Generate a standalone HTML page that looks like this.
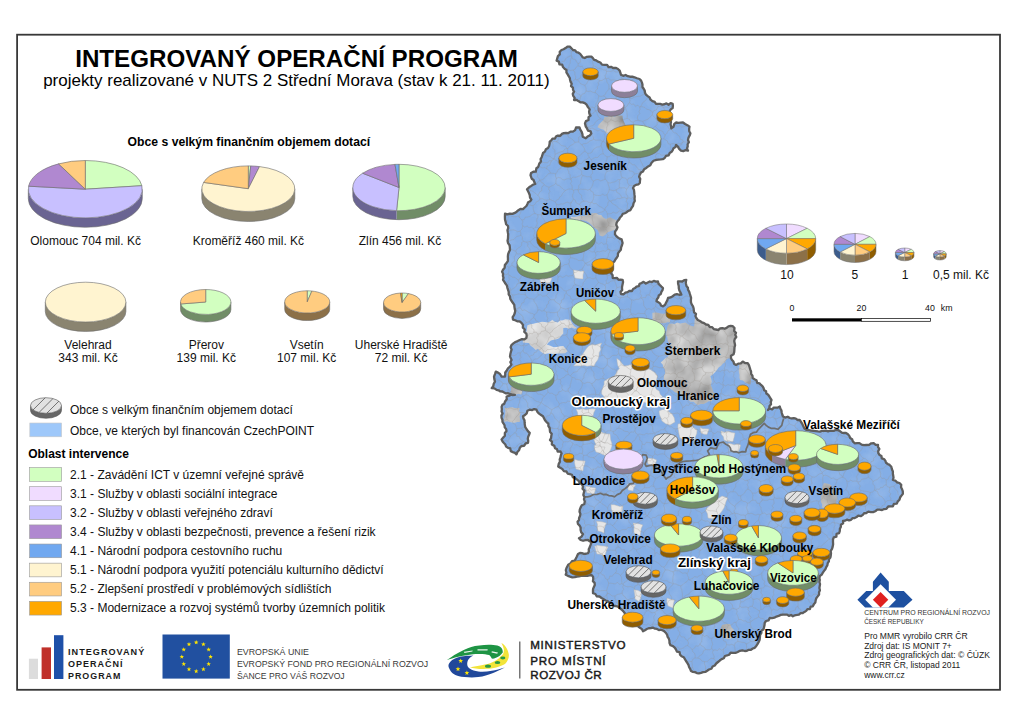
<!DOCTYPE html>
<html><head><meta charset="utf-8"><style>
html,body{margin:0;padding:0;background:#fff;}
svg{display:block;font-family:"Liberation Sans",sans-serif;}
</style></head><body>
<svg width="1024" height="724" viewBox="0 0 1024 724">
<rect x="0" y="0" width="1024" height="724" fill="#fff"/>
<defs><filter id="blur2" x="-20%" y="-20%" width="140%" height="140%"><feGaussianBlur stdDeviation="1.5"/></filter></defs>
<rect x="17.1" y="34.7" width="982.9" height="655.1" fill="none" stroke="#383838" stroke-width="1.8"/>
<text x="75.2" y="66.7" font-size="23.2" font-weight="bold" text-anchor="start" fill="#000" textLength="442.6" lengthAdjust="spacingAndGlyphs">INTEGROVANÝ OPERAČNÍ PROGRAM</text>
<text x="43.2" y="85.8" font-size="17" font-weight="normal" text-anchor="start" fill="#000" textLength="506.4" lengthAdjust="spacingAndGlyphs">projekty realizované v NUTS 2 Střední Morava (stav k 21. 11. 2011)</text>
<defs><path id="mo" d="M556.6 60.7 L557.26 58.41 L557.93 56.13 L559.81 54.41 L559.74 51.78 L561.5 50 L563.6 49.22 L565.55 48.05 L567.39 46.63 L569.8 46.6 L571.39 48.31 L573 50 L575.2 50.38 L576.45 52.18 L578.54 52.72 L580.2 53.89 L581.51 55.59 L582.75 57.4 L584.8 58 L586.84 56.8 L589.09 56.53 L591.4 56.6 L592.9 58.05 L594.16 59.81 L596.26 60.47 L598 61.6 L600.32 62.51 L602.05 64.65 L604.7 64.9 L607.09 64.83 L608.6 67.12 L611.07 66.83 L613 68 L615.64 67.8 L618 69 L619.68 70.58 L620.34 72.69 L621 74.8 L623.13 75.84 L625.62 75.01 L627.72 76.21 L629.95 76.74 L632.3 76.63 L634.5 77.3 L636.97 78.24 L639.5 79 L641.12 80.63 L641.94 82.59 L642.48 84.66 L642.42 86.99 L643.7 88.76 L644.72 90.63 L645.03 92.8 L646 94.7 L647.73 96.15 L649.6 97.44 L650.6 99.69 L652.4 101.06 L654.68 101.9 L656 103.8 L658.09 103.95 L660.17 103.85 L662.26 104.55 L664.35 104.26 L666.44 103.38 L668.53 104.76 L670.61 103.04 L672.7 103.8 L672.86 105.9 L672.7 108 L670.72 109.4 L669.5 111.5 L670.49 113.5 L670.12 115.7 L671.31 117.67 L670.37 119.95 L671 122 L670.57 124.13 L671.05 126.21 L671.3 128.3 L673.45 126.84 L674.14 124.2 L676 122.5 L678.33 122.89 L680.67 122.69 L683 122.5 L685.08 124 L687.38 125.16 L689.5 126.6 L689.13 128.92 L689.22 131.19 L690.4 133.3 L689.65 135.55 L688.49 137.66 L688 140 L688.88 142.14 L687.6 144.28 L687.71 146.42 L687.01 148.56 L688 150.7 L685.67 150.06 L683.33 151.13 L681 150.7 L679.16 148.92 L677.92 146.61 L676 144.9 L675.49 147.11 L673.54 148.19 L672.74 150.17 L671.56 151.85 L669.7 153 L668.66 155.29 L665.99 155.95 L664.7 158 L662.78 159.17 L660.66 159.39 L658.52 159.56 L656.4 159.8 L653.5 160.77 L651.4 163 L650.31 165.27 L648.11 166.43 L646.29 167.97 L644.14 169.18 L643 171.4 L640.94 172.61 L639.8 174.7 L639.07 176.77 L640.24 178.85 L639.97 180.93 L639.8 183 L638.27 184.48 L635.94 184.88 L634.16 186.01 L633 188 L633.99 190.07 L634.24 192.24 L634.43 194.43 L634.73 196.59 L634.53 198.83 L634.8 201 L633.54 203.26 L633.03 205.87 L631.5 208 L630.47 210.1 L628.3 210.79 L626.71 212.2 L624.82 213.23 L622.68 213.96 L621.6 216 L620.04 217.47 L619.08 219.38 L617.66 220.96 L616.6 222.8 L616.25 225.03 L617.49 227.27 L616.6 229.5 L615.04 231.7 L615 234.4 L616.31 236.1 L617.85 237.5 L619.59 238.62 L621.6 239.4 L622.6 243 L621.98 245.23 L621.14 247.37 L620.87 249.73 L619.3 251.6 L617.97 253.37 L617.86 255.84 L616.75 257.73 L615.4 259.49 L614.38 261.44 L612.7 263 L612.68 265.05 L612.9 267.15 L612.67 269.17 L612.03 271.12 L611 273 L612.6 275.24 L612.7 278 L614.73 278.09 L616.83 277.79 L618.51 279.82 L620.58 279.66 L622.6 279.8 L623.07 281.91 L622.64 283.91 L622.22 285.92 L621.96 287.94 L622.21 290.03 L620.54 291.89 L621 294 L623.46 294.35 L625.38 292.73 L627.59 292.17 L629.58 290.8 L632 291 L633.09 289.06 L635 288.09 L636.5 286.64 L638.82 286.17 L639.57 283.81 L641.6 283 L643.56 281.85 L645.79 283.5 L647.76 282.46 L649.73 281.5 L651.86 282.09 L653.81 280.86 L655.96 281.66 L658 281.4 L658.49 283.63 L659.92 285.14 L661.44 286.59 L663 288 L662.5 290.11 L661.38 291.92 L660.81 293.99 L658.8 295.36 L658.3 297.47 L656.93 299.15 L656.5 301.3 L658.33 302.28 L660.09 303.36 L661 305.54 L663 306.3 L665.08 304.73 L666.1 302.51 L667.27 300.39 L668 298 L670.51 297.47 L672.68 296.23 L674.7 294.7 L676.93 294.15 L679.17 294.74 L681.4 294.7 L680.55 292.55 L679.35 290.5 L678.79 288.28 L678.71 285.94 L678.1 283.74 L678 281.4 L680.15 281.38 L682.32 281.5 L684.21 280.1 L686.3 279.8 L685.78 281.93 L686.02 283.93 L686.42 285.89 L687.93 287.67 L688 289.7 L689.16 291.61 L689.77 293.69 L690.46 295.75 L691.07 297.83 L690.89 300.15 L690.98 302.38 L691.72 304.42 L693 306.3 L693.59 308.24 L693.81 310.28 L694.07 312.31 L696 313.87 L695.44 316.14 L696.3 318 L697.78 319.98 L699.87 321.07 L701.84 322.32 L704.08 323.16 L706 324.5 L708.29 324.92 L709.74 327.02 L712.15 327.2 L713.73 329.04 L716 329.5 L718.28 330.01 L720.16 328.47 L722.26 328.07 L724.57 328.73 L726.59 327.88 L728.47 326.38 L730.56 325.88 L732.8 326.2 L734.49 328.1 L734.2 330.95 L736 332.8 L735.19 334.82 L736.3 337.02 L734.75 338.96 L734.24 341.01 L734.69 343.14 L735.1 345.28 L734.5 347.32 L734.4 349.4 L734.24 351.87 L733.61 354.15 L730.97 355.66 L731 358.2 L732.01 360.05 L733.46 361.58 L734.05 363.74 L736 364.9 L738.17 363.68 L740.8 363.37 L742.7 361.6 L745 363.02 L747.7 363.2 L748.96 365.13 L749.6 367.27 L750.24 369.41 L751.05 371.49 L751.11 373.83 L752.44 375.73 L752.7 378 L754.45 379.28 L756.48 380.24 L757.12 382.83 L759.49 383.38 L761 384.94 L762.6 386.4 L763.58 388.16 L764.16 390.18 L766.08 391.31 L766.37 393.53 L768.18 394.74 L769.3 396.4 L770.35 398.23 L771.5 400 L770.76 401.98 L771.01 404.32 L769.51 406.04 L769.3 408.21 L768 410 L769.68 408.47 L772.1 409.41 L773.71 407.62 L775.85 407.62 L777.96 407.52 L779.8 406.5 L780.33 408.53 L781.41 410.39 L781.69 412.51 L782.25 414.53 L783 416.5 L785.14 417.56 L787.7 416.73 L789.8 418 L791.76 418.48 L793.85 418.23 L795.82 418.64 L797.62 419.98 L799.7 419.8 L801.01 421.81 L802.24 423.87 L803.23 426.09 L804.29 428.25 L806.3 429.8 L808.66 430.01 L810.95 430.66 L813.32 430.77 L815.66 431.1 L818 431.4 L820.03 431.61 L821.99 430.95 L824.01 430.93 L826 430.65 L828.08 431.39 L830.04 430.73 L832.07 430.91 L834.08 430.86 L836 429.8 L838.15 429.98 L839.96 431.19 L841.73 432.56 L843.79 433.01 L846 433 L847.92 434.22 L849.31 435.88 L850.17 437.97 L852.1 439.18 L852.8 441.4 L854.7 443.3 L857.1 443.13 L859.46 443.14 L861.61 444.66 L863.9 445.22 L866.3 445 L869.06 444.9 L871.3 443.3 L873.7 443.2 L875.66 444.85 L878 445 L878 447.05 L879.35 448.89 L878.2 451.12 L878.36 453.15 L879.6 455 L881.42 456.02 L881.82 458.47 L884.03 459.1 L885.33 460.64 L886.05 462.77 L887.7 463.96 L889.6 464.9 L891.31 466.8 L891.92 469.24 L892.9 471.5 L892.87 473.57 L893.22 475.65 L893.51 477.73 L892.9 479.8 L895.26 480.54 L897.11 482.33 L899.5 483 L901.22 484.75 L901.05 487.24 L902.09 489.26 L902.8 491.4 L902.87 493.83 L901.46 495.67 L900.09 497.53 L899.5 499.7 L897.83 501.33 L896.82 503.62 L893.86 503.96 L892.9 506.3 L890.54 506.31 L888.23 506.52 L886.45 508.77 L884.15 509.02 L882.04 510.03 L879.6 509.7 L877.25 509.71 L875.28 511.25 L873.13 512.07 L870.77 512.05 L868.32 511.65 L866.3 513 L864.11 513.25 L862.62 515.11 L860.78 516.14 L858.23 515.56 L856.58 517.04 L854.7 518 L852.65 518.11 L851 519.8 L849.07 520.36 L846.81 519.64 L844.99 520.64 L843 521 L843.17 523.26 L840.89 524.73 L840.82 526.92 L839.87 528.82 L839.8 531 L839.09 533.22 L836.52 533.95 L836.4 536.64 L833.79 537.35 L833 539.5 L832.99 541.87 L833.12 544.25 L832.7 546.6 L832.03 548.81 L830.74 550.86 L831 553.3 L830.78 555.43 L830.38 557.49 L828.97 559.22 L828.86 561.39 L827.7 563.2 L827.34 565.43 L826.22 567.23 L825.37 569.19 L824.07 570.89 L822.84 572.63 L821.82 574.49 L819.98 575.9 L819.4 578 L819.82 580 L819.4 582 L820.04 584 L819.71 586 L819.4 588 L819.92 590.29 L819.04 592.3 L819.08 594.49 L817.7 596.4 L816.3 598.17 L815.65 600.31 L815.32 602.62 L813.83 604.34 L812.8 606.3 L810.65 606.69 L809.9 609.19 L807.44 609.12 L806.21 610.88 L804.47 611.89 L802.8 613 L800.61 613.03 L798.91 614.52 L796.86 614.97 L794.76 615.28 L792.9 616.3 L791.08 615.01 L788.89 615.93 L787.07 614.63 L785.05 614.53 L783 614.6 L780.72 614.9 L778.61 615.92 L776.43 616.6 L774.35 617.73 L772.1 618.15 L769.7 618 L768.64 620.27 L766.03 620.99 L764.7 623 L764.5 625.13 L764.02 627.17 L763.51 629.2 L761.41 630.7 L761.4 632.9 L760.12 634.92 L759.94 637.21 L759.7 639.5 L758.82 641.8 L757.64 643.92 L756.3 645.94 L754.7 647.8 L752.74 648.52 L750.95 649.73 L748.79 649.82 L746.93 650.81 L744.8 651 L742.3 650.45 L739.94 650.79 L737.71 651.99 L735.44 652.95 L733 652.8 L730.63 652.73 L729.09 654.75 L727.03 655.47 L724.9 656 L723.83 658.25 L721.61 659.18 L719.76 660.54 L718 662 L716.2 663.5 L714.78 665.46 L712.59 666.49 L711.43 668.76 L709 669.5 L707.18 670.76 L705.31 671.91 L703.08 672.16 L701 672.8 L698.84 673.34 L696.83 673.02 L694.93 672.11 L692.91 671.89 L691 671 L690.15 668.92 L689.05 666.97 L688.45 664.78 L687.28 662.86 L686 661 L684.9 659.07 L683.71 657.22 L681.55 656.22 L680.02 654.66 L679.59 652.15 L676.9 651.6 L676 649.5 L674.69 647.56 L672.95 646.05 L670.48 645.27 L669.5 643 L669.43 640.78 L668.84 638.74 L667.64 636.92 L667.14 634.85 L666 633 L663.84 630.83 L661 629.7 L658.88 630.07 L657.01 628.97 L655 628.67 L653.11 627.68 L651 628 L648.77 628.26 L646.75 629.05 L644.94 630.32 L643 631.3 L641.89 629.08 L639.93 627.71 L638 626.3 L636.12 625.27 L633.83 625.49 L631.71 625.21 L629.77 624.36 L628 623 L627.08 621.09 L625.93 619.25 L626.66 616.79 L625.47 614.96 L624.7 613 L623.21 611.15 L621.55 609.49 L619.7 608 L617.88 606.68 L615.73 606.02 L613.31 605.89 L612.05 603.47 L609.8 603 L607.98 601.32 L605.65 600.49 L603.61 599.19 L601.5 598 L599.53 596.52 L596.82 596.36 L595.36 593.99 L593 593.2 L592.97 591.04 L593.07 588.92 L593.89 586.95 L594.8 585 L594.58 582.86 L592.92 581.18 L593.28 578.85 L593.06 576.7 L591.5 575 L589.41 575.29 L587.36 575.78 L585.24 575.87 L583.1 575.74 L580.99 575.85 L578.94 576.42 L576.85 576.64 L574.8 577.2 L572.3 577.39 L570.06 576.63 L567.84 575.8 L565.7 574.7 L566.45 572.52 L565.84 570.19 L566.5 568 L568.2 564.8 L570.47 563.51 L572.08 561.18 L574.8 560.6 L576.5 557.3 L578 554 L579.93 552.96 L581.96 553.22 L584.03 553.86 L586.03 553.74 L588 553.2 L588.9 551.37 L588.73 549.22 L589.7 547.4 L590.58 544.91 L591.4 542.4 L589.66 541.26 L588 540 L585.53 540.07 L583.07 540.76 L580.6 540 L579 538.2 L581.57 536.64 L583 534 L581.28 532.31 L580.6 530 L580.61 527.62 L579.67 525.65 L578 524 L577.56 521.77 L579 520 L579.08 517.93 L579.96 515.93 L580.41 513.89 L579.54 511.75 L579.8 509.7 L580.65 507.39 L581.8 505.25 L584.31 503.93 L584.8 501.4 L583.97 499.33 L584.45 497.09 L583.32 495.06 L583.82 492.82 L584.41 490.58 L582.53 488.63 L583 486.4 L581.82 484.27 L579.73 483.03 L578.63 480.82 L576.73 479.4 L574.8 478 L572.81 477.12 L571.97 474.77 L569.8 474.12 L567.57 473.55 L566.5 471.5 L563.91 471.1 L562.34 469.01 L560.22 467.83 L558.2 466.5 L558.73 463.91 L560 461.6 L559.69 459.39 L560.49 457.39 L560.84 455.31 L561.6 453.3 L560.36 451.51 L557.7 451.59 L556.95 449.15 L555 448.3 L554.33 445.88 L551.85 444.54 L551.98 441.63 L550 440 L551.06 438.13 L551.3 436 L551.69 433.84 L550.09 432.08 L549.85 430.05 L549.7 428 L548.4 426.16 L548.33 423.6 L546.5 422.06 L544.99 420.34 L543.99 418.32 L543 416.3 L541.03 414.97 L539.06 413.64 L537.49 411.91 L536.4 409.7 L534.17 409.03 L531.93 410.13 L529.7 409.7 L527.41 410.73 L526.7 413.36 L525 414.98 L523 416.3 L523.43 418.38 L524.51 420.32 L524.6 422.47 L524.8 424.6 L525.24 427.14 L526.59 429.14 L527.94 431.14 L529.7 432.9 L529.1 434.84 L528.21 436.72 L527.81 438.69 L528.24 440.8 L528 442.8 L525.64 443.47 L524.06 445.74 L521.5 446 L519.85 447.86 L519.08 450.25 L517.32 452.04 L516.5 454.4 L514.98 452.85 L512.84 452.1 L510.85 451.15 L510.22 448.45 L508 447.8 L506.13 446.6 L505.4 444.51 L503.91 443.01 L502.56 441.41 L501.6 439.5 L503.24 437.61 L504.88 435.73 L504.86 432.89 L506.5 431 L506.11 429.01 L504.76 427.37 L504.56 425.31 L503.57 423.54 L502.46 421.81 L502.4 419.7 L501.53 417.69 L501.42 415.61 L502.61 413.4 L501.6 411.4 L501.86 409.2 L501.58 406.93 L502.4 404.8 L504.34 403.65 L505 401.5 L506.75 399.3 L506.6 396.5 L508.65 395.98 L510.61 394.94 L512.7 394.62 L514.9 394.8 L512.48 395.06 L510.36 394.04 L508.2 393.2 L506.04 393.42 L504.19 392.57 L502.4 391.5 L500.34 391.43 L498.57 390.3 L496.6 389.9 L494.4 388.32 L491.7 388.2 L493.25 386.22 L493.74 383.72 L495 381.6 L494.33 379.13 L494 376.6 L494.95 374.12 L495.8 371.6 L498.02 372.59 L500 374 L501.6 376.6 L505 376.6 L505.22 374.58 L505.22 372.5 L506.6 370.8 L507.95 368.42 L510 366.6 L511.44 364.62 L510.34 362.02 L511.6 360 L510 356.6 L510.31 354.28 L510.86 351.99 L511.62 349.73 L510.64 347.25 L511.5 345 L513.34 343.36 L515.39 342.07 L517.62 341.08 L519.8 340 L521.97 339.16 L524.49 339.39 L526.4 337.8 L526.68 335.59 L526.33 333.51 L524.26 331.76 L524.8 329.5 L522.86 327.72 L522.97 324.91 L521.5 322.9 L519.66 321.34 L517.23 321.3 L515.19 320.26 L513 319.6 L512.64 317.14 L513.99 315.14 L514.8 313 L515.28 310.85 L514.72 308.88 L514.42 306.87 L514.29 304.83 L513 303 L511.54 300.97 L510.29 298.85 L510 296.3 L508.67 294.3 L508.71 291.89 L508 289.7 L507.33 287.56 L506.79 285.34 L505.4 283.56 L504.26 281.65 L503 279.8 L503.53 277.8 L502.91 275.8 L503.1 273.8 L502.08 271.8 L503 269.8 L504.67 267.79 L504.86 265.02 L506.5 263 L507.89 261.05 L507.95 258.74 L507.87 256.4 L508.11 254.14 L508.94 252.04 L510 250 L509.87 247.61 L509.59 245.25 L508.04 243.11 L507.55 240.78 L508 238.3 L508.05 236.25 L508.17 234.2 L507.78 232.15 L507.45 230.1 L508.2 228.05 L508 226 L506.11 224.24 L505.64 221.83 L505 219.5 L504.92 216.6 L505 213.7 L507.52 214.41 L509.92 213.59 L512.41 213.87 L514.8 212.9 L516.71 211.71 L518.4 210.14 L520.34 209.02 L523 209.09 L524.68 207.5 L526.4 206 L527.35 204.16 L528.15 202.21 L530.15 201.2 L531.4 199.6 L530 197.5 L529.74 195.06 L528.8 192.8 L527 189.3 L529.4 187 L531.26 185.86 L533.04 184.57 L535.2 184 L534.31 182.05 L533.58 180 L531.7 178.7 L530.5 175.2 L531.1 172.9 L533.31 171.77 L535.8 171.7 L536.4 168.2 L538.2 167 L539.3 163.5 L541 161.5 L540.59 159.16 L541.68 157.18 L542.35 155.09 L543 153 L544.92 151.59 L545.91 149.24 L548 148 L549.14 146.02 L549.6 143.86 L549.7 141.6 L551.28 140.36 L552.48 138.64 L555.01 138.59 L556 136.6 L557.87 135.53 L560.22 135.76 L561.82 133.93 L563.81 133.2 L566 133 L568.4 133.04 L570.52 131.66 L572.9 131.6 L575.17 130.1 L576 127.5 L579.5 127.3 L580.31 129.65 L581.69 131.8 L582.42 134.17 L582.7 136.7 L585.8 138.3 L587.53 136.61 L589.68 135.42 L591.3 133.6 L590.63 131.3 L587.99 130.54 L587.01 128.48 L585.8 126.6 L585 123.4 L585.91 121.12 L588.52 120.05 L588.54 117.14 L590.5 115.6 L589.34 113.65 L589.09 111.58 L589.7 109.4 L587.97 107.17 L586.6 104.7 L584.78 103.16 L582.67 102.38 L580.3 102.3 L578.36 101.1 L576.44 99.83 L574 100 L574.66 97.86 L573.26 95.91 L572.77 93.88 L574.07 91.68 L573 89.7 L572.94 87.62 L571.03 86.05 L571.72 83.76 L570.63 81.96 L570.09 80.02 L569.8 78 L568.66 76.1 L567.54 74.2 L566.4 72.3 L566.5 69.9 L564.55 68.69 L563 67.05 L562.17 64.63 L559.39 64.32 L558.88 61.55 Z"/></defs><clipPath id="mapclip"><use href="#mo"/></clipPath>
<filter id="tex" x="0" y="0" width="100%" height="100%"><feTurbulence type="fractalNoise" baseFrequency="0.06" numOctaves="3" seed="3"/><feColorMatrix values="0 0 0 0 0.45  0 0 0 0 0.6  0 0 0 0 0.85  0 0 0 -1.3 0.75"/></filter>
<filter id="gblur" x="-30%" y="-30%" width="160%" height="160%"><feGaussianBlur stdDeviation="1.6"/></filter>
<use href="#mo" fill="#84AEE6"/>
<g clip-path="url(#mapclip)">
<rect x="480" y="40" width="430" height="640" filter="url(#tex)" opacity="0.55"/>
<filter id="hill" x="0" y="0" width="100%" height="100%"><feTurbulence type="fractalNoise" baseFrequency="0.055" numOctaves="4" seed="5" result="n"/><feColorMatrix in="n" type="matrix" values="0.6 0 0 0 0.2  0.6 0 0 0 0.2  0.6 0 0 0 0.2  0 0 0 0 1" result="g"/><feGaussianBlur in="g" stdDeviation="0.9" result="gb"/><feComposite in="gb" in2="SourceAlpha" operator="in"/></filter>
<g filter="url(#hill)">
<path d="M722 625 L724.6 624.14 L727.3 624.08 L730 624 L731.52 627.32 L734 630 L732.45 632.82 L732.12 636.04 L731 639 L727.39 639.3 L724 638 L721.96 635.03 L720 632 L720.78 628.44 Z" fill="#000"/>
<path d="M604.5 116.4 L607.1 117.04 L609.62 115.62 L612.2 115.81 L614.82 116.66 L617.32 114.98 L619.92 115.55 L622.5 115.6 L622.73 118.36 L623.57 120.94 L624.8 123.4 L626.21 126.55 L626 130 L624.2 131.94 L621.98 133.09 L619.04 132.94 L617.41 135.18 L615 136 L612.43 134.77 L609.8 133.71 L606.9 133.6 L603.8 129.7 L600.55 128.77 L597.5 127.3 L598.71 124.77 L600.6 122.7 L603.8 119.5 Z" fill="#000"/>
<path d="M570.9 216.7 L573.87 217.37 L576.76 216.61 L579.65 215.82 L582.6 216.1 L585.33 215.75 L587.76 214.33 L590.37 213.54 L593.1 213.2 L596.02 212.93 L598.47 214.85 L601.3 215 L603.16 217.61 L606 219.1 L610.1 217.3 L613.25 218.97 L616.6 220.2 L616.05 223.81 L617.1 227.3 L614.98 229.76 L611.9 230.8 L607.2 232.5 L605.16 234.91 L602.5 236.6 L599.6 235.5 L598.66 232.86 L597.8 230.2 L594.3 227.8 L591.4 224.9 L588.85 222.61 L585.92 221.05 L582.6 220.2 L579.65 219.98 L576.69 219.79 L573.81 219.05 L570.9 218.5 Z" fill="#000"/>
<path d="M669 323.8 L671.77 323.55 L674.6 324.1 L677.25 322.53 L680.11 323.41 L682.87 323.06 L685.6 322.4 L688.1 324.32 L690.91 325.64 L693.9 326.6 L694.52 323.76 L694.46 320.82 L695.2 318 L697.72 318.44 L700.12 319.26 L702.32 320.74 L705.12 320.28 L707.49 321.23 L709.62 322.93 L712.31 322.82 L714.6 324 L717.15 322.57 L719.87 321.85 L722.82 322.09 L725.46 321.03 L728.47 321.51 L731 320 L732.32 322.47 L734.02 324.59 L736.81 325.71 L738.89 327.49 L740.7 329.51 L742 332 L741.6 334.5 L740.83 336.94 L740.89 339.52 L740.87 342.08 L740.15 344.52 L739.39 346.97 L738.89 349.45 L738.36 351.93 L737.78 354.4 L738 357 L734.76 357.14 L731.69 358.54 L728.4 358.3 L726.12 359.72 L724.96 362.26 L722.76 363.76 L721.16 365.86 L718.85 367.25 L717.3 369.4 L715.38 372.08 L713.02 374.32 L710.4 376.3 L711.2 378.99 L711.72 381.72 L710.76 384.64 L711.8 387.3 L713.07 390.8 L714.6 394.2 L713.96 396.65 L712.91 398.94 L711.8 401.2 L708.79 401.17 L706.28 402.83 L703.66 404.12 L700.6 403.95 L698 405.3 L695.71 403.68 L693.59 401.78 L690.37 401.8 L688.3 399.8 L686.08 398.46 L684.21 396.55 L682.03 395.14 L679.9 393.65 L677.3 392.9 L674.76 392.19 L672.94 390.41 L670.69 389.27 L669 387.3 L666.7 384.84 L666.04 381.3 L663.5 379 L664.11 375.82 L665.2 372.71 L664.9 369.4 L663.3 367.22 L662.66 364.46 L660.7 362.5 L662.94 360.6 L665.03 358.5 L667.6 357 L669.01 354.39 L670.23 351.72 L670.4 348.7 L668.79 346.16 L668.7 343.11 L667.6 340.4 L667.35 337.6 L666.17 334.95 L666.2 332.1 L666.91 329.26 L667.45 326.36 Z" fill="#000"/>
<path d="M652.4 312.8 L655.21 312.47 L657.97 312.76 L660.69 313.58 L663.45 313.87 L666.27 313.27 L669 314 L670.21 316.7 L669.98 319.56 L670 322.4 L667.48 322.23 L665.03 323.27 L662.52 323.19 L660 323 L657.27 322.5 L655.13 320.51 L652.4 320 L652.49 316.4 Z" fill="#000"/>
<path d="M738 362.5 L741.24 360.51 L745 360 L747.02 362.04 L747.96 364.71 L749.12 367.25 L750.38 369.73 L752 372 L752.43 374.61 L752 377.11 L750.75 379.52 L750.96 382.1 L750.5 384.6 L747.72 383.81 L745.11 382.62 L742.95 380.4 L740 380 L739.38 377.54 L739.55 374.99 L738.89 372.53 L738.71 370.02 L739.22 367.43 L739.17 364.9 Z" fill="#000"/>
<path d="M510.6 387 L513.27 386.75 L515.95 386.45 L518.62 387.41 L521.3 387 L521.83 389.5 L522.19 392 L521.3 394.5 L518.62 393.78 L515.95 394.64 L513.27 393.92 L510.6 394.5 L510.43 392 L511.29 389.5 Z" fill="#000"/>
<path d="M504.6 408 L507.13 407.93 L509.67 407.39 L512.2 407.13 L514.73 408.09 L517.27 408.25 L519.8 408 L519.06 410.8 L520.54 413.6 L519.58 416.4 L520.03 419.2 L519.8 422 L517.27 421.99 L514.73 422.64 L512.2 422.39 L509.67 421.96 L507.13 421.23 L504.6 422 L503.9 419.2 L504.58 416.4 L505.15 413.6 L505.44 410.8 Z" fill="#000"/>
<path d="M824 483 L826.86 483.49 L829.57 484.37 L832 486 L832.54 488.86 L833.73 491.38 L835.78 493.49 L837 496 L837.55 498.94 L835.74 501.68 L836.45 504.64 L836 507.5 L833.2 506.77 L830.4 507.28 L827.6 506.92 L824.8 508.11 L822 507.5 L822.19 504.57 L820.85 501.81 L820.85 498.89 L820.7 496 L821.96 493.55 L822.59 490.95 L822.13 488.06 L822.85 485.48 Z" fill="#000"/>
</g>
<filter id="hill2" x="0" y="0" width="100%" height="100%"><feTurbulence type="fractalNoise" baseFrequency="0.055" numOctaves="4" seed="9" result="n"/><feColorMatrix in="n" type="matrix" values="0.5 0 0 0 0.44  0.5 0 0 0 0.44  0.5 0 0 0 0.44  0 0 0 0 1" result="g"/><feGaussianBlur in="g" stdDeviation="0.9" result="gb"/><feComposite in="gb" in2="SourceAlpha" operator="in"/></filter>
<g filter="url(#hill2)">
<path d="M527.4 325.2 L530.31 324.32 L533.31 323.83 L536.2 322.9 L539.2 322.4 L541.97 321.72 L544.73 321.94 L547.5 322.4 L550.1 321.4 L552.3 319.7 L554.73 321.69 L557.8 322.4 L560 320.51 L562.91 320.24 L565.4 319 L570.2 319.7 L572.3 323.8 L574.45 326.25 L577.2 328 L574.42 328.83 L571.64 327.39 L568.86 328.69 L566.08 327.82 L563.3 328 L563.21 330.75 L563.3 333.5 L561.08 335.75 L559.2 338.3 L556.52 339.34 L553.7 339.84 L550.9 340.4 L548.74 342.34 L546.8 344.5 L550.3 345.78 L553.7 347.3 L556.94 347.12 L560.09 346.27 L563.3 345.9 L565.49 348.58 L567.5 351.4 L565.06 353.25 L562 353.5 L559.11 353.4 L556.23 353.75 L553.37 354.33 L550.45 353.49 L547.56 353.58 L544.7 354.2 L540.6 351.4 L537.8 348.7 L535.7 350 L533.35 347.75 L530.69 345.81 L528.8 343.1 L525.7 342.85 L522.6 342.5 L523 339.77 L524.7 337.6 L525.06 333.96 L526.7 330.7 L526.93 327.93 Z" fill="#000"/>
</g>
<path d="M616.8 358.4 L619.8 360.47 L621.93 363.4 L624.4 366 L627.96 365.52 L631.42 364.27 L635.11 364.72 L638.55 363.34 L642.2 363.5 L644.53 365.68 L647.04 367.61 L649.84 369.14 L652.4 371 L655.41 373.11 L657.4 376.2 L656.59 379.57 L655.99 382.98 L655 386.3 L656.29 389.28 L659.22 391.06 L660.16 394.29 L662.5 396.5 L660.09 399.55 L658.77 403.13 L657.4 406.7 L654.52 405.2 L651.16 405.12 L648.53 402.91 L645.24 402.63 L642.2 401.6 L638.97 400.87 L635.75 400.93 L632.52 402.14 L629.29 401.14 L626.06 400.91 L622.84 402.3 L619.61 401.84 L616.38 401.19 L613.15 402.15 L609.93 400.97 L606.7 401.6 L604.7 399.27 L603.72 396.25 L601.6 394 L601.67 390.71 L602.85 387.65 L604.13 384.6 L604.1 381.3 L607.29 379.18 L610.73 377.56 L614.3 376.2 L615.97 373.67 L617.39 370.97 L619.3 368.6 L617.75 365.38 L617.14 361.92 Z" fill="#E6E6E6" stroke="#B8B8B8" stroke-width="0.5"/>
<path d="M589 345.7 L592.04 344.49 L595.45 345.03 L598.51 343.96 L601.6 343 L600.33 346.13 L600.82 349.6 L599.2 352.66 L599 356 L597.88 359.61 L595.62 362.64 L594 366 L590.6 365.78 L587.2 366.22 L583.8 365.4 L580.4 365.91 L577 365.87 L573.6 366 L576.25 363 L577.33 358.99 L580 356 L582.84 353.94 L584.66 350.99 L586.62 348.16 Z" fill="#E6E6E6" stroke="#B8B8B8" stroke-width="0.5"/>
<path d="M576 409 L579.28 409.48 L582.57 408.62 L585.85 409.78 L589.13 409.12 L592.42 408.78 L595.7 409 L593.95 412.35 L593 416 L590 416.09 L587 416.52 L584 415.61 L581 416.72 L578 416 L577.49 412.36 Z" fill="#E6E6E6" stroke="#B8B8B8" stroke-width="0.5"/>
<path d="M596 431 L599.58 431.36 L602.95 432.72 L606.34 434.01 L610 434 L610.36 437.02 L610.74 440.04 L611.8 442.95 L612 446 L610.68 449.74 L608.64 453.05 L606 456 L603 454.45 L600.78 451.85 L598 450 L596.57 446.71 L595.35 443.33 L594 440 L595.28 437.14 L594.76 433.87 Z" fill="#E6E6E6" stroke="#B8B8B8" stroke-width="0.5"/>
<path d="M659 411 L662.38 409.58 L666 409 L668.84 411.69 L672 414 L674.22 417.73 L675 422 L670 425 L665.64 423.71 L662 421 L660.78 417.73 L659.4 414.51 Z" fill="#E6E6E6" stroke="#B8B8B8" stroke-width="0.5"/>
<path d="M678 424 L681.31 423.44 L684.62 422.89 L688 423 L690.92 425.44 L693.91 427.78 L697 430 L696.8 433.43 L695.47 436.63 L695 440 L691.52 442.03 L688 444 L684.98 442.47 L683.09 439.44 L680 438 L679.09 434.56 L678.44 431.08 L677.86 427.59 Z" fill="#E6E6E6" stroke="#B8B8B8" stroke-width="0.5"/>
<path d="M573.5 270 L576.98 270.55 L580.44 271.26 L584 271 L583.05 274.94 L583 279 L578.98 278.66 L575 278 L573.88 274.07 Z" fill="#E6E6E6" stroke="#B8B8B8" stroke-width="0.5"/>
<path d="M539 277 L542.31 276.47 L545.48 277.73 L548.74 277.85 L552 278 L550 283 L547 283.24 L544 282.77 L541 283 L539.91 280.03 Z" fill="#E6E6E6" stroke="#B8B8B8" stroke-width="0.5"/>
<path d="M700 427.5 L702.89 428.69 L705.94 428.87 L709 429 L707 434.5 L703.9 434.14 L701 433 Z" fill="#E6E6E6" stroke="#B8B8B8" stroke-width="0.5"/>
<path d="M721 431 L724.41 432.14 L728.1 431.28 L731.49 432.55 L735 433 L734.15 437.28 L733 441.5 L729.93 441.41 L726.88 441.2 L724 440 L723.42 436.86 L721.26 434.25 Z" fill="#E6E6E6" stroke="#B8B8B8" stroke-width="0.5"/>
<path d="M728 443.3 L731.14 443.81 L734.21 444.85 L737.53 444.01 L740.6 445 L739.75 448.67 L738 452 L734.02 451.33 L730 451 L729.01 447.15 Z" fill="#E6E6E6" stroke="#B8B8B8" stroke-width="0.5"/>
<path d="M598 432.3 L601.53 433.09 L605.05 433.93 L608.7 434 L607.95 437.2 L606.52 440.12 L605 443 L600 441 L598.69 436.72 Z" fill="#E6E6E6" stroke="#B8B8B8" stroke-width="0.5"/>
<path d="M594.6 445.2 L598.19 445.09 L601.43 447.01 L605 447 L603.56 450.68 L603 454.6 L599.62 452.98 L596 452 L594.53 448.76 Z" fill="#E6E6E6" stroke="#B8B8B8" stroke-width="0.5"/>
<path d="M574.7 459.3 L578.11 460.41 L581.64 460.82 L585.2 461 L584.52 464.35 L583.36 467.58 L583 471 L579.48 470.07 L576 469 L575.13 465.82 L574.51 462.62 Z" fill="#E6E6E6" stroke="#B8B8B8" stroke-width="0.5"/>
<path d="M646 458 L649.65 458.25 L653.27 458.61 L656.7 460 L655 465 L651.46 464.76 L648 464 L647.38 460.87 Z" fill="#E6E6E6" stroke="#B8B8B8" stroke-width="0.5"/>
<path d="M627.4 484 L631.46 484.81 L635.6 485 L633.79 487.78 L633 491 L628 490 L628.04 486.97 Z" fill="#E6E6E6" stroke="#B8B8B8" stroke-width="0.5"/>
<path d="M585.2 486.3 L588.79 486.5 L592.25 487.52 L595.8 488 L595 491.28 L594 494.5 L590.6 493.3 L587 493 L586.14 489.64 Z" fill="#E6E6E6" stroke="#B8B8B8" stroke-width="0.5"/>
<path d="M611 504.7 L614.04 504.65 L616.98 505.58 L619.92 506.41 L623 506 L622.44 510.4 L621 514.6 L617.12 513.2 L613 513 L611.25 509.03 Z" fill="#E6E6E6" stroke="#B8B8B8" stroke-width="0.5"/>
<path d="M596.4 521.3 L599.76 521.49 L603.07 522.02 L606.3 523 L605.15 526.25 L604.07 529.51 L604 533 L601.12 531.63 L598 531 L597.19 527.81 L597.53 524.43 Z" fill="#E6E6E6" stroke="#B8B8B8" stroke-width="0.5"/>
<path d="M633 523 L636.32 523.4 L639.62 523.92 L642.8 525 L641.23 528.51 L640.73 532.28 L640 536 L637.14 534.22 L634 533 L633.93 529.64 L634.1 526.26 Z" fill="#E6E6E6" stroke="#B8B8B8" stroke-width="0.5"/>
<path d="M705.6 510 L707.66 507.47 L710.22 505.35 L712.14 502.7 L714 500 L718.26 498.51 L722 496 L724.88 496.91 L727.7 498 L726.13 501.21 L725.13 504.63 L724 508 L722.24 510.69 L720.36 513.29 L717.85 515.38 L716 518 L712 518.68 L708 518 L707.43 513.81 Z" fill="#E6E6E6" stroke="#B8B8B8" stroke-width="0.5"/>
<path d="M594.7 546 L598.66 546.11 L602.56 546.59 L606.3 548 L605.75 552.17 L604 556 L600.69 554.34 L597 554 L595.61 550.07 Z" fill="#E6E6E6" stroke="#B8B8B8" stroke-width="0.5"/>
<path d="M633.9 589.8 L637.76 590.35 L641.3 592 L641.27 595.31 L640.48 598.44 L639 601.4 L635 599 L634.94 595.9 L634.48 592.84 Z" fill="#E6E6E6" stroke="#B8B8B8" stroke-width="0.5"/>
<path d="M667 598 L670.67 599.3 L674.5 600 L673.38 603.93 L673 608 L668 606 L666.81 602.09 Z" fill="#E6E6E6" stroke="#B8B8B8" stroke-width="0.5"/>
<path d="M596.5 545 L600.34 545.81 L604.27 546.12 L608.1 547 L606.58 550.04 L605.55 553.24 L605 556.6 L602.32 554.26 L599 553 L597.09 549.21 Z" fill="#E6E6E6" stroke="#B8B8B8" stroke-width="0.5"/>
<path d="M750.3 436.7l2.2 0.6l1.7 1.6l1.5 1.9l2.1 0.8l2.2 0.7l1.9 1.1M750.3 436.7l1.2 -2.3l0.9 -2.5M761.9 443.4l0.2 -2.3l1.2 -1.9l1.7 -1.8l0.6 -2.1l-0.2 -2.4M752.4 431.9l2.2 0l2.2 0l2.1 0.6l2.1 0.7l2.3 -1.5l2.1 1.2M488.7 369.4l2.2 1.4l2.3 1M493.2 371.8l-0.1 2.6l2.5 1.5l0.2 2.5M495.8 378.4l-2 1.1l-0.8 2l-1.9 1.3l-1.4 1.6l-0.5 2.3l-2.1 1l-0.5 2.3M750.5 587.2l-2.4 -1.2l-2.6 0.1l-2.6 0.1M750.5 587.2l-0.5 -2.4l2.3 -1.7l0.4 -2.1l0.9 -2.1l-0.2 -2.3M753.4 576.6l-2 -0.8l-1.2 -1.8M750.2 574l-2.2 0.5l-2.4 0l-2.4 -0.4l-1.9 2.5l-2.5 -0.7M738.8 575.9l1.1 2l0.2 2.3l1.6 1.7l0.5 2.2l0.7 2.1M845.5 523.9l2.2 -3.1M847.7 520.8l2.3 -0.1l1.7 1.2l1.8 1.1l2 0.6l1.6 1.4l2.4 -0.3l1.5 1.8M761.9 443.4l0.4 2M765.4 432.9l0.7 -0.8M766.1 432.1l2.1 0.3l2.1 -0.3l1.9 1.1l1.9 1.1l2.2 -0.3M776.3 434l1 2l-1.6 2l0.1 2l0.9 2.1l-0.6 2M762.3 445.4l2.4 0.5l2.2 -0.7l2.3 -0.6l2.2 -1l2.5 1.5l2.2 -1M786 454.7l0.4 2.1l0.3 2.1l-0.8 2.3l0.6 2.1l0.5 2.1l0.5 2.1M786 454.7l2.3 -0.6l2.2 1l2.3 -0.6l2.3 0.4l2.2 1.3l2.3 -0.9M787.5 467.5l2 -0.8l2.2 -0.5l1.6 -1.7l1.8 -1.2l2.5 -0.1l1.5 -1.8M799.6 455.3l-0.4 2l-0.8 2l0.7 2.1M868.1 516.5l-0.8 -2l0.5 -2.3l-2 -1.7l-0.3 -2.1l-0.2 -2.2M865.3 506.2l-3.5 -0.3M864.1 520.1l-1.4 -1.7l-2.1 -0.6l-2.4 -0.2l-1.1 -2.3l-1.6 -1.4l-1.7 -1.2l-2.3 -0.3M861.8 505.9l-1.8 0.9l-1.2 1.9l-2.3 0.2l-1.1 2l-2.7 -0.4l-1.2 1.9M847.7 520.8l-0.5 -2.3l1.9 -1.7l0.6 -2.1l0.2 -2.2M851.5 512.4l-1.6 0.1M805 452.5l1.7 -1.1l1 -1.9l1.9 -0.9l1.1 -1.8l2.1 -0.8l0.5 -2.5l2.4 -0.3l1.3 -1.6M805 452.5l1.7 1.6l2.7 -0.5l1.7 1.8M817 441.6l0.2 2.3l0.3 2.3l-0.2 2.5l1.4 2.1l0.5 2.2M819.2 453l-1.9 1.3l-2.1 0.3l-2.3 -0.4l-1.8 1.2M705.9 130.2l-2.1 -0.7l-2.2 -0.2l-2.2 0.4l-2.2 0l-2.1 -0.6l-2.1 -0.8l-2.2 0.9M704.6 139.2l-2.2 0.4l-2.1 -1.4l-2.2 0.3l-2.2 0.2l-2.2 0.4l-2.2 -0.7l-2.2 0.2M690.8 129.2l-1.1 2.3l1.3 2.6l-1.7 2.1l0 2.4M692.3 150.8l-1.5 -1.8l-0.7 -2.3l-1.8 -1.5M688.3 145.2l-1.4 -3.1M689.3 138.6l-1.3 1.7l-1.1 1.8M629.6 98.3l2.4 0.3l1.9 -1.3l2 -0.6l2.2 -0.3l2.2 -0.2l1.9 -1.1l2 -1.1M629.6 98.3l0.1 -2.6l-0.8 -2.3l-1.8 -1.9M631.1 83.9l2.3 -0.1l2.3 0.3l2.2 0.2l2.2 0.8M631.1 83.9l-1.1 0.7M644.2 94l-0.4 -2.5l-1.1 -2.2l-2.3 -1.6l-0.3 -2.6M630 84.6l-1 2.3l-0.8 2.4l-1.1 2.2M666.2 287.1l-2.4 -0.5l-2.1 -1.5l-2.4 -0.4l-2.5 0M654.8 273.6l0.6 2.2l0.2 2.2l0.5 2.2l0.5 2.3l0.2 2.2M676.3 264.6l0.7 2.1l-0.6 2.2l0.2 2.2l0.6 2.1l0.9 2l-1.2 2.3l1.8 1.9l-0.4 2.2M675 282.3l3.3 -0.7M621.5 135.1l1.8 1.4l1 1.9l-0.7 2.7l1.2 1.8l0.8 1.9l1 1.8l0.7 2l1.9 1.3M621.5 135.1l2.3 0l2.1 -0.4l1.8 -1.6l2 -1l2.2 0M629.2 149.9l1.8 -1.7l1 -2l-1 -3l1 -2l1.9 -1.7l0.8 -2.2M634.7 137.3l-1.3 -1.8l-0.4 -2.3M631.9 132.1l1.1 1.1M714.1 370.5l2.1 0.7l2 -0.4l2.1 0.8l2 -1.4l2.1 0.4M714.1 370.5l-1.3 1.5M724.4 370.6l-0.4 2l0.9 2.1l-1.2 2l-0.6 2l0.6 2.1l-1.1 1.9l0.8 2.1M723.4 384.8l-0.4 0.3M723 385.1l-2.1 -1l-1.8 -1.7l-3 1.1l-1.7 -1.9M714.4 381.6l-1 -2.3l0.1 -2.5l-1.2 -2.2l0.5 -2.6M714.1 370.5l0.1 -2l0.1 -2.1l-2.3 -1.7l0.4 -2.1l0 -2M705.4 357.9l2.6 0.1l2.1 1.5l2.3 1.1M705.4 357.9l-1.2 1.4M704.2 359.3l-0.3 2.1l-1.9 1.7l1.2 2.5l-1.3 1.9M701.9 367.5l0.8 2.1l1 1.9l2.1 1.1M712.8 372l-2.3 0.6l-2.3 0.2l-2.4 -0.2M576.8 79.8l2 -0.9l1.7 -1.3l0.7 -2.4l1.2 -1.8l1.7 -1.3l2.4 -0.5l1.2 -1.8M576.8 79.8l-1.4 -0.4M587.7 69.8l-1.9 -0.7l-2.2 -0.1l-1.2 -2.6l-2.3 0.2l-2 -0.7M575.4 79.4l0.3 -2.5l-0.8 -2.3l-0.1 -2.4l-1.6 -2.1M578.1 65.9l-1.9 1.1l-1 2.1l-2 1M559.1 64.7l-1.7 -1.3l-0.8 -2l-1.5 -1.5l-1.1 -1.8M559.1 64.7l1.5 1.7l-0.1 2.3M561.2 92.3l2 -1.4l2 -1.4l2.5 -0.4l2.3 -0.7M562.1 78.2l2 0.8l1.9 1.1l2.5 -0.7l1.6 1.7l2.1 0.7M570 88.4l1.1 -2.1l-0.3 -2.5l1.4 -2M560.5 68.7l2.3 1l2.3 0.1l2.4 -0.8M575.4 79.4l-1.9 0.9l-1.3 1.5M567.5 69l2.7 1.4l3 -0.3M679.2 610.8l-1.9 1.2l-2.2 0.2l-2.2 0.1l-2 0.8l-1.9 0.9l-2 0.8M679.2 610.8l-0.2 -2.5l-0.9 -2.5l1.5 -2.5l-0.7 -2.5M678.9 600.8l-2.6 0.3l-2.4 -1.2l-2.6 0M671.3 599.9l-2.5 0.6l-1.2 2.7l-2.6 0.5M665 603.7l-0.6 2.3l-2.3 1.4l-0.3 2.4M661.8 609.8l1.6 1.7l1.3 2l2.1 1.2M666.8 614.7l0.2 0.1M682.8 598.1l-2 1.2l-1.9 1.5M682.8 598.1l-0.4 -2l0.1 -2.1l-0.5 -2l-0.2 -2.1l-0.9 -1.9l-0.1 -2.1M680.8 585.9l-2.5 -0.7l-2.3 -1.2l-2.6 -0.2M673.4 583.8l-0.4 0.2M668.4 590.2l1 -2.4l2.2 -1.6l1.4 -2.2M668.4 590.2l0.8 1.9l0.1 2.1l1.7 1.6l0.7 1.9l-0.4 2.2M495.8 378.4l1.5 1.6l2.3 0.5l1.9 1.1l1.3 1.9M502.8 383.5l-0.6 2.2l-1.9 1.3l-0.5 2.4l-1.5 1.6l-0.8 2.2l-1.3 1.7l-2 1.3M500.2 368.3l2.4 0l2.1 1.6l2.3 0.3l2.3 0.6l2.4 0.5M504.5 356.2l2.8 -0.1M514.4 368.3l-1.1 1.7l-1.6 1.3M514.4 368.3l-1.2 -1.8l-0.2 -2.2l-2 -1.4l0.8 -2.6l-2.5 -1.2l-0.2 -2.2M509.1 356.9l-1.8 -0.8M493.2 371.8l2.7 -0.6l2.2 -1.2l2.1 -1.7M508.1 342l2.6 2.6M510.7 344.6l-0.4 1.9l-1.6 1.6l1.1 2.5l-2.3 1.4l0.9 2.3l-1.1 1.8M520.4 353l-2.6 -0.2l-1.8 2.1l-2.2 0.9l-2.7 -0.7l-2 1.8M520.4 353l-0.4 2.1l1.2 2.1l-1.7 2l1.5 2.1l-0.4 2l-0.4 2.1l-0.1 2M520.1 367.4l-2.9 0.2l-2.8 0.7M520.4 353l2.6 -2.7M510.7 344.6l2.1 0.5l2.1 0.3l2.2 -0.9l2.1 0.3l2 1.1l2.2 -0.5M523.4 345.4l0.6 2.5l-1 2.4M690.6 669.3l-2.3 0.2l-0.8 2.9l-2.9 -0.8l-1.1 2.4l-2.4 0l-1.5 1.8M690.6 669.3l0.1 2.1l0.3 2l-0.1 2.1l-1.2 2l0.2 2l-0.4 2l0.1 2.1l-0.7 2l0.9 2.1l-0.7 2l0.1 2.1l-0.8 2l1.4 2.1l-0.4 2l-0.2 2.1l0.2 2l0.1 2.1l-1.6 1.9l-0.3 2.1l0 2l0.8 2.1l0.3 2.1l0 2l-2.2 2l0.8 2.1l0.1 2M692.4 667.1l-0.1 -2.8l-0.4 -2.7M692.4 667.1l-1.8 2.2M680.2 661.4l2.4 0.3l2.3 0l2.3 0l2.4 -0.3l2.3 0.2M701.9 677l-0.9 -2.4l-2.2 -1l-1.6 -1.7l-2.3 -0.9l-1.6 -1.7l-0.9 -2.2M758 649.5l-1 -2.1l-0.8 -2.2l0.5 -2.4M756.7 642.8l1.3 -1.8l1.3 -1.7l1.4 -1.6l2 -1.1M766.9 636.2l-2 0.9l-2.2 -0.5M926.2 489.3l-2.2 -0.3l-1.8 0.9l-1.8 1.2l-2.1 0l-2 0.2l-1.6 1.6l-2 0.4l-2.1 0l-1.5 2.1l-2.2 -0.3l-2.1 0.1l-1.9 0.7l-1.6 1.3M926.2 489.3l-2.3 0.3l-2 -0.5l-2.1 -0.6l-2 -0.5l-2 -0.9l-1.6 -2.1l-2.5 1.3l-1.7 -1.9l-2 -0.6l-2.2 0l-2 -0.7l-1.9 -1.3l-2.3 0.4M901.3 497.2l-1.8 -1.4l-1.5 -1.7l-0.3 -2.5l-1.3 -1.8l-1.7 -1.5l-0.9 -2.1M899.6 482.2l-2.3 0.8l-1.6 1.8l-1.9 1.4M812 567.9l2.4 -1.5l1.6 -2.3M812 567.9l1.2 1.7l2.3 0.4l1.6 1.3l1.6 1.3l1.4 1.6l1.6 1.3l1.2 1.7M825.3 571.5l0.1 2.3l-0.9 1.8l-1.6 1.6M825.3 571.5l-1.7 -1.5l-1.3 -1.8l-1 -2l-1.7 -1.5l-1.9 -1.3M817.7 563.4l-1.7 0.7M805.6 550.2l1.4 1.7l0.5 2.4l2.1 1.1l1.8 1.3l0.3 2.6l1.5 1.5l2.2 1.1l0.6 2.2M805.6 550.2l-0.9 2.3l-1.7 1.7l-2.1 1.4M800.9 555.6l0 2.2l2.2 1.2l0.6 1.9l1.4 1.6l0.7 1.8l-0.3 2.4l1.1 1.7l1.6 1.4M808.2 569.8l2.1 -0.5l1.7 -1.4M822.9 583.2l0.9 -2l-1.7 -2l0.8 -2M822.9 583.2l-2 -1.3l-2.2 0.1l-2.3 1.3l-2 -1.2M814.4 582.1l-2.1 -1.4l-0.1 -2.5l-1.2 -1.9l-1.4 -1.7l-1.1 -1.9l-0.7 -2.2M808.2 569.8l-0.4 0.7M833.9 568.5l-2.3 0.4l-1.9 1.5l-2.2 0.6l-2.2 0.5M800.9 555.6l-2.6 0.6M796.6 571.4l1.7 1.5l2 1.1M796.6 571.4l-0.8 -2.2l1.1 -2.2l-0.3 -2.3l0.7 -2.2l-0.3 -2.3l0.3 -2.2M800.3 574l2 -0.5l1.3 -2.1l2.7 0.7l1.5 -1.6M798.3 556.2l-1 1.8M805.9 549.6l-0.9 -2.1l-1.6 -1.2l-2.6 -0.1l-1.1 -1.8l-1.9 -0.9l-1 -2l-2 -0.8M805.9 549.6l-0.3 0.6M794.8 540.7l-1.1 1.9l-1.7 1.2l-2.3 0.4l-2.2 0.3l-1.3 1.9M798.3 556.2l-1.7 -1.6l-2.3 -0.1l-1.6 -1.6l-2 -0.8l-2.3 -0.2l-1.9 -1.1M786.2 546.4l-0.5 2.3l0.8 2.1M797.3 558l-1.3 1.9l-1.7 1.3l-1.9 1.2l-2 1l-2 1l-1.6 1.5l-1.4 1.8M786.5 550.8l-1.6 1.4l-1.7 1.4l-0.3 2.3M782.9 555.9l-0.1 2.1l1.2 2.1l-1.8 2.3l1 2.1M783.2 564.5l2.2 3.2M796.6 571.4l-2.1 -0.8l-2.6 0.7l-2.1 -1l-2.1 -0.6l-2.1 -1.3M785.6 568.4l-0.2 -0.7M865.3 506.2l3.3 -2.3M868.6 503.9l2.2 0.4l2.1 1.1l2.4 -0.1l1.9 1.4l2.4 0.1l1.9 1.5M881.5 508.3l0 1.5M879.7 513.6l0.8 -2l1 -1.8M833.9 568.5l-0.2 -2l-0.2 -2.1l-0.6 -2l-1.7 -1.6l0.1 -2.2M817.7 563.4l2 -2.2M831.3 558.6l-2.3 0.7l-2.3 0.5l-2.5 -0.1l-2.2 0.8l-2.3 0.7M831.3 558.6l0.3 -0.6M843.8 556.2l-1.9 1.2l-2 0l-2.3 -1.3l-1.9 1.4l-2.1 -0.4l-2 0.9M846.7 530.6l-1.6 1.2l-1.3 1.7l-1.7 1l-1.8 1.1l-1 2l-2.8 -0.3l-0.2 2.9l-2.3 0.4M844.5 546.7l-2.1 -0.4l-1.1 -2.1l-2.2 -0.2l-1.4 -1.6l-2.3 -0.1l-1.4 -1.7M752.4 431.9l-0.3 -2.7l-0.7 -2.6M766.1 432.1l-1.1 -1.8l-0.2 -2.1l0.6 -2.2l-0.5 -2l-0.7 -1.9l-0.6 -2l-0.1 -2.1M751.4 426.6l0.6 -2.6l2.2 -1.6l1 -2.3M763.5 418l-2.2 0l-1.7 2l-2.4 -1l-2 1.1M783.2 447.2l-1.9 -1.9l-3.1 0.9l-1.9 -1.8M783.2 447.2l1.1 2l-1.6 2.3l1.1 2M776.3 444.4l-1.5 1.7l-0.5 2l-1 1.9l0.9 2.5l-0.4 2.1l-1 1.8l-1.2 1.8M783.8 453.5l-1.9 0.8l-1.1 1.9l-2.3 0.3l-0.4 2.7l-2.2 0.4l-1.6 1.3M771.6 458.2l1.4 1.9M773 460.1l1.3 0.8M776.3 434l3 -2.1M779.3 431.9l2.8 -0.3M782.1 431.6l1.1 2.1l2.7 0.6l0.9 2.3l1.6 1.7l1.4 1.8l1.9 1.4M791.7 441.5l-2.2 0.3l-1.5 1.5l-1.2 1.9l-1.7 1.2l-1.9 0.8M776.1 444.1l0.2 0.3M800.7 453l-1.4 -2l-0.7 -2.3l0.2 -2.7l-0.8 -2.2l-1.6 -2M800.7 453l-1.1 2.3M796.4 441.8l-2.4 0.8l-2.3 -1.1M786 454.7l-2.2 -1.2M760.2 451.5l0.8 -2l0.5 -2.1l0.8 -2M760.2 451.5l2 0.9l2.2 0.7l1.2 2.3l2.7 -0.3l1.4 2.1l1.9 1M787.5 467.5l-0.1 0.1M787.4 467.6l-2.3 0.8l-2.3 -0.8l-2.4 0.1l-2.3 0.1M778.1 467.8l-2.1 -1.8l-1 -2.5l-0.7 -2.6M800.7 453l2.2 0l2.1 -0.5M800.1 436.3l-1.7 1.6l-1.4 1.7l-0.6 2.2M800.1 436.3l2 0.4l1.9 1l2 0.8l2 0.2l2 0.5l2.1 0.3l2.2 -0.6M817 441.6l0.2 -0.6M814.3 438.9l2.9 2.1M855.7 435.3l-2.3 1.7l-2.3 1.6M851.1 438.6l-2.1 -1.1l-2.5 0l-2 -1.2l-2.4 -0.3l-2 -1.3l-2.1 -1M838 433.7l-0.5 -3.9M840.3 427.7l-2.8 2.1M800.1 436.3l-0.3 -2l0.3 -2.1M789.4 423.9l2.6 1.1l2.8 1M789.4 423.9l-1.9 1.1l-1.4 1.6l-0.9 2.2l-1.7 1.3l-1.4 1.5M800.1 432.2l-1.6 -1.3l-0.8 -2l-2 -1l-0.9 -1.9M772.8 492.4l-2.5 0.6l-2.6 -0.8l-2.2 1.9l-2.6 -0.5M772.8 492.4l1.2 2.5l0.4 2.8M774.4 497.7l-0.9 1.8M773.5 499.5l-2.1 0.1l-2.2 -0.3l-1.9 1.1l-2.1 0l-2.2 -0.3l-1.9 1.3M761.1 501.4l1.4 -1.7l-1.3 -2.4l1.5 -1.7l0.2 -2M787.9 498.1l0.5 -2.2l-0.3 -2.2M787.9 498.1l-1.7 1.4l-2.2 0.4M773.8 489.6l-1 2.8M773.8 489.6l2.2 0.2l1.8 -1.4l2 -1l2.2 0M784 499.9l-2.2 -1.3l-2.5 -0.5l-2.6 0.4l-2.3 -0.8M788.1 493.7l-1.2 -1.9l-1.5 -1.6l-1.7 -1.4l-1.7 -1.4M787.4 467.6l1.6 1.6l-0.2 2.3l1.1 1.8l1.2 1.8l1.4 1.7l-0.2 2.3M775.7 473.5l1.2 -1.7l-0.5 -2.5l1.7 -1.5M775.7 473.5l2.4 1.1l1.2 2.1l2 1.5l0.7 2.6l2.3 1.1M784.3 481.9l2.3 0.2l1.8 -1.3l1.6 -1.9l2.3 0.2M800 462.6l-0.8 2l-1 1.9l-0.2 2.1l0.3 2.1l-1.2 1.9l0.8 2.2l-0.5 2.1l-0.5 2l-0.4 2M800 462.6l-0.9 -1.2M792.3 479.1l2.4 0.2l1.8 1.6M868.6 503.9l0 -2.3l1.2 -2.2l-1 -2.4l1.1 -2.2l0.3 -2.3M870.2 492.5l-2.3 -0.9l-2.4 -0.3l-2.4 -0.3l-2.3 -0.6M861.8 505.9l-1.6 -1.4l-0.2 -2.1l-0.5 -2l-1.2 -1.7l-1.7 -1.4l-0.1 -2.2M860.8 490.4l-1 2l-2.5 0.6l-0.8 2.1M849.7 512.2l1.1 -1.9l-0.4 -2.2l0.9 -1.9l-0.5 -2.2l1.8 -1.8l-0.1 -2.1l0.4 -2l-0.3 -2.1M849.7 512.2l0.2 0.3M856.5 495.1l-3.9 0.9M868.2 477.1l-1.9 1.3l-2.3 0.5l-2.3 0.4l-1.5 2.3l-2.3 0.3M868.2 477.1l-0.1 -2.6l0.8 -2.4l-0.6 -2.5l0.8 -2.5M869.1 467.1l-2.3 0.7l-2.2 1.1l-2.6 -0.6l-2 1.7l-2.4 0.3M857.6 470.3l0.9 2.3l-0.8 2.1l-1.2 2.1l0.7 2.3l-0.4 2.1M856.8 481.2l1.1 0.7M877.8 453.4l-1.6 1.5l-0.8 2l-1.9 1.3l0.1 2.7l-2.5 0.8l-0.7 2.2M877.8 453.4l-1.1 -2l-2.6 0.2l-1.6 -1.2l-1 -2.2l-2.1 -0.5l-1 -2.1l-2 -0.6M870.4 463.9l-2 -1.2l-1 -2.3l-1.8 -1.5l-2.3 -0.8M863.3 458.1l-1.9 -1.5l-1.1 -2.1l-1.2 -2M859.1 452.5l1.6 -1.8l1.5 -2l0.2 -2.9l2.3 -1.4M864.7 444.4l1.7 0.6M854 467.6l1.3 2l2.3 0.7M854 467.6l2.1 -1l0.8 -2.4l1.9 -1.2l1.1 -2l2.3 -0.9l1.1 -2M870.6 464.8l-0.2 -0.9M870.6 464.8l-1.5 2.3M819.2 453l2.3 0.8l1.3 2.2M822.8 456l2.6 0.1l2.4 -0.9M827.8 455.2l0.8 -2.4l1.6 -1.7l1.9 -1.5l1.8 -1.5M819.5 440.2l-2.3 0.8M819.5 440.2l1.7 1.6l2.7 -0.5l1.7 1.6l1.8 1.4l2.5 -0.2l2.3 0.2l1.7 1.7M833.9 448.1l0 -2.1M838 433.7l0.5 2.4l-1.9 1.7l0.7 2.5l-2.3 1.6l0.2 2.3M823.7 430.6l-0.2 2.2l-2.4 1.3l-0.3 2.1l-0.4 2.1l-0.9 1.9M823.7 430.6l2.3 0l2.1 -1l2.4 0.9l2.1 -1.2l2.3 0.6l2.3 -0.2M837.5 429.8l-0.3 -0.1M833.9 446l1.3 -1.8M851.1 438.6l0.5 2.3l-2.2 1.7l0.2 2.2M835.2 444.2l2 -0.4l2.1 0.9l2 0.4l2.1 -0.2l2 0.6l2.1 -0.8l2.1 0.1M864.1 440.3l0.4 2l0.2 2.1M859.1 452.5l-2.6 1.1l-2.7 -0.7M853.8 452.9l-0.6 -2.3l-1.7 -1.7l-1 -2l-0.9 -2.1M833.8 466.2l1.9 -1.1l1.3 -1.9l1.2 -2l2.6 -0.2l1.7 -1.4l1.4 -1.8M833.8 466.2l1.5 1.3l0.5 2.2l2.1 0.9l1.4 1.4l0.3 2.3l2 1l0.8 1.9M842.9 477.3l0.5 -2.2l0.7 -2l1.3 -1.8l1.2 -1.8l1.6 -1.5l0.9 -2M842.9 477.3l-0.5 -0.1M849.1 466l-1.6 -2.2l0 -2.7l-0.5 -2.6M847 458.5l-3.1 -0.7M827.8 455.2l1 2.1l0.2 2.3l0 2.3l2.6 1.5l-0.2 2.4M831.4 465.8l2.4 0.4M833.9 448.1l1.4 1.9l1.3 2l2.8 0.4l1.8 1.5l0.8 2.5l1.9 1.4M854 467.6l-2.3 -1.2l-2.6 -0.4M846.7 480.8l2 0.8l2.1 -1.5l1.9 1.2l2.1 -0.3l2 0.2M846.7 480.8l-1.4 -2.3l-2.4 -1.2M853.8 452.9l-1.3 1.9l-1.5 1.7l-1.9 1.1l-2.1 0.9M582.9 444.5l0.2 -2l0 -2l1.2 -1.9l-0.1 -2l0.2 -2l-0.8 -2.1l0.5 -2M582.9 444.5l2.1 -0.2l2.1 -0.4l2.2 -0.3l2 -0.9l2.4 1.5l2.1 -0.4l1.9 -1.4l2.2 0M584.1 430.5l0.7 -0.1M584.8 430.4l1.4 1.6l2.4 0.5l1.3 1.8l1.8 1.2l0.9 2.3l2.1 0.9l1.7 1.2l1.9 1.2l1.6 1.3M494.2 396.2l1.8 1.4l1.7 1.6l2.5 0.8l1.2 2.2M501.4 402.2l0.6 1.3M496.7 408.8l2 -1.4l1 -2.5l2.3 -1.3M502 403.6l0 -0.1M531.8 416l-1 2.2l-1.9 1.4l-0.9 2.2l-2 1.2l-0.7 2.4l-1.5 1.7l-2.2 1.1M531.8 416l-2.1 -0.4l-2.2 -0.1l-1.8 -1.6l-1.9 -1.2l-2.1 -0.3l-2.3 0.2M519.4 412.6l-1 2l-1.6 1.5l-1.4 1.7l-1 1.9l-1.8 1.4M512.6 421.1l0.3 2.3l2.5 1.1l0.8 2.1l0.5 2.2M516.7 428.8l2.4 -0.5l2.5 -0.1M507 419.3l-0.5 -2.2l0.9 -2.4l-0.4 -2.2l-0.8 -2.2l-0.5 -2.2M507 419.3l2.5 1.9l3.1 -0.1M505.7 408.1l1.9 0.9l2.1 -1.1l2 0.4l2 0.9l2 0.1l2.1 -0.6M517.8 408.7l0.4 2.1l1.2 1.8M544.8 375l1.3 1.9l0.1 2.2l-0.1 2.2M544.8 375l1.8 -1.1l1 -2l2 -0.9l2.1 -0.8l1.2 -1.8l0.9 -2.1l1.8 -1.1M546.1 381.3l2.2 -0.2l2.2 -1.1l2.4 0.8l2.3 -0.1l2 -1.5M555.6 365.2l-0.3 2l-0.2 2.1l1.3 1.9l-0.7 2.1l1.5 1.9l0.2 2l-0.2 2M560.2 379.6l0.7 2l-0.6 2.3l2 1.7l-0.7 2.4l1.1 1.9M560.2 379.6l-3 -0.4M555.8 395.3l2.1 -0.8l0.7 -2.6l2.4 -0.5l1.7 -1.5M555.8 395.3l-2 -0.8l-1.7 -1.3l-2.4 0.2l-1.7 -1.4M546.1 381.3l-0.5 0.9M548 392l-0.5 -2l0.3 -2.1l-0.4 -2l-0.7 -1.9l-1.1 -1.8M642.5 561l-1 -1.9l-0.6 -2.2l-1.1 -1.8l-1.3 -1.8l-1.6 -1.6l-0.6 -2.1M642.5 561l2.4 -0.6l2.4 0l2.5 1.2l2.3 -1.3M636.3 549.6l2.3 -0.6l2.1 -0.9l1.7 -1.9l2.7 0.4l1.7 -1.8M652.1 560.3l0.1 -2.6l2.7 -1.7l0 -2.6M646.8 544.8l1.4 2.1l2.4 0.7l1.9 1.4l2 1.2M654.5 550.2l0.4 3.2M788 512.3l-0.9 2.1l-1 2l-1.5 1.8l-0.4 2.4l-1 2l-1.7 1.7l-0.1 2.5M788 512.3l-2 -1.3l-2.5 0.5l-2.2 -0.9M781.3 510.6l-2.1 0.1l-1.8 1.1l-1.7 1.1l-1.6 1.5l-2.2 -0.2M772.9 519.1l1.9 1.8l1 2.5l2.3 1.5M772.9 519.1l-1.2 -2l-0.5 -2.2M771.2 514.9l0.7 -0.7M781.4 526.8l-3.3 -1.9M787.9 498.1l2.2 0.5l1.4 1.8l1.5 1.5M794.9 512.1l-0.4 -2l-0.6 -2.1l-1.1 -1.9l1.2 -2.3l-1 -1.9M794.9 512.1l-2.3 0.7l-2.3 -1.4l-2.3 0.9M784 499.9l-0.8 2l-0.2 2.3l-0.3 2.2l-1.7 1.9l0.3 2.3M773.5 499.5l0.5 2.2l0.1 2.1l-2.2 1.9l1.7 2.3l-2.2 1.9l0 2.1l0.5 2.2M768.4 536.3l0.9 -2l2.3 -0.9l0.2 -2.6l2.9 -0.3l-0.1 -3l2.7 -0.5l0.8 -2.1M768.4 536.3l-1.6 -1.4l-1.9 -0.9l-1.8 -1M763.2 532.5l-0.1 0.5M763.2 532.5l1.7 -1.3l0.7 -2.1l0.6 -2.1l1.7 -1.3l1 -1.8l0.7 -2.1l2.2 -0.9l1.1 -1.8M783 528l-1.3 2l1.3 2.6l-2.3 1.8l0.9 2.4l-0.1 2.3l-1.3 1.9M783 528l-1.6 -1.2M768.4 536.3l0.3 2.5l1.8 1.5l1.3 1.9M771.8 542.2l2.1 -0.7l2 -0.6l2.1 -0.5l2.2 0.6M775.7 473.5l-2.1 1.5l-1.6 2.2l-2.5 0.9M773 460.1l-1.3 1.9l-2.2 0.5l-2.2 0.7l-0.6 2.7l-2 0.9l-2.1 0.7M762.6 467.5l1.5 1.5l1.3 1.7l0.8 1.9l0.4 2.3l2.2 1.1l0.7 2.1M773.8 489.6l-1.9 -1.7l0.4 -2.7l-2 -1.6l-0.7 -2.2l-0.7 -2.3M760.5 491.1l2.4 2.5M760.5 491.1l0.3 -2.4l0.3 -2.5l-0.4 -2.4l0 -2.5M760.7 481.3l2.1 -0.4l2 -0.5l1.9 -1.3l2.2 0M782 487.4l1.5 -2.6l0.8 -2.9M768.9 479.1l0.6 -1M760.2 451.5l-2.1 1.7l-2.5 0.8M762.6 467.5l-3.1 -0.6M755.6 454l-0.1 2.3l0.6 2.2l1.8 1.9l0.7 2.1l1 2l-0.1 2.4M751.7 477.8l0.5 -2.1l0.3 -2M751.7 477.8l2.1 1.2l2.4 0.3l2.4 0.7l2.1 1.3M759.5 466.9l-1.1 2.4l-2.9 0.5l-1.4 2.1l-1.6 1.8M755.6 454l-2.8 0M752.5 473.7l-1.7 -1.5l-0.4 -2.2l-1.6 -1.5l-0.3 -2.2M748.5 466.3l1.6 -1.8l-1.1 -2.7l2.6 -1.3l-0.1 -2.4l1.5 -1.8l-0.2 -2.3M750.3 436.7l-2.4 0.8l-1.9 1.8M746 439.3l1.7 1.7l0 2.4l0 2.4l1.1 2l0.8 2l0.6 2.2l1.8 1.6M752 453.6l0.8 0.4M789.4 423.9l-0.8 -2.8l-0.9 -2.7M802 416.6l-2.2 1.3l-0.3 2.8l-1.6 1.7l-2.3 1.2l-0.8 2.4M797 408.7l-1.6 1.6l-1 2.2l-2.1 1l-1 2.2l-1.8 1.3l-1.8 1.4M774.5 418.2l2.3 0.7l2.3 -1.4l2.2 -0.5l2.4 1.4l2.3 -0.9M774.5 418.2l1.2 1.7l0.8 2l0.4 2l0.3 2.1l1 1.8l0.5 2.1l0.6 2M786 417.5l1.7 0.9M724.8 370.3l-0.4 0.3M724.8 370.3l2.5 -0.6l1.9 2.6l2.6 -1.2l2.2 1.2M723.4 384.8l2.2 1.2l2.4 -1.5l2.2 1l2.3 -0.7l2.2 0.5M734 372.3l-0.1 2.2l-0.6 2.2l1.9 2l-0.9 2.3l-0.2 2.2l0.6 2.1M723 385.1l0.3 2.5l-2 1.9l0.3 2.6l-1.4 2M720.2 394.1l2.2 -0.3l1.9 1.5l2.1 0.7l2.3 -0.8l1.9 1.5l2.3 -0.6l2.1 0.6M735 396.7l1.7 -1.7M736.7 395l-1.2 -2.1l0.5 -2.1l0.3 -2.1l0 -2.1M734.7 385.3l1.6 1.3M748.9 357.5l-0.7 1.9l-0.3 2.1l-1.1 1.7l0.2 2.3l-0.8 1.8l-1.5 1.6M744.7 368.9l1.9 1.7l1.4 2.2l1.2 2.2M749.2 375l1.7 -1.2l2 -0.7l1.1 -2.3l2.7 0.3l0.9 -2.5l2.3 -0.4l1.6 -1.4l1.9 -0.9M627 118.4l0.4 -2.4l-0.4 -2.2l-0.1 -2.3l-1 -2.1l-0.7 -2.2M627 118.4l2.3 0.8l1.5 2.3l2.4 0.6M629.6 102.7l1.7 1.7l2.5 -0.4l1.4 2.3l2.8 -1.1l1.6 1.8M629.6 102.7l-1.6 1.4l-0.9 2l-1.9 1.1M633.2 122.1l2.3 -1.4l2.7 -0.5M639.6 107l0.5 2.3l-1.1 2.1l0.8 2.3l-2 2l-0.4 2.2l0.8 2.3M629.6 102.7l0.4 -2.2l-0.4 -2.2M644.2 94l1.9 1l1.6 1.6M647.7 96.6l-0.7 2l-1.3 1.6l-1.5 1.5l-1.8 1.2l-0.7 2.1l-1.2 1.7M639.6 107l0.9 -0.3M633.2 122.1l0.3 2.1l0.2 2.1l-0.6 1.9l-1.5 1.9l0.3 2M633 133.2l2.3 0l2.2 -0.8l2.4 0.6l2.2 -1.2M642.8 121.4l-2.3 -0.6l-2.3 -0.6M642.8 121.4l0.9 1.9l1.2 1.7M644.9 125l-1.1 2.2l-0.6 2.4l-1.1 2.2M644.2 142l1.2 -2.5l2.7 -0.8M644.2 142l-2.4 0l-1.8 -1.1l-1.2 -2.4l-2.1 -0.5l-2 -0.7M642.1 131.8l1.1 2l1.8 1.5l1.4 1.8l1.7 1.6M663.4 166.4l0.1 -2.4l1.2 -1.8l2.5 -1.2l0.1 -2.4l1.9 -1.5l0 -2.5M669.2 154.6l2.4 0.6l1.8 1.7M688.3 145.2l-1.7 1.4l-0.4 2.5l-1.4 1.6l-1.4 1.6l-0.9 2.1l-1.9 1.3l-1.7 1.5l-0.8 2.1l-1.8 1.3M682.4 142.5l1 -0.6M682.4 142.5l-0.7 2.1l-2.2 1.1l0.4 2.8l-2.6 0.8l-0.4 2.3l-0.9 1.9l-0.7 2.1l-1.9 1.3M686.9 142.1l-3.5 -0.2M670.3 144.3l0.3 2.1l0.2 2.1l-0.7 2l-0.1 2.1l-0.8 2M670.3 144.3l2 -0.6l2 0l2.1 0.3l2 -0.7l2.1 0.5l1.9 -1.3M669.2 154.6l0 0M662.1 106.5l-3.7 -0.2M662.1 106.5l1 0.8M663.1 107.3l1.4 1.9l-1 2.7l1.3 1.9l1.1 2.1M658.4 106.3l-1.2 1.7l-0.9 2l-2.4 0.6l-1.2 1.7M652.2 115l0.5 -2.7M652.2 115l1.6 1.6l1.7 1.6l1 2l0.8 2.2M665.9 115.9l-0.4 2l-0.1 2.1l-1.5 1.6M657.3 122.4l2.2 -0.3l2.3 0.8l2.1 -1.3M651.8 96.4l1.6 1.8l1.3 2l0.9 2.3l0.7 2.3l2.1 1.5M651.8 96.4l2.2 -2.2l0.9 -2.8M667 97.2l-0.1 2.3l-2.6 1.1l-0.5 2.1l-0.9 1.9l-0.8 1.9M678.7 107.1l-2.2 -0.3l-2.2 1.3l-2.3 -0.5l-2.2 -0.9l-2.2 0.7l-2.3 -0.4l-2.2 0.3M676.3 117.2l-2.1 -0.4l-2 -1.1l-2.2 1.2l-2.1 -0.2l-2 -0.8M647.7 96.6l2 -1.1l2.1 0.9M640.5 106.7l2.4 0.1l2.1 0.8l1.7 1.7l2.3 0.3l1.9 1.2l1.8 1.5M642.8 121.4l2.1 -1l2.2 -0.8l1.9 -1.2l1.5 -1.9l1.7 -1.5M663.7 138.7l-2.9 0.7l-2.2 1.9M663.7 138.7l1.5 -3.6M665.2 135.1l-1.5 -1.6l-1.1 -2.1l-2.1 -0.9l-2.2 -0.7l-1.4 -1.7l-1.4 -1.7M658.6 141.3l-2 -0.7l-2.2 -0.3l-1.4 -2l-2.1 -0.6M650.9 137.7l-0.3 -2.2l0.6 -2.1l-0.7 -2.1l1 -2.1M655.5 126.4l-2.2 1.2l-1.8 1.6M670.3 144.3l-2.3 -0.7l-0.6 -2.5l-1.9 -1.2l-1.8 -1.2M669.2 154.6l-2 -0.5l-2.1 0.7l-2.1 0.4l-2 -0.2l-1.9 -1.6l-2 0.4M657.1 153.8l0 -2.1l0.2 -2.1l0 -2.2l1.6 -1.9l-0.6 -2.2l0.3 -2M670.5 129.4l-2.4 1.3l-1.2 2.5l-1.7 1.9M670.5 129.4l1.2 -0.2M671.7 129.2l0.9 2.2l1.8 1.3l2.4 0.7l1.1 1.9l1.8 1.2l0.4 2.7l2.4 0.7l0.9 2M670.5 129.4l-1.9 -1l-0.9 -2l-1.3 -1.5l-1.6 -1.4l-0.9 -1.9M657.3 122.4l-0.3 2.3l-1.5 1.7M644.9 125l2.1 1.6l2.4 1l2.1 1.6M648.1 138.7l2.8 -1M676.3 117.3l-0.4 2.1l0.8 2.1l-0.3 2l-0.8 2M675.6 125.5l2 0.7l2.2 -0.6l1.9 1.5l2.2 -0.3l2.1 -0.8l2 1l2.1 0.1M691.8 120l-0.6 2.4l-0.1 2.4l-1 2.3M671.7 129.2l2.3 -1.5l1.6 -2.2M690.8 129.2l-0.7 -2.1M679.4 281.9l-1.1 -0.3M679.4 281.9l0.6 0M687.5 268l-2 1.5l-0.7 2.1l-0.2 2.5l-1.6 1.7l-0.6 2.2l-1.3 1.9l-1.1 2M580.8 96.5l-0.5 2.1l-0.6 2M580.8 96.5l-1.2 -2.1l-2.3 -0.8l-1.6 -1.5l-1.6 -1.6l-2.6 -0.3l-1.5 -1.8M579.7 100.6l-1.8 1.2l-2.3 -0.4l-1.7 1.2l-2 0.7M580.6 101.9l-0.9 -1.3M580.6 101.9l1.1 2.1l-2 2.4l2.1 2.1l-1.6 2.3l0.1 2.2l0.9 2.2M606.5 71.4l2.2 -0.1l2.2 0.1l2.3 -0.9l2.2 1.3l2.3 0.2l2.2 -0.3M606.5 71.4l-0.2 2.2l-1.3 2.2l0.7 2.4M605.7 78.2l0.5 0.6M606.2 78.8l2.3 -0.7l1.9 2.1l2.3 -0.2l2.3 0.1l2.1 0.5M617.1 80.6l2.8 -0.2l1.9 -2.1M621.8 78.3l-0.9 -1.8l0 -2.1l-0.2 -2M620.7 72.4l-0.8 -0.7M605.9 70l1.9 -1.9l-0.5 -2.9l0.4 -2.5l1.8 -1.9M605.9 70l0.6 1.4M618 58.3l0.4 2.2l0.8 2.2l-0.8 2.4l0.8 2.2l1.3 2.1l-0.6 2.3M630.6 67l-1.9 1.3l-1.8 1.2l-1.7 1.6l-2.4 0.4l-2.1 0.9M635.3 69l-1.5 1.9l-0.5 2.2l0 2.2l0.6 2.5l-1.8 1.8l-0.4 2.2l-0.6 2.1M630 84.6l-2.2 -0.6l-1.2 -1.8l-1.3 -1.6l-1.4 -1.6l-2.1 -0.7M603.5 95.9l1.9 -1.5l0.8 -2.1l1.5 -1.7l1.2 -1.9M603.5 95.9l2.1 1.3l0.9 2.6l2.2 1.2M613.6 101.3l-2.5 0.6l-2.4 -0.9M613.6 101.3l1.7 -1.5l1 -1.9l-0.1 -2.5l2.1 -1.3l0.5 -2.1M608.9 88.7l2.1 1.1l2.4 -0.8l2.1 0.7M618.8 92l-2.3 -0.3l-1 -2M625.2 107.2l-2.9 -0.2l-2.9 -0.2M619.4 106.8l-1.5 -1.3l-2 -0.8l-0.6 -2.3l-1.7 -1.1M627.1 91.5l-2 0.4l-2.2 -1.2l-2.1 0.5l-2 0.8M606.2 78.8l0.5 2l0.4 2l1.8 1.7l0 2.1l0 2.1M617.1 80.6l-1 2.1l0.6 2.5l-1 2.1l-0.2 2.4M595.3 92.7l0.2 -2.2l2 -1.5l-0.1 -2.3l1.3 -1.9l-0.6 -2.4l1.6 -1.7M595.3 92.7l-2.4 -0.3l-2.1 -1.3l-2.5 0.4l-2.3 -0.5M586 91l0.1 -3l-1.2 -2.7M584.9 85.3l1.9 -1.6l1 -2.4l1.7 -1.8l1.1 -2.2M590.6 77.3l2.6 -0.1l2.2 1.1l2.2 1l2.1 1.4M598.8 95.9l-1.6 -1.8l-1.9 -1.4M598.8 95.9l2.3 0.6l2.4 -0.6M605.7 78.2l-1.9 1.1l-1.8 1.2l-2.3 0.2M594.4 107.9l1.6 -1.7l-0.1 -2.3l1.2 -1.8l0.9 -2l0.3 -2.1l0.5 -2.1M594.4 107.9l-2 -0.7l-2.3 -0.1l-1.8 -1.3l-1.7 -1.6l-2.5 0.3l-1.1 -2.7l-2.4 0.1M580.8 96.5l1.3 -2.3l2.7 -0.9l1.2 -2.3M576.8 79.8l2.1 1.3l1.4 2.4l2.2 1l2.4 0.8M589.2 70l-1.5 -0.2M589.2 70l-0.4 2.6l1 2.4l0.8 2.3M593.3 65.9l-1.3 2.8l-2.8 1.3M593.3 65.9l2.2 0.4l1.7 1.9l2.3 0.1l2.1 0.8l2 0.7l2.3 0.2M560.2 379.6l1.9 -1.5l2.2 -0.9l1.6 -2.1l2.5 -0.6M556.2 364l1.6 1.9l1.7 1.5l2.3 0.8l2.3 0.7l1.3 2.2l2.3 0.8M556.2 364l-0.6 1.2M567.7 371.9l0.7 2.6M572 377.3l-1.6 -1.6M572 377.3l-0.3 2.1l-0.5 1.9l-0.4 2l-0.7 1.9l0 2.1l-2.1 1.5l0.3 2.2M562.7 389.9l2.6 1.4l3 -0.3M568.4 374.5l2 1.2M616.4 370.3l-1.9 -1l-2.3 -0.4l-1.8 -1.3l-1.7 -1.4l-1.6 -1.5M616.4 370.3l1.1 -2.2l1.6 -1.9l2 -1.4M621.1 364.8l-0.3 -2.2l0 -2.1l0.9 -2.1l-0.3 -2.2M607.1 358.8l0.4 3l-0.4 2.9M607.1 358.8l2.3 -0.2l1.5 -1.8l1.7 -1.3l2.4 -0.1l2.2 -0.3l1.5 -1.9M618.7 353.2l0.7 2.1l2 0.9M631 357l1.1 2l-0.4 2l-0.3 2l-0.9 2l2 2l-1 2M631 357l-2.4 -0.7l-2.5 1l-2.3 -0.7l-2.4 -0.4M631.5 369l-0.6 0.8M630.9 369.8l-2 -1l-1.7 -1.4l-1.8 -1.3l-2.3 -0.4l-2 -0.9M710.6 472.9l-0.2 2l-0.3 2M710.6 472.9l-0.8 -2l-1.3 -1.7l-0.7 -2l-0.5 -2.2l-1.3 -1.7l-0.5 -2.2M701 476.7l2.3 0.8l2.3 -0.4l2.3 -0.5l2.2 0.3M701 476.7l-1.6 -1.6l-0.1 -2.3l-0.5 -2.2l-2.4 -1.1l-0.4 -2.2M705.5 461.1l-1.5 1.8l-2.3 0.7l-2.2 0.7l-2.2 0.9l-1.3 2.1M656.8 284.7l-3.2 1.8M644.2 274.6l0.3 2.6l-0.1 2.6l0.3 2.6M653.6 286.5l-2 -1.7l-2.1 -1.2l-3 0.7l-1.8 -1.9M656 300.9l2 -0.4l1.9 -1.1l2.1 -0.3l2.1 -0.6l1.7 -1.2l1.8 -1.2M656 300.9l-1.2 -2.1l-2.5 -0.7l-1.6 -1.7l-1.8 -1.4M666.2 287.2l0.2 2.2l0.5 2.2l0.7 2.2l0 2.3M653.6 286.5l-1.5 2l-1.6 1.9l-0.5 2.5l-1.1 2.1M631.3 280.3l1.8 1.6l2.5 0.1l1.7 1.8l2.3 0.6M644.7 282.4l-2.4 1.3l-2.7 0.7M594.4 107.9l1 2.8M581.2 115.2l2.6 1l2.4 1.4M586.2 117.6l2.5 -0.6l0.6 -2.9l2.7 -0.2l2 -1.3l1.4 -1.9M569.7 121.6l1.6 1.4l1.4 1.8l2.5 0.4l0.8 2.4l2 1l1.3 1.7l2.1 0.9M586.2 117.6l0 2.5l0.8 2.3l0.3 2.5l0.7 2.3M581.4 131.2l1.8 -1.9l3.1 0.1l1.7 -2.2M744.3 439.1l1.7 0.2M744.3 439.1l-1.8 1.1l-2.1 0.6l-0.4 2.9l-2.3 0.4M737.7 444.1l1.1 2.1l-0.1 2.4l-1.1 2.4l1 2.2M752 453.6l-2.4 -0.1l-2.3 0.8l-2.3 0.9l-2.4 -0.3l-2.4 0.3M738.6 453.2l1.6 2M748.5 466.3l-2.5 0.5l-2.2 -1.4l-2.5 0.4l-2.2 -0.9M740.2 455.2l-1.4 2.1l-0.4 2.4l-0.8 2.4M739.1 464.9l-1.5 -2.8M728.6 452.3l2 -0.1l2 0.1l2.1 -0.1l2 -0.1l1.9 1.1M728.6 452.3l0 2.1l-0.1 2.2l-1 2l1.2 2.3l-0.9 2.1M737.6 462.1l-2.5 -0.6l-2.5 0l-2.3 1.7l-2.5 -0.2M714.6 454.3l0.4 2.7l1.9 1.8l1.5 2.1M714.6 454.3l2 0l2 -0.3l2.1 0.3l1.7 -2.3l2.3 1.7l1.8 -1l2 -0.5M728.5 452.2l0.1 0.1M718.4 460.9l2 2l2.8 0.2l2.3 1.4M725.5 464.5l2.3 -1.5M701.9 367.5l-2.4 0l-2.2 1.1l-2.3 0.7l-2.5 -0.6M705.8 372.6l-0.6 2.3l-2.2 0.9l-0.9 1.9l-0.9 2l-1.7 1.4M699.5 381.1l-2.5 -0.2l-2.5 -0.6M694.5 380.3l0.2 -2.5l-0.3 -2.3l-0.5 -2.3l-1.7 -2.1l0.3 -2.4M559 48.2l2.2 -0.9l2.2 0.1l2.1 1.5l2.2 -0.3M574.9 32.8l-1.5 1.7l-0.3 2.2l-1.3 1.8l-1.3 1.8l-0.7 2.1l0.5 2.6l-2 1.5l-0.6 2.1M679.2 610.8l0 0M667 614.8l1.1 2l1 2l1.4 1.8l1.7 1.5l1.4 1.8l1.5 1.6M679.2 610.8l0.1 2.3l-1.8 1.8l-1.1 1.9l0.7 2.5l-0.7 2.1l-0.5 2.1l-0.8 2M646.8 611l2.2 -0.5l1.7 1.9l2 0.5l2.2 -0.6M646.8 611l-1.9 -1.6l-2 -1.6l-1 -2.5M654.9 612.3l2.3 -1.7M641.9 605.3l-0.2 -2.2l0.4 -2.2M657.2 610.6l-1.9 -1.3l-0.2 -2.3l-0.8 -1.8l-0.2 -2.3l-2.2 -1.1l-0.4 -2.1M642.1 600.9l2.3 -0.7l2.3 -0.4l2.5 0.9l2.3 -1M657.2 610.6l2.2 -1.2l2.4 0.4M665 603.7l-0.7 -2.3l-1.5 -1.7l-1.1 -2l-1.8 -1.4l-0.6 -2.4l-2.7 -0.8l-0.8 -2.2M651.5 599.7l1.3 -2.1l-0.1 -2.8l2.8 -1.3l0.3 -2.6M668.4 590.2l-2.2 0.5l-2 -1.5l-2.1 0.7l-2.2 0.8l-2 -1.4l-2.1 0.1M655.8 590.9l0 -1.5M631.2 575.3l-1.8 -1.8l0.3 -2.6l-1.2 -2l-0.8 -2.1M631.2 575.3l-1.4 1.4l-0.8 2l-1.4 1.5l-1.6 1.3l-2 0.9l-0.8 1.9M627.7 566.8l-1.5 1.6l-1.8 1.4l-0.8 2.3l-1.6 1.6l-1.4 1.7M623.2 584.3l-1.4 -0.7M620.6 575.4l0.9 2l0.1 2.1l0.2 2.1l0 2M558.3 406.6l1.6 1.6l1.2 1.9l0.3 2.5l1.7 1.6l1.3 1.9M558.3 406.6l-2.3 0.6l-2 1.1l-2 1.2M550.8 412.9l1.2 -3.4M550.8 412.9l2.1 1l1 2.1l0.9 2.1l1.5 1.6l1.7 1.4l1.3 1.8M564.4 416.1l-0.5 2.2l-2 1.2l-2.1 1.1l-0.5 2.3M552.3 428.2l2.7 0.4l2.7 -0.1M552.3 428.2l-1.7 -1.3l-1.1 -1.7l0.3 -2.6l-1.8 -1.3l-1.2 -1.6l-1.1 -1.7M545.7 418l1.3 -2.1l2.8 -0.6l1 -2.4M559.3 422.9l-0.1 3l-1.5 2.6M622.3 506.4l-0.9 2.8l-0.3 2.9M622.3 506.4l-1.4 -1.6l-1.7 -1.3l-1.7 -1.1l-1.3 -1.8l-2.1 -0.8M607.5 507.8l1 -1.8l1.2 -1.7l1.7 -1.3l1.7 -1.3l1 -1.9M607.5 507.8l0.6 3.1M608.1 510.9l2.2 -0.2l2.2 -0.2l2.1 0.8l2.2 -0.1l2.2 -0.2l2.1 1.1M527.7 369.5l0.5 1.9l1.3 1.7l0.2 2.1l0.8 1.8l0.4 2l1.3 1.6l0.4 2l1.3 1.7M527.7 369.5l-1 0.2M526.7 369.7l-0.8 2l-0.9 2.1l-0.2 2.3l-1 2l-1.8 1.6M522 379.7l2.4 0.7l1.2 2.2l2.5 0.5l0.7 2.9l2.4 0.6M531.2 386.6l2.7 -2.3M540.3 369.3l-1.8 -1.7l-2.2 -0.4l-2.5 0.4l-2 -1M540.3 369.3l1.3 2l2.1 1.5l1.1 2.2M531.8 366.6l-2.5 0.8l-1.6 2.1M545.6 382.2l-2.5 -0.3l-2.3 0.8l-2.2 0.9l-2.3 0.6l-2.4 0.1M531.8 366.6l0.2 -2.2l-0.1 -2.3M523 350.3l0.9 2.3l2.5 0.7l1.8 1.4l1.2 2M520.1 367.4l2.5 -0.2l2 1.4l2.1 1.1M531.9 362.1l-0.8 -2.9l-1.7 -2.5M511.2 380.5l2.8 1l2.9 0.6M511.2 380.5l-1.9 2.2l-2.6 1.3M506.7 384l0.5 2.9l1.1 2.8M508.3 389.7l1.5 1.7l2.4 0.4l1.6 1.4l1.2 2.2l2.3 0.6l1.6 1.5M516.9 382.1l1 2l0.9 1.9l0.2 2.4l2.2 1.3l1.3 1.8l-0.7 2.7l1.6 1.7M523.4 395.9l-0.3 0.3M523.1 396.2l-2.8 1.5M520.3 397.7l-1.4 -0.2M511.7 371.3l0.4 2.3l-1.3 2.3l0.3 2.3l0.1 2.3M522 379.7l-2.6 1.1l-2.5 1.3M502.8 383.5l3.9 0.5M501.4 402.2l0.2 -2.2l1.7 -1.4l0.3 -2.2l1.2 -1.6l1.3 -1.6l1.5 -1.5l0.7 -2M502 403.5l1.9 -1.4l2.3 -0.2l1.8 -1.5l2.5 0.1l2 -1l1.9 -1.2l2.1 -1l2.4 0.2M517.8 408.7l0.4 -2.2l0.4 -2.2l1 -2.1l0.2 -2.3l0.5 -2.2M533.4 415.3l-1.8 -1.5l-0.1 -2.4l-0.8 -2.1l-2.2 -1.2l-0.9 -2l0.2 -2.6l-1.2 -1.8l-0.9 -2l-2.3 -1.2l-0.3 -2.3M505.7 408.1l-1.1 -2.9l-2.6 -1.6M507 419.3l-2 0.7l-1.4 1.8l-2.3 0M493.2 414.3l2 1l1 2.2l1.7 1.4l2.3 0.8l1.1 2.1M514.5 432.8l1.9 -1.6l0.3 -2.4M514.5 432.8l-1.8 1.9l-2.2 1.4M510.5 436.1l-2 -1.1l-0.6 -2.4l-2 -1l-1 -2.1l-2 -1l-1.6 -1.4l-1.6 -1.4M501.3 421.8l-0.4 2.1l-1.2 1.8M640.8 562.5l-2.1 0.7l-2.2 0.8l-2.4 -0.6l-2.2 0.6l-2 1.5l-2.3 0.1M640.8 562.5l1.7 -1.5M627.6 565.6l-1 -2.2l-2.3 -0.8M633.1 548l3.2 1.6M633.1 548l-1.4 2l-2.1 1.2l-1.9 1.4M627.7 552.6l-0.7 2l-0.5 2l-1.5 1.8l-0.3 2.1l-0.4 2.1M627.6 565.6l0.1 1.2M617.7 562.9l1.6 -0.6M617.7 562.9l0.3 2.3l-0.5 2l-1.5 1.8l0.5 2.3l-1.4 1.8M615.1 573.1l3 0.4l2.5 1.9M624.3 562.6l-2.5 -0.9l-2.5 0.6M593.3 561.2l1.7 1.8l2.6 -0.5l1.7 1.8l2.5 -0.3l1.7 1.8M593.3 561.2l0.7 -2.4l0.4 -2.5l0.4 -2.5l-0.5 -2.6M594.3 551.2l2.1 0.2l2.1 0.4l1.7 1.4l2.1 0.4M602.3 553.6l0.3 2.3l0.7 2.2l0.8 2.2l1.3 2M603.5 565.8l1.9 -3.5M617.7 562.9l-2.1 0.5l-2 -0.8l-2.1 0.5l-2.1 0.3l-2 -1.7l-2 0.6M619.3 562.3l-1.7 -1.7l0 -2.2l-0.3 -2.1l-1.7 -1.7l0.7 -2.4l-0.9 -1.9M602.3 553.6l1.5 -1.8l1.8 -1.6M605.6 550.2l2.4 0.6l2.5 -0.8l2.4 0.3l2.5 0M627.7 552.6l-2.4 -0.3l-0.9 -2.8l-2.8 0.4l-1.2 -2.1l-2.1 -0.8M618.3 547l-2.2 0.9l-0.7 2.4M633.1 548l0 -2.2l-0.9 -1.9M630.5 541.5l1.7 2.4M630.5 541.5l-2.4 0.1l-2.2 -1.1l-2.4 0l-2.3 -0.2l-2.3 0.2M618.3 547l-0.7 -2.3l1.9 -2l-0.6 -2.2M593.5 550.8l0.8 0.4M593.5 550.8l-1.9 1.2l-2 0.8l-2.2 0.4l-1.7 1.6l-2.4 -0.1M593.3 561.2l-0.3 2.4l-1.7 1.7M591.3 565.3l-1.2 -1.9l-1.7 -1.4l-1.9 -1.4l-1.1 -1.9l-0.4 -2.5l-1.7 -1.5M531.5 452.9l-2.3 -0.7l-2.2 -0.5l-2.3 0l-2.2 0.3l-2.3 0.8l-2.3 -0.6M531.5 452.9l-0.1 -2.3l-0.9 -1.9l-0.7 -2.1l-0.8 -2l-0.7 -2M517.9 452.2l2.2 -0.6l0.4 -2.5l2.4 -0.4l1.5 -1.3l0.9 -2.1l1 -1.8l2 -0.9M514.5 432.8l2.1 0.8l0.2 2.7l2.6 0.4l0.7 2.2l1.5 1.5l1.8 1.1M510.5 436.1l-1.3 2.5l-1.3 2.5M507.9 441.1l1.3 1.9l0.5 2.3l1.1 2l-0.4 2.5M510.4 449.8l1.4 -2l2.8 0.3l1.9 -1.1l1.3 -2l1.8 -1.3l2.4 -0.4l1.4 -1.8M532.7 436.4l-2.1 -1.1l-1.7 -1.6l-1.4 -1.9l-1.8 -1.5l-2.7 -0.1l-1.4 -2M532.7 436.4l-1.5 1.9l-0.7 2.6l-2.3 1.3M523.4 441.5l2.5 0.1l2.3 0.6M569.6 468.4l-1.8 -1.5M569.6 468.4l-0.1 2.1l0.4 2.1l-1 2l-0.1 2l-0.7 2M567.8 466.9l-2.2 0.8l-1.9 -2.1l-2.2 0.8M555.4 473.3l1.5 -1.7l1.5 -1.8l1.5 -1.8l1.6 -1.6M501 439.8l-1.7 -1.8l-2 -1.4l-0.8 -2.5l-3 -0.4l-1.2 -2.2M501 439.8l-2.2 0.6l-1.3 1.6l-0.7 2.3l-1.8 1M507.9 441.1l-2.3 -0.6l-2.4 0.3l-2.2 -1M517.9 452.2l-2 1l-2 0.9l-2.4 -0.3M510.4 449.8l0.1 3M528.2 442.2l0.1 0.4M510.5 452.8l1 1M526.9 465l-1.7 -1.2l-1.9 -0.9l-1.5 -1.5l-1 -2.1l-2.3 -0.5l-1.9 -0.9l-1.1 -2l-1.7 -1.3l-2.1 -0.5M511.7 454.1l-0.2 -0.3M511.7 454.1l0.5 2.1l-1.4 1.9l-0.4 2.1l0 2l0.4 2.1l-0.7 2l1 2.1l-0.4 2.1M654.9 612.3l0.6 2.1l-1.6 1.8l-0.2 2l0.8 2.1l-1.1 1.9l-0.7 1.9M666.8 614.7l-0.8 2l-1 1.9l-0.1 2.3l-1.9 1.5l-0.7 2M662.3 624.4l-2.4 0.7l-2.4 -0.4l-2.4 -0.6l-2.4 0M758.7 631.9l-1.3 -2.1l-2.6 -0.1l-2.1 -0.9l-1.5 -1.9M758.7 631.9l0.8 -2.1l0.6 -2.2l2.5 -1.1l0.1 -2.4l1.5 -1.7l0.8 -2M751.2 626.9l-0.8 -2.3l-0.1 -2.5M758.7 617l2 1.3l2.6 0.3l1.7 1.8M758.7 617l-1.9 1.1l-2.1 0.9l-1.9 1.3l-1.9 1.2M750.9 621.5l-0.6 0.6M770.7 621.9l-2.7 -1.4l-3 -0.1M762.7 636.6l-0.8 -2l-2 -1l-1.2 -1.7M702 594.5l-1.5 1.7l-1.1 2M702 594.5l-1.3 -1.8l0.4 -2.6l-1.6 -1.8M697.5 587.7l2 0.6M697.5 587.7l-1.6 1.5l-2.2 0.8l-1.9 1l-1.8 1.3l-1.3 2l-2.1 0.8l-2 1l-1.2 2.1M699.4 598.2l-2 1l-1.2 2l-2.7 0l-1.1 2.2M683.4 598.2l2.2 0.3l1.5 1.5l1.4 1.9l1.6 1.3l2.3 0.2M682.8 598.1l0.6 0.1M680.8 585.9l2.2 -1.3l1.7 -1.8l2.3 -1.2l1.4 -2.1M688.4 579.5l0.7 0.3M689.1 579.8l2.3 0.9l1.4 1.9l1.6 1.7l1.6 1.7l1.5 1.7M748.2 632.7l0.3 2.2l0.6 2.1l-0.1 2.4l1.7 1.8M748.2 632.7l-2.1 1.2l-2.1 0.9l-2.5 -0.9l-2.1 0.9M739.4 634.8l-1.6 2.8M750.7 641.2l-2.1 1.6l-2.4 1M746.2 643.8l-1.9 -1.3l-2.2 -0.2l-2.1 -0.5l-2.2 -0.3M737.8 637.6l0 3.9M756.7 642.8l-1.7 -1.5l-2.3 0.4l-2 -0.5M751.2 626.9l-1.2 1.8l-0.2 2.4l-1.6 1.6M746.7 657.7l0.9 -2.3l-1.9 -2.3l0.9 -2.3l0 -2.3l0 -2.4l-0.4 -2.3M737.1 655.7l0 -2.2l-1.9 -1.7l-0.1 -2.1l-0.3 -2.2l-0.5 -2M734.3 645.5l1 -2.7l2.5 -1.3M734.3 645.5l-2.5 -1.2l-2.7 0.8l-2.6 -0.6M726.5 644.5l-0.4 -2.6l-2.6 -1.2l-0.3 -2.5l-1.5 -1.9M726 631.7l-1 1.9l-1.8 1.2l-1.5 1.5M726 631.7l2.3 0.4l1.3 2.4l2.4 0.1l2.1 0.6l2.2 0.6l1.5 1.8M701.9 677l1.7 -2.6l2.8 -1.2M711.9 673.1l-2.7 -0.4l-2.8 0.5M713.2 650.3l2 -0.4l2.2 0.6l1.9 -1.8l2.4 1.5l1.9 -1.3M713.2 650.3l-0.7 2.2l0.9 2l0.8 2l-0.5 2.1M723.6 648.9l-0.3 2.4l0.3 2.2l0.8 2.1l0.8 2.1l0.9 2.1M713.7 658.6l1.3 1.8l1.7 1.3l2 0.9M726.1 659.8l-2.4 1l-2.2 1.7l-2.8 0.1M726.5 644.5l-0.6 2.7l-2.3 1.7M704.6 661.6l-0.2 2.4l1.1 2.2l0.1 2.4l-0.3 2.4l1.1 2.2M704.6 661.6l2.5 0.1l2 -1.9l2 -1.5l2.6 0.3M717.4 669.8l-0.5 -2.5l2 -2.2l-0.2 -2.5M667.1 644.3l1.2 -2.2l-1 -2.3l0.1 -2.3l0.1 -2.3l1 -2.2l-0.5 -2.3M667.1 644.3l0.4 0.3M667.5 644.6l2.2 0.5l2.3 -0.4M672 644.7l0.5 -2.3l2.6 -0.6l1.2 -1.8l1.3 -1.6l0.6 -2.3l1.6 -1.4M668 630.7l1.9 -0.9l1.7 -1.5l2.7 0.6l1.4 -1.9M679.8 634.7l-0.1 -2.4l-1.6 -2.1l-0.3 -2.4M675.7 627l2.1 0.8M655.4 642l2.4 0.4l2.4 0.2l2.2 1l2.3 0.6l2.4 0.1M665.1 656.9l-0.1 -2.2l0 -2.1l0.4 -2l1.4 -1.9l-0.4 -2.2l1.1 -1.9M678.3 659.8l-0.5 -2.2l0.3 -2.1l0.5 -2.1l-0.2 -2.2l1 -2M679.4 649.2l-1.3 -2.1l-2.5 0l-2.3 -0.4l-1.3 -2M679.4 649.2l2.2 -0.5l2.1 -0.8l1.7 -1.9l2.2 -0.4M687.6 645.6l1 -2.5l-1 -2.6M687.6 640.5l-2.1 -1.2l-1.3 -2.3l-3 -0.1l-1.4 -2.2M675.1 625.5l0.6 1.5M662.3 624.4l2.1 1.7l1.4 2.2l1.4 2.2M667.2 630.5l0.8 0.2M689.9 622.1l-2.4 0.1l-2 1.1l-1.6 1.7l-2.2 0.7l-2 0.9l-1.9 1.2M689.9 622.1l0.6 2.3l2.4 1.5l0.9 2.2l1.4 2l0.2 2.5M695.4 632.6l-1.5 1.7l-2.2 1l-0.8 2.3l-2.2 1l-1.1 1.9M761.9 572.9l-1.8 1.6l-2.2 0.9l-2.1 0.9l-2.4 0.3M761.9 572.9l-0.2 2.3l0.4 2.2l0.4 2.2l2.4 1.6l-0.9 2.5l0.9 2.1M750.5 587.2l0.3 0.3M764.9 585.8l-1.5 2.1l-2.5 0.3M750.8 587.5l2.1 -0.6l2 0.6l2 1l2 0l2 -0.3M783.5 622.1l-0.1 -2.4l1.2 -2M773.1 620.9l0.2 -2.2l0.1 -2.2l-2.2 -1.8l0.1 -2.2l0.4 -2.2M784.6 617.7l-1.1 -2.1l-0.9 -2.1l1 -2.7l-1.5 -1.9M782.1 608.9l-2.3 -0.8l-1.8 2l-2.1 0.1l-2.3 -1l-1.9 1.1M784.6 617.7l2.3 -0.7l0.5 -2.8l2.4 -0.5l0.9 -2.4l2.4 -0.5l2.2 -0.7l0.6 -2.8l2.1 -0.9M798 606.4l0.6 2l2.2 1.1l0.2 2.2M801 611.7l0.3 2.5l-0.8 2.4l-0.6 2.4M801 611.7l2.1 0.9l2.2 0.4l2.3 -0.5l2.1 0.8M870.6 464.8l2.1 1l2.5 0.2l1.6 2.1l2.3 0.6M889.6 464l-1.7 -1.4l-0.8 -2.2l-1.8 -1.3l-2.3 -0.9l-1.5 -1.6l-1.6 -1.5l-0.7 -2.3M889.6 464l0.1 1.3M879.2 452.8l-1.4 0.6M879.1 468.7l2.5 0.2l2.1 -0.7l1.6 -2.1l2.1 -0.8l2.3 0M934.8 457.7l-1.9 0.6l-2 0.3l-2 0.5l-2.2 -0.2l-1.5 1.7l-1.9 0.9l-2.1 0.1l-2.2 -0.4l-1.5 2l-1.9 0.6l-2.1 0.2l-1.7 1.3l-2.3 -0.7l-2 0.4l-1.9 0.8l-1.8 1l-2.2 -0.6l-2 0.4l-1.9 0.8l-1.6 1.8l-2.1 0M895.2 451.6l-1.8 1.7l-0.6 2.2l-0.2 2.4l-1.1 2l-0.9 2l-1 2.1M889.7 465.3l2.1 2.1l2.2 1.8M899.6 482.2l-1.3 -1.7l-1.1 -2l-1.5 -1.7l-0.9 -2l-1.2 -1.9M894 469.2l-0.4 3.7M870.2 492.5l2.4 -0.5l1.8 -1.7M860.8 490.4l-1.8 -1.7l1.4 -2.9l-1.8 -1.7l-0.7 -2.2M868.2 477.1l1.8 1.2l1.8 1.4l1.2 2M874.4 490.3l0.6 -2.3l-0.4 -2.1l-1.8 -1.9l0.2 -2.3M879.1 468.7l0.9 2.4l0.7 2.5l-0.2 2.6M873 481.7l1.8 -1.4l2.4 -0.6l1.6 -1.8l1.7 -1.7M893.6 472.9l-0.9 2l-2.5 0.4l-1.3 1.6l-0.7 2.3l-2.1 0.7M880.5 476.2l1.2 2.1l2.7 0.1l1.7 1.5M852.6 496l-1.7 -1l-2 -0.4M846.7 480.8l0.5 2.3l0.1 2.3l-0.5 2.2l-1 2.1M845.8 489.7l2.4 1.9l0.7 3M848.6 511.6l-1.7 -1.3l-0.7 -2l-1.1 -1.8l-1.4 -1.5l-0.6 -2.1l-1.8 -1.3M848.6 511.6l-2.1 -0.7l-1.9 1.3l-2 0.5l-2.1 -1.4l-2 0.3l-2.1 0.3l-2 0.4l-2 -0.1l-2 0.3M831.1 505.4l1.7 -1.5l2.2 -0.5l1.7 -1.6l2.1 -0.8M831.1 505.4l0.5 2.4l-2 2.1l0.6 2.5M841.3 501.6l-2.5 -0.6M830.4 512.5l-0.2 -0.1M849.7 512.2l-1.1 -0.6M848.9 494.6l-1 2l-2.1 0.8l-1.3 1.6l-1 2l-2.2 0.6M845.5 523.9l-2.2 0.7l-2.2 -0.9l-2.2 0.1l-2.1 -0.8l-2.2 -0.1M834.6 522.9l-0.3 -0.2M834.3 522.7l-0.3 -2.2l-0.6 -2.1l-1.3 -1.9l-1.9 -1.6l0.2 -2.4M836.8 492.8l1.4 1.8l-1 2.4l0.8 2l0.8 2M836.8 492.8l2.3 -0.5l2.4 -0.3l2.3 -0.9l2 -1.4M820.6 514.6l0.1 2.5l-2.2 1.5l-0.4 2.3M820.6 514.6l2.4 -0.7l2.3 -0.7l2.3 -1.3l2.6 0.5M818.1 520.9l0.8 2.2l0.6 2.3l1.4 1.9M834.3 522.7l-2.2 -0.3l-1.7 1.5l-2.2 -0.3l-1.3 2.4l-1.9 0.8l-2.2 -0.1l-1.9 0.6M783 528l2.1 -0.8l2.3 0.8l2.2 0l2.2 -0.5l2.1 -0.6l2.2 0.3M794.8 540.7l1.1 -2.2l-0.5 -2.6l2 -1.9l-0.4 -2.5M780.2 541l1.1 1.8l1.8 1.1l2.3 0.4l0.8 2.1M797 531.5l-1.3 -2l0.4 -2.3M799.3 517.2l1.9 1l2.1 0l2 0.6l1.7 1.8l2.1 0.1l2.4 -0.6l1.7 1.3M799.3 517.2l-1.1 1.8l-0.9 1.9l0.6 2.3l-1.8 1.6l0.2 2.2M813.2 521.4l-1.1 2l-1.2 1.8l-0.5 2.3l-1.2 1.9M809.2 529.4l-2 -1.2l-2.2 0l-2.3 -0.1l-2.1 -0.5l-2 -1.2l-2.3 0.6M794.9 512.1l2.2 1.8l2 1.9M799.1 515.8l0.2 1.4M796.3 527l-0.2 0.2M823.1 583.4l0.2 2.3l-0.8 1.9l-2.6 1.3l-0.4 2.1l0.6 2.4l-1.7 1.6M818.4 595l-2.5 -0.9l-2.3 0.3l-2.3 2l-2.4 -0.9M814.4 582.1l-2.1 0.7l-0.7 2.3l-1 1.8l-2.2 0.7M808.4 587.6l-0.9 2.7l0.1 2.6l1.3 2.6M823.5 600.9l-0.9 -2.7l-2.7 -1.1l-1.5 -2.1M815.8 608.8l-1.3 -2l-1.9 -1.4l-0.8 -2.4l-2.5 -0.9l-0.7 -2.5l-2.2 -1.1M808.9 595.5l-2.5 3M798 606.4l0.1 -2.5l-0.3 -2.5M806.4 598.5l-2.3 0.2l-1.8 1.9l-2.1 0.8l-2.4 0M771.8 542.2l-2.1 1.8l-0.8 2.7M782.9 555.9l-2.4 0.7l-1.9 -2.3l-2.3 0.4l-2.1 -0.7l-2.2 0.2M768.9 546.7l0.6 1.9l1 1.8l1.7 1.5l-0.2 2.3M755.1 536.2l2 -0.6l2 -0.9l2.2 -0.2l1.8 -1.5M755.1 536.2l0.8 2l1.4 1.8l0.5 2.2l0.4 2.2l2.3 1.3l0.5 2.2M768.9 546.7l-2.1 -0.6l-1.9 1.1l-1.9 1l-2 -0.3M748.5 550.8l2.1 0.3l2.1 -1l2.1 -0.2l2.1 0.6l2.1 -0.1M748.5 550.8l-0.2 -2.2l-1.3 -2.1l0.7 -2.3l-0.3 -2.2l-0.5 -2.2l0.2 -2.2M747.1 537.6l3 -2.6M750.1 535l2.7 -0.2l2.3 1.4M759 550.4l2 -2.5M748.5 550.8l-1 1.9l-1.7 1.5M745.8 554.2l-0.1 2.6l2.2 1.6l0.7 2.3l0.8 2.2M749.4 562.9l2.2 0.9l2.4 -0.6l2.3 -0.2l2.3 0.6l2.3 -0.2M759 550.4l0 2.2l1.7 2l0.1 2.2l-0.7 2.3l-0.5 2.3l1.3 2M763.9 569.1l-1.8 -2l0.1 -2.8M763.9 569.1l1.7 1.6l2.2 -0.5M767.8 570.2l2.3 -0.8l2.2 -0.8l1.5 -2.3l3 0.6l1.6 -2M762.2 564.3l2.4 -0.6l1 -2.3l2.1 -1l1.6 -1.6M778.4 564.9l-2.3 -0.6l-1.4 -1.9l-2.1 -0.7l-1.6 -1.6l-1.7 -1.3M761.9 572.9l1.2 -1.8l0.8 -2M749.4 562.9l-0.5 0.7M748.9 563.6l0.7 2l0.7 2l0 2.1l-0.5 2.2l0.4 2.1M760.9 563.4l1.3 0.9M774.3 587l-0.4 0.3M774.3 587l0.5 -2.3l0.4 -2.2l1 -2l1.2 -2M764.9 585.8l2.3 0.2l2.1 1l2.3 0.5l2.3 -0.2M777.4 578.5l-1.5 -1.4l-1.3 -1.8l-2.3 -0.6l-1.5 -1.4l-1.6 -1.4l-1.4 -1.7M777.4 578.5l2.5 -1.7l2.6 -1.3M782.5 575.5l1.6 -2.2l-0.2 -2.8l1.7 -2.1M783.2 564.5l-2.4 1.2l-2.4 -0.8M772 554.2l-1.2 2.4l-1.5 2.2M747.1 537.6l-2 0.5l-2 1l-2.2 -0.9M745.8 554.2l-1.9 -0.7l-2.1 0.6l-2.1 -0.4M740.9 538.2l-1.3 1.9l0.6 2.1l0.6 2.1l-0.1 2.1l-0.1 2l-1 1.9l-0.6 2M739.7 553.7l-0.7 -1.4M689.1 579.8l1.9 -0.8l2 -0.8l1.6 -1.7l2.6 0.8l1.7 -1.4l2 -0.7l1.8 -1.3M702.7 573.9l1.4 1.5l1.7 1M699.5 588.3l0.7 -2.1l2.2 -0.8M702.4 585.4l0.1 -2.5l1.1 -2.2l1.2 -2.1l1 -2.2M736.2 622.3l2.4 -2.8M736.2 622.3l-2.3 0.1l-1.5 2.1l-2 0.8l-2.3 -0.1M738.6 619.5l-0.3 -2l-0.8 -2l-1 -1.9l0.7 -2.3l-0.9 -1.9M728.1 625.2l-1.5 -2.2l-2.8 -0.5l-1.5 -2M736.3 609.4l-2.5 -0.8M733.8 608.6l-2.2 0.1l-1.7 2l-2.4 -0.4l-2.3 0l-2.1 0.7l-1.9 1.2M722.3 620.5l0.5 -2.2l-0.2 -2.1l-0.3 -2.1l-1.1 -1.9M750.3 622.1l-2.6 0.4l-2.1 -1.6l-2.4 0l-2.1 -1.4l-2.5 0M739.4 634.8l-1.1 -1.9l0.1 -2.3l0.4 -2.3l-1.9 -1.8l-0.7 -2l0 -2.2M726 631.7l0.1 -2.3l1.5 -2l0.5 -2.2M748.3 607.7l-2.1 -0.8l-2.2 0.3l-2.3 0.2l-1.9 -1.4M748.3 607.7l-0.3 2.1l1.4 1.7l-0.9 2.3l1.2 1.8l1.5 1.8l-1.6 2.3l1.3 1.8M739.8 606l-1 2.4l-2.5 1M714.3 624.1l2.2 -0.4l2.1 -0.8l1.4 -2.1l2.3 -0.3M714.3 624.1l0.5 2l-1 2.2l1.5 1.8l-0.8 2.2l0.2 2l1.3 1.8M716 636.1l2.8 0.7l2.9 -0.5M881.5 509.8l1.9 1.6l2.4 0.8l2.4 0.9l1.8 1.8M894.4 501.1l1.7 1.7l0.4 2.2l1.4 1.7l-0.2 2.5M894.4 501.1l2.6 -0.6l1.9 -2.1l2.4 -1.2M834.6 522.9l0.5 2.2l-0.9 2l-0.2 2l-0.9 2l-0.9 1.9l1 2.3l-0.8 2l-0.6 2M834 540.6l-0.3 0M831.8 539.3l1.9 1.3M831.6 558l-0.7 -3.7M833.7 540.6l0 2.4l-1.7 2l1.3 2.7l-2.4 1.8l0.7 2.5l-0.7 2.3M830 417.7l0.2 2.2l2.4 0.9l0.2 2.2l0.9 1.7l1.8 1.3l0.7 2l1 1.7M819.9 424.3l-2.1 0.5l-2.1 0.4l-1.8 1.1l-1.5 1.6M812.4 427.9l-2.8 -0.2l-2.4 -1.5M807.2 426.2l0.4 -2.7l-0.6 -2.7M823.7 430.6l-1.7 -1.8l-1.4 -2l-0.7 -2.5M814.3 438.9l-0.3 -2.2l0.5 -2.4l-1.5 -2l-1.3 -2.1l0.7 -2.3M800.1 432.2l1.8 -1.5l1.8 -1.5l2.3 -0.8l1.2 -2.2M879.2 452.8l1.8 -1.7l1.2 -2.1M866.4 445l1.7 -1.5l2.1 -0.4l2.1 0.1l2.4 0.8l1.9 -1.1l1.9 -0.9M552.3 428.2l-2.2 0.5l-1.1 2.2l-2.1 0.6l-1.8 1.3M545.7 418l-2 -1.1l-2.1 0.9l-2.1 0.7l-2.1 -1.5l-2.1 0.5M544.3 396.4l-1.9 -1.4l-2.1 -0.8l-2.5 -0.1l-1.6 -2.1l-2 -0.9l-2 -1.1l-2.4 -0.2M544.3 396.4l-1.8 1.7l-0.3 2.4l-1.1 2M541.1 402.5l-0.6 0.3M540.5 402.8l-1.8 -1l-2.2 -0.4l-1.7 -1.1l-1.6 -1.5l-1.5 -1.5l-2.1 -0.4l-1.5 -1.7l-2.1 -0.4M526 394.8l0.5 -2.3l2.3 -0.8l1 -1.9M548 392l-1.6 2.4l-2.1 2M531.2 386.6l-1.4 3.2M555.8 395.3l0.2 2.5l0.7 2.3l1.6 1.9l1 2.1M559.3 404.1l-1 2.5M552 409.5l-2.1 -0.7l-1.6 -1.6l-1.9 -1l-1.9 -1l-1.7 -1.4l-1.7 -1.3M533.4 415.3l1.3 -1.6l1.3 -1.6l0.7 -2l1.2 -1.7l-0.2 -2.4l2.3 -1.1l0.5 -2.1M523.4 395.9l2.6 -1.1M559.3 404.1l2 -1.1l2.2 -0.5l2.4 0.4l1.9 -1.8l2.4 0.4M568.3 391l1.3 1.7l1.5 1.5l2 1M570.2 401.5l1.3 -1.9l1.6 -1.9l0 -2.5M572.9 416.2l-2.1 -0.7l-2.2 1.5l-2.1 -0.9l-2.1 0M572.9 416.2l-0.3 -2.5l-0.8 -2.5l1.6 -2.5l-0.5 -2.4M570.2 401.5l1.7 2.2l1 2.6M583.6 413.6l-1.7 -1.6l0.6 -2.7l-2.3 -1.4l0 -2.4M583.6 413.6l-1.4 1.9l-2.5 0.4l-2 1.1l-1.4 2M576.3 419l-2 -1l-1.4 -1.8M572.9 406.3l2.4 -1.3l2.4 -0.2l2.5 0.7M668.9 478.5l-2.4 -1l-2.8 -0.5l-2 -1.9M668.9 478.5l0.4 2.4l-1.9 2.1l-0.2 2.3l0 2.5M667.2 487.8l-2.3 0.1l-2.3 0.1l-2.4 0.3l-2.2 0.5l-2.3 0.3M661.7 475.1l-2.1 1.2l-2 1.3l-2.3 0.8M655.3 478.4l-0.4 2l-1 1.9l-0.5 2l0.7 2.2M655.7 489.1l-1.6 -2.6M669.9 559l1.6 1.2l1.6 1.3l1.4 1.6l1.9 0.9M669.9 559l-1.2 1.7l-1.5 1.3l-0.5 2.2l-1.3 1.5l-1.6 1.4M665.3 569.9l-1.5 -2.8M665.3 569.9l2.8 0.1l2.4 1l2.6 0.8M676.4 564l-1.3 2.1l0.1 2.4l-0.2 2.3M675 570.8l-1.9 1M652.1 560.3l0.3 0.5M652.4 560.8l2.4 0.3l1.8 1.1l1.9 1l1.6 1.7l1.5 1.7l2.2 0.5M654.9 553.4l2.2 -0.9l2 2l2.2 -1.5l2.1 0.6l2.2 -0.7l2.1 0.8l2.1 0.1M669.8 553.8l-0.3 2.6l0.4 2.6M673.4 583.8l-0.8 -2.4l0.3 -2.4l0.1 -2.4l0.8 -2.4l-0.7 -2.4M673 584l-2 -1.2l-2.2 -0.5l-1.8 -1.7l-2.5 0.2l-2.3 -0.5l-1.9 -1.4M660.3 578.9l1.7 -1.4l0.6 -2.1l0.6 -2l1.2 -1.7l0.9 -1.8M688.4 579.5l0.2 -2.1l-1.1 -1.9l-0.4 -2.1M687.1 573.4l-2 -0.6l-2.2 0.6l-1.9 -1.2l-1.8 -1.4l-2.1 0l-2.1 0M786 417.5l-1.4 -1.7l-0.8 -2l0.6 -2.4l-1.3 -1.8M783.1 409.6l1.4 -2.4l2.5 -1l2.3 -1.2M744.7 368.9l-2.2 0.6l-2.2 -1l-2.2 0.7M738.1 369.2l-1.3 -1.8l0.4 -2.6l-1.7 -1.6l-1.1 -1.8M743.7 353.8l-1.7 1.1l-1.7 1.1l-1.7 1l-1.4 1.5l-0.9 2.2l-1.9 0.7M724.8 370.3l-0.5 -2.2l1.1 -2.1l0.1 -2.1l-1 -2.3l2 -2l-0.6 -2.2M734 372.3l2.3 -1.2l1.8 -1.9M734.4 361.4l-2.1 -1.2l-1.8 -1.5l-2.2 -0.9l-2.4 -0.4M712.4 360.6l3.4 -2.2M715.8 358.4l1.9 -0.9l2.1 0.3l2 -0.3l1.8 -0.9l2.1 0.4M725.9 357.4l-0.2 -0.4M640.1 85.1l1.8 -1.7l1.6 -1.7l3 -0.1l1.3 -2.3M556.2 364l-0.4 -2.6M567.7 371.9l0 -2.7l1.7 -2l1.4 -2.1l0.3 -2.5M571.1 362.6l-1.6 -1.7l-2.6 0.3l-2.2 -0.6l-1.4 -2.1l-2 -0.9l-2.1 -0.7M555.8 361.4l1.3 -2.6l2.1 -1.9M540.3 369.3l1.9 -1.7l1.4 -1.9l-0.3 -3.1l2.1 -1.5l1.3 -2M555.8 361.4l-2.3 -0.5l-2.4 0l-2.2 -0.6l-2.2 -1.2M531.9 362.1l1.3 -1.6l1.5 -1.5l2.5 -0.1l1.7 -1.2l1.5 -1.4l1.3 -1.8l1.8 -1M546.7 359.1l-1.9 -1.4l0.7 -2.9l-2 -1.3M591.2 367.8l-2.9 0.2l-2.5 1.4M591.2 367.8l1 -1.4M592.2 366.4l-1 -2.1l0.8 -2.1l-0.7 -2.1l1.1 -2.1M585.8 369.4l-1.7 -2l-2.6 -0.4M581.5 367l-0.3 -2.5l-1.1 -2.1l-1.5 -1.8l-1.7 -1.8M592.4 358l-2.4 0.4l-2 -1.3l-2.3 -0.1l-1.5 -2.7l-2.5 0.4M581.7 354.7l-1.1 1.9l-1.5 1.5l-2.2 0.7M603.7 368.2l2 -1.4l1.4 -2.1M603.7 368.2l-2.4 0.3l-2.3 -0.7l-2.1 -1.6l-2.4 0.3l-2.3 -0.1M607.1 358.8l-1.8 -1l-1.1 -2.1l-2.1 -0.5M602.1 355.2l-2 1l-2.2 0l-2.3 -0.7l-1.9 1.4M593.7 356.9l-1.3 1.1M581.6 381.8l0.4 -2.2l2 -1.6l-0.1 -2.4l0.6 -2l1.6 -1.8l-0.3 -2.4M581.6 381.8l-1.5 -1.8l-2.1 -0.5l-2.2 -0.3l-1.7 -1.5l-2.1 -0.4M570.4 375.7l1.4 -1.5l1.3 -1.6l2.1 -0.6l2.2 -0.5l0.9 -2l1.8 -1l1.4 -1.5M576.1 358.8l-1.3 1.8l-2.4 0.3l-1.3 1.7M576.1 358.8l0.8 0M593.7 469l-1 1.8l0.2 2.2l-0.8 1.9l-1.1 1.8l-0.5 2M593.7 469l-2.3 0.4l-1.7 -1.4l-1.6 -1.6l-1.9 -0.5l-2.1 0l-2 -0.7M590.5 478.7l-1.5 -1.7l-2.4 -0.4l-2.1 -0.8l-1.6 -1.5l-1.5 -1.7M581.4 472.6l-0.2 -2.7l-1 -2.6M580.2 467.3l1.9 -2.1M601.7 466.6l-2 0.8l-2.3 -0.6l-1.5 2.2l-2.2 0M601.7 466.6l2 2.2M592.1 484.3l-1.1 -2.7l-0.5 -2.9M592.1 484.3l2.5 0l1.8 -1.8l2.4 -0.1l2 -1.1l2.1 -1.2M602.9 480.1l0.3 -2.2l-0.4 -2.4l1.3 -2.1l-0.9 -2.4l0.5 -2.2M578.6 481.6l1.2 -2.1l0.2 -2.4l-0.4 -2.6l1.8 -1.9M578.6 481.6l-1.9 -0.6l-2 0l-2.1 1l-1.9 -1.1l-2 -0.2M569.6 468.4l2.1 -0.3l2.1 -0.6l2.1 -0.2l2.3 0.7l2 -0.7M630.9 369.8l-0.2 2.1l-0.6 2l0.6 2.1M616.4 370.3l0.6 2.4l-0.6 2.4l1 2.4l-0.7 2.4l0.7 2.4M617.4 382.3l2.7 -0.7M630.7 376l-1.3 1.8l-2.6 -0.6l-1.9 0.8l-1.6 1.1l-1.6 1.3l-1.6 1.2M744.3 439.1l-1.3 -1.7l-0.2 -2.4l-1.3 -1.6l-2.1 -1.1l-0.4 -2.2l-1.6 -1.5M751.4 426.6l-2.1 -0.4l-2.1 0.2l-2.1 -1l-2.1 1.6l-2.1 -1.6l-2.1 0.7M737.4 428.6l1.4 -2.5M631 357l2.4 0l1.7 -1.8M618.7 353.2l-0.4 -2l0.3 -2M635.1 355.2l-0.1 -2.4l0.2 -2.4l-0.4 -2.3l-1.3 -2.1M633.5 346l-2.5 -0.5M618.6 349.2l2 -1.1l2.2 0.2l1.9 -1.5l1.9 -0.9l2.6 1.1l1.8 -1.5M602.1 355.2l-0.6 -2.6l0.2 -2.6l1.1 -2.5M593.7 356.9l-0.9 -2.1l0.9 -2.4l-0.1 -2.2l-1.2 -2.1l-0.1 -2.2l-0.3 -2.2M592 343.7l0.6 -0.4M592.6 343.3l1.7 1.6l2.5 -0.1l1.9 1.1l1.9 1.2l2.2 0.4M636.4 332.7l-1.1 -0.2M636.4 332.7l0.6 2.6l1.3 2.3l0.6 2.6M633.5 346l1.8 -2l2.4 -1.3l1.2 -2.5M631 345.5l-1 -1.9l-0.6 -2.2l-1.8 -1.5l-0.9 -2l-1.2 -1.8M635.3 332.5l-2.3 -0.2l-1.8 1.1l-1.9 0.9l-2 0.6l-1.8 1.2M628.5 282.2l-1.2 2.1l1.7 2.2l-1.1 2l0.3 2.1l-0.2 2.1l-0.5 2.1l0.1 2.2M627.6 297l2.1 1.1l1.7 1.6M639.6 284.4l0.7 2.3l-0.7 2.3l1 2.2l-0.6 2.3l1.6 2.1l-0.8 2.3M631.4 299.7l2.5 0.6l2.3 -1l2.4 0l2.2 -1.4M648.9 295l-2.3 -0.1l-1 2.7l-2.2 0l-2 0.5M641.4 298.1l-0.6 -0.2M631.5 369l1.6 -1.6l2.2 0l1.7 -1.4l2.1 -0.4l2.1 -0.2M635.1 355.2l2.6 1.3l2.9 0.4M641.2 365.4l-0.8 -2.1l0.9 -2.2l-0.7 -2.1l0 -2.1M595.4 110.7l0.1 0M588 127.2l0.4 0.1M588.4 127.3l2 -0.9l2 -0.8l1.9 -1l1.1 -2.3l1.5 -1.6l1.7 -1.2l2.2 -0.7M600.8 118.8l-2 -1.6l-1.2 -2.1l-0.7 -2.4l-1.4 -2M619.4 106.8l-2.3 1l-1.6 1.7l-0.7 2.4l-2.1 1.2l-1.3 2M608.7 101l0 2.5l-1.1 2.1l-1.2 2.1M611.4 115.1l-0.6 -2.3l-2.1 -1.3l-0.2 -2.5l-2.1 -1.3M606.4 107.7l-2.1 0.8l-2.3 0.3l-2.2 0.6l-2 1.3l-2.3 0M627 118.4l-2.4 0.9l-2.5 0.8l-2.1 1.6M621.5 135.1l-0.4 -0.1M621.1 135l0.3 -2.2l-1.5 -2.1l-0.2 -2.2l0.1 -2.3l0.4 -2.2l-0.2 -2.3M588.4 127.3l1.6 1.2M590 128.5l2.2 -0.4l1.9 1l1.9 0.9l1.9 0.9l2.4 -1.1l1.7 1.5l2 0.7l2.1 -0.2M600.8 118.8l2.4 0.7l1.7 2.1l2.4 0.8M606.1 131.8l0.6 -2.3l0 -2.4l1.3 -2.2l-0.7 -2.5M611.4 115.1l0.3 2.5l-1 2.2M620 121.7l-2.2 -0.9l-2.6 0.9l-2.3 -1.1l-2.2 -0.8M610.7 119.8l-1.4 1.7l-2 0.9M562 135.1l-1.3 -2l-1.9 -1.5l-2.3 -1.2l-0.9 -2.4M562 135.1l-1.2 1.9l-2.5 0.7l-0.2 2.8l-2 1.1M556.1 141.6l-2.2 -0.3l-1.9 1.1M548.2 132.2l0.7 2l1.4 1.7l0.9 2l0.3 2.1l0.1 2.2M551.6 142.2l0.4 0.2M565.8 134.2l0.4 -2.1l1.3 -1.9l0.8 -2l-0.8 -2.4l1 -2l0.4 -2.1M565.8 134.2l-3.8 0.9M567 148.5l-1.3 -2.1l-2.2 -0.4l-2.2 -0.6l-1.7 -1.4l-1.5 -1.6l-2 -0.8M567 148.5l-2.2 0.5l-1.4 2.2l-2.2 0.5l-2.1 0.7l-2 1.1l-2 0.8M555.1 154.3l-0.3 -2l0.2 -2.2l-2.2 -1.6l0.1 -2.1l0.2 -2.2l-1.1 -1.8M544.2 145.6l1.6 -1.4l2 -0.5l2.4 0.3l1.4 -1.8M539.4 286.4l1.8 -1.2l2.4 0.3l1.9 -0.8l1.6 -1.6M539.4 286.4l-1.3 2l0.2 2.2l-0.6 2.1l0.8 2.3M538.5 295l2.1 -0.4l1.9 1.6l2 -0.2l2 -0.5M546.5 295.5l1.3 -1.9l1.7 -1.5l1.2 -2l-0.1 -2.7l2.4 -1.1l0.7 -2.2M547.1 283.1l2.3 -0.3l2.1 1l2.2 0.3M621.1 135l-1.3 0.5M606.1 131.8l0.1 0.4M619.8 135.5l-2.1 -1.3l-2.3 -0.2l-2.1 -1.1l-2.4 -0.1l-2.4 0.1l-2.3 -0.7M644.2 142l0.5 2.2l-0.3 2l-1.7 1.8l0.2 2.2M657.1 153.8l-0.5 0.4M642.9 150.2l2.1 0l1.9 0.6l1.7 1.6l2.2 -0.4l1.8 1.3l2.1 0l1.9 0.9M629.2 149.9l0 3M629.2 152.9l2.3 0.4l2.3 0.1l2.2 0.8l2.3 -0.6M642.9 150.2l-2.2 1.8l-2.4 1.6M732.3 476.7l-1.8 -0.9l-1.8 -1l-1.7 -1.1l-1.3 -1.7M732.3 476.7l-1 2l-1.3 1.7l-1.4 1.7l-2 1.1l-1.2 1.8l-1.6 1.4M725.7 472l-1.3 1.9l-2.4 0.2l-1.9 0.9l-1.9 0.9l-1.3 2l-2 0.8l-2.1 0.5M723.8 486.4l-1.7 -1.7l-2.8 0.8l-1.9 -1.2l-1.7 -1.8l-2.1 -0.7M713.6 481.8l-0.8 -2.6M737.8 477.6l0.6 -2.1l0.6 -2l-0.9 -2.3l0.6 -2.1l-0.4 -2.1l0.8 -2.1M737.8 477.6l-2.9 0l-2.6 -0.9M725.5 464.5l-0.7 2.5l0.9 2.5l0 2.5M718.4 460.9l-1.6 1.4l0.1 2.5l-1.9 1.2l-2 1.2l-0.1 2.3l-1.6 1.4l-0.7 2M710.1 476.9l2.7 2.3M727.9 493.3l-0.1 2.5l-1.9 1.5M727.9 493.3l-1.7 -1.3l-0.1 -2.3l-2.2 -1l-0.1 -2.3M710.7 490.7l1.8 1.4l0.5 2.6l3 0.3l1.1 2.1l0.4 2.5l2.1 1.2M710.7 490.7l0.9 -2.2l0.5 -2.3l0.5 -2.2l1 -2.2M725.9 497.3l-2.3 0.8l-1.7 1.8l-2.3 0.9M677.3 346.9l-2.2 -0.3l-2.2 0.4l-2.3 -0.2l-1.9 1.9l-2.3 -0.3M677.3 346.9l2.1 2.3M666.4 348.4l0.4 2.3l-2.1 1.7l0.4 2.3M679.4 349.2l0 2.5l-1.3 2.2l-0.4 2.3l-0.3 2.4M667.2 357.7l-2.1 -3M667.2 357.7l2.7 1.3l2.7 1.2M672.6 360.2l2.4 -0.9l2.4 -0.7M679.4 349.2l2.4 -0.6l2.1 0.6l2.1 0.8l2.1 0.8l2.2 0.5M690.3 351.3l-0.7 2.2l-0.1 2.2l-1.5 1.9l1.6 2.5l-1.3 2M677.4 358.6l2.1 1l2.1 0.7l2.2 0.8l2.3 0.2l2.2 0.8M704.2 359.3l-2 0.2l-2 0.4l-1.9 0.7l-2.2 -0.5l-1.7 1.7l-2 0.4l-2.2 -1.1l-1.9 1.2M692.5 368.7l-1.6 -2.5l-2.5 -1.7M688.4 364.5l-0.1 -2.2M668.8 414.2l-0.7 -1.9M668.8 414.2l2.2 -1l2.2 0.6l2.2 -0.4l2.2 -0.3l2.2 1M679.8 414.1l1.5 -1M681.3 413.1l0.6 -2.8l0.8 -2.8M670.4 404.8l-0.3 2.7l-1.7 2.2l-0.3 2.6M670.4 404.8l1.4 -1.6l2.3 -0.4l2 -0.7l1.5 -1.7M682.7 407.5l-0.9 -2l-1 -2l-1.1 -1.9l-2.1 -1.2M672.6 360.2l-0.6 2.1l2.3 1.6l-0.4 2.1l0.4 2l1.3 1.8l-0.9 2.2l0.8 1.9M688.4 364.5l-1.3 1.8l-2.4 0.7l-0.7 2.6l-1.6 1.5l-2 1l-2.4 0.7l-1.1 2M688.3 362.1l0 0.2M675.5 373.9l1.4 0.9M694.5 380.3l-2 1.8l-2.5 0.9M690 383l-2 -0.9l-1.2 -2.1l-2.8 0.5l-0.9 -2.7l-2.2 -0.4l-2.5 0l-1.3 -1.9M677.1 375.5l-0.2 -0.7M593.3 65.9l-0.2 -2.4l-0.7 -2.3l0.6 -2.5M593 58.7l1.2 -2.1l1.1 -2.2l1.9 -1.6M578.1 63.8l-1.5 -1.9l-1 -2.2l-2.9 -0.7l-0.9 -2.3M578.1 63.8l2.1 -1.3l0.2 -2.8l1 -2.2l2.3 -1.3M583.7 56.2l-1.4 -2l-1.2 -2.1l-0.5 -2.4M580.6 49.7l-2.1 1.3l-2.5 -0.3l-2.5 -0.1l-2.2 1.2M571.3 51.8l0 2l0 2.1M571.3 55.9l0.5 0.8M578.1 65.9l0 -2.1M567.5 69l1.4 -1.8l0.1 -2.3l1.2 -1.8l0.1 -2.3l0.7 -2.1l0.8 -2M593 58.7l-2.1 -1.6l-2.7 0.7l-2 -1.6l-2.5 0M567.7 48.6l2.3 1l1.3 2.2M559.1 64.7l1.4 -1.7l1.5 -1.6l2.6 -0.1l0.8 -2.5l1.8 -1.3l1.9 -1l2.2 -0.6M691.9 661.6l0.9 -2.4l2.2 -1.2M687.6 645.6l2.4 1.8l2.1 2M692.1 649.4l0.5 2.2l1.9 1.8l0.7 2.1l-0.2 2.5M704.6 661.6l-2.6 -0.5l-1.8 -2.2l-2.5 -0.8M697.7 658.1l-2.7 -0.1M654.5 587.4l-2.2 -0.2l-1.9 0.7l-2 0.4l-1.5 1.7M654.5 587.4l-0.5 -2.5l0.5 -2.6M646.9 590l-1.3 -2l-2.3 -0.9l-1.9 -1.3l-2.4 -0.7l-1.1 -2.3M654.5 582.3l-2.1 -1.8l-1.8 -2.2M650.6 578.3l-2.3 -0.1l-2.3 -0.9l-2.4 0.2l-2.4 0M641.2 577.5l-2.4 1.3M638.8 578.8l-1.5 1.8l0.6 2.2M642.1 600.9l-0.5 -2.7l-2.3 -1.6M639.3 596.6l1.3 -2.4l2.4 -1l2.2 -1.3l1.7 -1.9M655.8 589.4l-1.3 -2M660.3 578.9l-1.4 1.9l-2.2 0.7l-2.2 0.8M639.3 596.6l-3 -1.3M634.5 588.5l0.7 2.3l0.7 2.2l0.4 2.3M634.5 588.5l0.3 -2.4l2.7 -1l0.4 -2.3M652.4 560.8l0.6 2.3l-1.4 2.1l0 2.2l-0.3 2.2l0.6 2.2l-0.2 2.2l0 2.2l-1.1 2.1M640.8 562.5l-0.1 2.1l0.6 2.2l-0.3 2.1l0.3 2.2l-0.2 2.1l-0.3 2.2l0.4 2.1M631.2 575.3l1.4 1.8l2.2 0.3l2.3 0l1.7 1.4M623.2 584.3l0.4 0.8M623.6 585.1l2 1.2l2.2 0.5l2.5 -0.3l2.2 0.8l2 1.2M582.3 453.7l-2.4 -0.5l-2.1 1.3l-2.3 0.6l-2.2 0.3l-2.3 -0.5l-2.3 0.1M582.3 453.7l0.3 -2.4l0.1 -2.3l-1.2 -2.2M568.7 455l0.3 -2.1l1.7 -1.6l-0.7 -2.4l1.1 -1.9l1.2 -1.7l0.5 -2M581.5 446.8l-2.4 -0.3l-1.8 -1.8l-2.6 0.2l-1.9 -1.6M568.7 455l-0.4 2.4l0 2.4l-0.4 2.3l0 2.4l-0.1 2.4M568.7 455l0 0M583.5 455.4l-0.4 2.5l0.1 2.5l0.1 2.5l-1.2 2.3M583.5 455.4l-1.2 -1.7M654.5 550.2l0.6 -2.3l1.3 -1.7l0.7 -2.2l1.6 -1.7l2 -1.3l0.8 -2.1M669.8 553.8l1 -2.2l2.6 -0.6l1.3 -1.9M661.5 538.9l3.7 -0.3M665.2 538.6l1.4 1.4l0.9 2l1.5 1.3l1.6 1.3l1.9 1l0.9 1.9l1.3 1.6M652.5 525.4l-1.3 2.1l-2.6 0.6l-2.2 1.1l-1.6 1.7l-1.4 2M652.5 525.4l2.5 1.8M655 527.2l0.9 2.4l1.7 1.9l-0.4 2.9l1.8 1.9M659 536.3l-2.1 1.3l-2.4 -0.1l-2.4 -0.4l-2.4 -0.2l-2 2l-2.5 -0.6M643.4 532.9l0.7 3.9M645.2 538.3l-1.1 -1.5M668.7 516.6l0.3 2.3l-0.7 2.3l0.2 2.3M668.7 516.6l-0.8 -2l-2 -0.9l-1.2 -1.6M668.5 523.5l-1.8 1.1l-2.1 -0.3l-1.7 1.5l-2 0.1l-2.1 0.1l-1.8 1l-2 0.2M664.7 512.1l-1.5 1.9l-1.9 1.1l-2.4 0.1l-2 0.8l-1.6 1.6l-2.6 -0.3l-1.5 1.9M651.2 519.2l0.6 2l0.7 2l0 2.2M661.5 538.9l-2.5 -2.6M671.3 528.2l-0.7 -2.8l-2.1 -1.9M671.3 528.2l-1.3 2.5l-0.4 2.8M669.6 533.5l-1.9 1.3l-0.8 2.3l-1.7 1.5M646.8 544.8l-0.2 -2.2l-1.7 -1.9l0.3 -2.4M630.5 541.5l0.3 -2.1l0.4 -1.9l-0.8 -2.2l1.8 -1.8l0.6 -2l-0.4 -2.1l0 -2M632.2 543.9l2.2 -0.8l1.3 -2.4l2.2 -0.8l2.1 -1l2.3 -0.7l1.8 -1.4M632.4 527.4l2.1 0.4l1.9 0.8l2 0.6l1.3 2l2.2 0.2l1.5 1.5M600.4 502.2l1.1 -1.7l1.2 -1.7l1.6 -1.4l-0.5 -2.7l1.9 -1.3M600.4 502.2l-0.7 0.1M599.7 502.3l-1.1 -1.9l-2.4 -0.6l-1.1 -1.9l-0.9 -2.1l-2.1 -0.9l-1.1 -1.9l-1.3 -1.6l-1.8 -1.2M605.7 493.4l-2.2 -0.1l-1.8 -1.3l-2.2 0l-2.2 0l-1.6 -2.2l-2.1 -0.3l-2.4 0.7l-1.8 -1.3M589.4 488.9l-1.5 1.3M578.6 481.6l2.1 1.4l0.9 2.3l1.5 1.8l0.6 2.5l2.2 1.3M592.1 484.3l-1 2.5l-1.7 2.1M585.9 490.9l2 -0.7M584.7 492.5l1.2 -1.6M584.7 492.5l-0.7 3.2M599.7 502.3l-2 1.4l-1.6 1.9l-1.8 1.7M584 495.7l0.9 2.2l1.5 2l-0.3 2.6M594.3 507.3l-2.2 -1l-2.4 -0.5l-1.8 -1.7l-1.8 -1.6M605.6 550.2l0.8 -2.3l0.9 -2.3l-0.7 -2.6l0.6 -2.3M618.9 540.5l-1.4 -1.9M617.5 538.6l-2 0.6l-2.3 -0.7l-1.8 2l-2.3 -1.2l-1.9 1.4M593.5 550.8l-1.1 -1.9l0.6 -2.1l-1 -1.9l0.8 -2.1M594.9 540.1l-2.1 2.7M594.9 540.1l2.3 0.6l2.4 -1.5l2.4 1l2.3 -0.3l2.4 0.2M606.7 540.1l0.5 0.6M596.3 513.3l2.1 0.5l2.1 -1.4l2.1 1.2l2.1 0.4l2.1 -0.6M596.3 513.3l0.1 2.1l-0.1 2.1l-1.2 1.9l-1.1 1.9l0.5 2.2l-0.5 2M606.8 513.4l-0.8 2.3l1 2.1l0.2 2.2l0.4 2.3l-0.2 2.2M594 525.5l3 1.7M597 527.2l2 -1.1l2.1 0.1l2.1 0.8M603.2 527l1.9 -1.5l2.3 -1M607.5 507.8l-1.7 -1.5l-1.8 -1.4l-2 -1.1l-1.6 -1.6M608.1 510.9l-1.3 2.5M594.1 510.2l0.2 -2.9M594.1 510.2l2.2 3.1M594.9 540.1l-0.1 -2.2l1.6 -2l0.6 -2.1l-0.6 -2.3l1 -2.1l-0.4 -2.2M606.7 540.1l-0.9 -2.1l0.3 -2.4l-1.4 -2l-0.1 -2.3l-0.1 -2.3l-1.3 -2M628.5 518.4l-1.7 -2l-2.9 0.1l-1.7 -1.9M628.5 518.4l0.2 2.2l0.7 2.1l1.6 1.6l1 2M622.2 514.6l-0.9 2l-1.3 1.6l-2.3 0.8l-1 1.9l-1.4 1.5l-1 1.9l-1.9 1.2M631.9 526.6l0.1 -0.3M631.9 526.6l-1.8 1.1l-2.2 -0.2l-1.5 2l-2.2 0.1l-2.2 0l-1.7 1.4l-2.2 0M618.1 531l-1.9 -1.8l-1.9 -1.8l-1.9 -1.9M622.3 506.4l1.1 -2.1l2.4 -0.3l1.2 -1.9l1.9 -0.9M635.3 510.3l0 -2.1l-1.5 -1.8l0.7 -2.3l-1.2 -1.8M635.3 510.3l-1.7 1.4l-0.7 2.1l-1.4 1.6l-2 1.1l-1 1.9M628.9 501.2l2.2 0.6l2.2 0.5M621.1 512.1l1.1 2.5M607.4 524.5l2.7 -0.6l2.3 1.6M632.4 527.4l-0.5 -0.8M617.5 538.6l1.2 -2.4l0.2 -2.6l-0.8 -2.6M584.7 492.5l-2.1 0.1l-2 -1.4l-2.1 0.4l-2.1 0.6l-2.1 -0.3M584 495.7l-1.3 1.9l-2.8 -0.1l-0.7 2.6l-2.1 0.7l-1.4 1.7l-1.9 1M586 525.2l-1.7 2.7M586 525.2l-1.6 -1.4l0.4 -2.7l-1.2 -1.7l-2.7 -0.8l-0.2 -2.3M584.3 527.9l-2.4 0l-2 1.3l-2 0.9l-2.2 0.8l-1.8 1.6l-2.2 0.5M575.6 514.7l2 1.2l2.3 -0.2M580.7 516.3l-0.8 -0.6M592.8 542.8l-1.7 -1.4l-2.4 -0.2l-1.3 -2l-2.1 -0.6M585.3 538.6l0.2 -2.2l-0.9 -2.1l0.6 -2.2l-1.4 -2l0.5 -2.2M594 525.5l-2.7 0.1l-2.6 -1.1l-2.7 0.7M594.1 510.2l-2.1 0.5l-1.9 0.8l-1.8 1.3l-2 0.6l-2.2 0.2l-1.6 1.5l-1.8 1.2M581.9 540.8l-1.8 -1l-2.3 0.2l-2 -0.5l-1.3 -2.3l-2.1 -0.1M581.9 540.8l1.7 -1l1.7 -1.2M586.1 502.5l0 2.3l-2.1 1.4l-1.4 1.6l0.8 2.7l-2.6 1l-0.3 2.2l-0.6 2M510.5 452.8l-1.9 1l-1.8 1l-2.4 -0.6l-2 0.5l-1.8 1.1l-1.8 1.3l-2.1 -0.1M654.6 633.8l-1.4 -2.1l0.8 -2.7l-0.7 -2.2l-1 -2.3M653.9 636.6l-2.4 -0.2l-1.8 -1.5l-2.4 -0.1l-1.9 -1.3l-2.2 -0.6l-1.9 -1.4M652.3 624.5l-2 1.2l-2 -2.1l-2 1.6l-2.1 -0.7l-2 -0.2l-2 0.5M640.2 624.8l-0.3 2l-0.9 1.8M639 628.6l2.3 2.9M667.2 630.5l-2.1 0.5l-1.8 1.6l-2.2 0.1l-2.5 -0.6l-1.8 1.4l-2.2 0.3M652.7 624.1l-0.4 0.4M644.7 642.5l-1.1 -2.1l0.6 -2.5l-1.1 -2.1l-0.1 -2.4l-1.7 -1.9M638.2 621l1.6 1.6l0.4 2.2M638.2 621l0.8 -2.3l2.1 -1.1l1.4 -1.7l1.9 -1.2l0.7 -2.3l1.7 -1.4M632.4 634.3l2.2 -0.7l0.8 -2.5l1.7 -1.3l1.9 -1.2M679.2 610.8l1.5 1.7l2.3 0.3l1.9 1l1.4 1.9l2 0.8M692.4 603.4l0.7 3.1M693.1 606.5l-1.1 2l-0.1 2.4l-2.5 1.2l0.3 2.6l-1.4 1.8M689.9 622.1l0 0M688.3 616.5l0.2 3l1.4 2.6M773.9 587.3l0 2.4l-0.5 2.4l0.5 2.4l-1.4 2.3l0.8 2.5M760.9 588.2l0.6 2.2l-0.7 2.3l1.7 2.1l-0.6 2.3M773.3 599.3l-2.3 1.7M761.9 597.1l1.9 1.7l2.3 1l2.6 0.3l2.3 0.9M782.1 608.9l1.2 -2l-1.2 -2.2l0.5 -2M782.6 602.7l-2.5 -0.3l-2.1 -1.6l-2.6 0l-2.1 -1.5M771.7 610.3l-1.1 -2.3l-1.5 -2M769.1 606l0.3 -2.7l1.6 -2.3M875.2 490.5l1.6 -1.5l2.5 0.4l1.3 -2l2.3 0l1.3 -2l2 -0.5M875.2 490.5l2.3 1l0.7 2.3l1.2 1.9l2.3 0.9l1.3 1.8l1.6 1.5l0.7 2.4M885.3 502.3l2.5 -1.8l3 -0.1M890.8 500.4l0.1 -2.2l-1.3 -2.1l1.3 -2.3l-1.9 -2l0.8 -2.3l-0.1 -2.2M889.7 487.3l-2.2 -0.5l-1.3 -1.9M874.4 490.3l0.8 0.2M886.1 479.9l0.2 2.5l-0.1 2.5M881.5 508.3l0.5 -2.5l2.6 -1.2l0.7 -2.3M894.4 501.1l-3.6 -0.7M893.8 486.2l-2.1 0.4l-2 0.7M836.8 492.8l-2.1 -1.8l-2.3 -1.1M831.1 505.4l-2 -1.4l-1.5 -1.8l-0.3 -2.8l-2.9 -0.6l-0.7 -2.5M823.7 496.3l0.6 -2.2l-0.7 -2.1M823.6 492l2.1 -0.7l2.5 0.6l1.7 -2.4l2.5 0.4M842.4 477.2l-2.8 1l-2.5 1.6M837.1 479.8l-0.5 2.3l-0.8 2l-0.9 2.1l-1.9 1.5l-0.6 2.2M818.9 512.6l-2.2 -0.2l-1.7 -1.4l-1.8 -1l-2.3 0.2l-1.8 -0.9l-2 -0.8M818.9 512.6l-1 -2.3l2 -2.2l-0.1 -2.2l-1.4 -2.3l0.6 -2.2M819 501.4l-2.5 -0.7l-2.4 0.5l-2.3 0.7l-2.4 0.4M809.4 502.3l-1.8 3.3M807.6 505.6l-0.5 2.9M820.6 514.6l-1.7 -2M799.1 515.8l1.2 -2l1.7 -1.3l1.7 -1.3l2 -1l1.4 -1.7M818.1 520.9l-2.4 0.6l-2.5 -0.1M823.7 496.3l-1.1 2.1l-1.9 1.4l-1.7 1.6M793 501.9l2.3 -0.3l0.8 -2.5l2.2 -0.4M798.3 498.7l2 1.2l1.7 1.5l2 1.3l1.8 1.4l1.8 1.5M798.6 580.7l0.8 1.8M798.6 580.7l-2.3 -0.3l-2.1 0.9l-2.2 0.1l-2.1 1.1M799.4 582.5l0.4 2.4l-2.1 1.6l-1.1 1.9l-0.1 2.2l0.2 2.3l-1.4 1.8l0.2 2.3l-1 1.9M789.9 582.5l-1.2 1.8l-1.1 1.9l0 2.4l-0.9 2M786.7 590.6l1.2 1.9l2 1.3l0.3 2.4l1.1 1.9M791.3 598.1l3.2 0.8M800.3 574l-1.5 2l0.2 2.4l-0.4 2.3M808.4 587.6l-2.2 -0.3l-1.1 -2.3l-2.5 0.3l-0.9 -2.6l-2.3 -0.2M782.5 575.5l1.6 1.2l0.7 2.3l1.8 1l2.3 0.6l1 1.9M797.8 601.4l-2 -0.7l-1.3 -1.8M774.3 587l2.2 0.1l2 0.8l1.8 1.6l2.5 -0.8l1.8 1.3l2.1 0.6M782.6 602.7l2.3 -0.9l2.1 -1.4l2.5 -0.5l1.8 -1.8M748.9 563.6l-2.4 0.4l-1.9 1.2l-1.6 2l-2.3 0.6l-2 1.1l-2.2 0.8M739.7 553.7l-1 2.3l-3 0.3l-1.4 2l-1.4 1.9l-1.8 1.6M731.1 561.8l1.9 1.7l0.3 2.6l1.8 1.7l1.4 1.9M738.8 575.9l-2.4 -2.5M736.5 569.7l-0.1 3.7M742.9 586.2l-1.5 1.9l-2.1 1.3M750.8 587.5l0.2 2.4l0 2.3l0.7 2.4l-0.7 2.4M751 597l-1.7 1.7l-2.3 0.4l-1.9 1.1l-1.8 1.6l-2.4 0.1M740.9 601.9l-0.7 -2.2l0.2 -2.4l-1.5 -1.9l-0.8 -2.1M739.3 589.4l-0.9 1.9l-0.3 2M740.9 601.9l-0.8 2l-0.3 2.1M733.8 608.6l-1.2 -1.6l-0.2 -2.3l-1.7 -1.2l-1.3 -1.6l-0.3 -2.2l-1.2 -1.6l-1.8 -1.2M738.1 593.3l-1.8 1.5l-2.1 0.2l-1.9 0.8l-2.5 -0.9l-2 0.5l-1.7 1.5M820.6 531.5l2.3 1l1.8 1.5l2 1.3l1.1 2.5l2 1.2M820.6 531.5l-2 1.3l-1.8 1.6l-2.4 0.4M829.8 539l-2 1l-1.5 1.7l-1.7 1.4l-1.8 1.4l-1.4 1.8l-2.8 -0.1l-1.3 1.9M814.4 534.8l-2.1 1.3l0 2.6l-1.3 1.8M811 540.5l0.6 2.8l-0.7 2.8M810.9 546.1l1.8 1.3l2.1 0.3l2.1 0.5M816.9 548.2l0.4 -0.1M820.9 527.3l-0.6 2.1l0.3 2.1M831.8 539.3l-2 -0.3M809.2 529.4l2.4 1.1l0.7 2.8l2.1 1.5M830.9 554.3l-1.6 -1.6l-2.3 -0.2l-1.8 -1.1l-2.3 -0.2l-1.6 -1.5l-2.2 -0.4l-1.8 -1.2M797 531.5l2.1 0.6l1.6 1.3l1.6 1.3l1.8 1l2.1 0.7l1.1 2.1l2.2 0.5l1.5 1.5M805.9 549.6l2.2 -0.5l0.9 -2.2l1.9 -0.8M819.7 561.2l-1.2 -2l-0.7 -2.1l-0.4 -2.2l0.1 -2.3l-0.6 -2.1l0 -2.3M638 435.5l1.9 1.8l-0.2 2.7l2.2 1.6l0.3 2.5M638 435.5l-1.7 1.4l-0.8 2l-1.2 1.7l-1.9 1.1l-1 1.9l-1.8 1.3l-1.2 1.6l-0.7 2.1M636.3 452.2l-2.2 0.2l-2.1 0.2l-2.2 0.1M636.3 452.2l1.7 -1.7l2.2 -0.4M640.2 450.1l1.6 -1.7l-0.2 -2.3l0.6 -2M627.7 448.6l1 2l1.1 2.1M601.7 466.4l-0.2 -2.3l0.7 -2l1.9 -1.6l1 -1.9l0.6 -2.1l0.3 -2.1M601.7 466.4l0 0.2M614.4 469l-2.2 -0.7l-2.1 0.9l-2.1 -0.7l-2.1 1.2l-2.2 -0.9M614.4 469l0.4 -2.2l1.6 -1.9l-0.9 -2.5l1.3 -1.9l0.1 -2.3M616.9 458.2l-2.3 -0.8l-1.1 -2.1l-1.6 -1.5M606 454.4l3 -0.2l2.9 -0.4M584.8 430.4l1.9 -1.1l2.2 -0.5l1 -2.3l1.9 -1l2.4 -0.2l1.3 -1.9M595.5 423.4l2.4 0.8l0.5 2.7l2.1 1l1.8 1.4l2 1.2l1.1 2.1M599.9 442.4l0.1 0.1M605.4 432.6l-0.8 2.3l-1 2.2l-0.6 2.4l-1.9 1.7M600 442.5l1.1 -1.3M618.9 428.2l-2.3 0.5l-1.3 2.2l-2.2 0.5M618.9 428.2l2.3 0.5l1.8 1.8l2.1 0.9l2.5 0.2l1.9 1.4M613.1 431.4l0.5 2.4l2.6 1l1.4 1.8l0.9 2l1.6 1.7l0.3 2.5M629.5 433l-0.9 2.1l-2.2 0.9l-1 1.9l-1.5 1.5l-0.2 2.4l-1.7 1.3M622 443.1l-1.6 -0.3M610.5 419.7l1.6 -1.6l2.1 -1.2l0.8 -2.3M610.5 419.7l-0.9 2.2l0.9 2.2l0.1 2.3l0.4 2.2l-0.3 2.2M610.7 430.8l2.4 0.6M624.1 418.7l-1.8 1.5l-0.5 2.2l-0.8 2l-1.8 1.5l-0.3 2.3M624.1 418.7l-2.6 -0.3l-1.5 -2.7l-3.1 0.8l-1.9 -1.9M605.4 432.6l2.4 -1.8l2.9 0M616.4 445.6l-2.3 0l-2.2 -0.8l-2.2 -0.6l-1.9 -1.4l-2.5 0.2l-2.2 -0.5l-2 -1.3M616.4 445.6l2.5 -0.7l1.5 -2.1M638 435.5l-0.1 -1.1M637.9 434.4l-2.2 -1.3l-0.7 -2.4M635 430.7l-1.6 1.4l-2.2 -0.1l-1.7 1M627.7 448.6l-1.4 -2.4l-3.1 -0.6l-1.2 -2.5M616.9 458.2l2.2 -0.6l2.1 -1l2.2 0.1l2.4 1l2.1 -1.2M627.9 456.5l0.7 -2l1.2 -1.8M611.9 453.8l1.7 -1.7l1.3 -2l0.7 -2.3l0.8 -2.2M581.6 381.8l0.6 0.9M573.1 395.2l2.9 -0.6l2.6 -1.1M582.2 382.7l0.2 2.4l-0.8 2.2l-1.1 2l-1.9 1.8l0 2.4M650.5 475.4l2.5 1.3l2.3 1.7M650.5 475.4l0.4 -2l-0.2 -2.2l0.9 -1.9l0.7 -2l0.6 -2l0.1 -2.1l0.3 -2M661.7 475.1l-0.8 -2.4l0 -2.4l1.1 -2.4M662 467.9l-2.3 -0.6l-1.7 -1.4l-1.1 -2.2l-1.9 -1.2l-1.7 -1.3M640.2 450.1l1.7 1.9l2.6 0l2.3 0.4l1.4 2.5l2.3 0.5l2.2 0.9M642.2 444.1l2.3 0.6l1.7 -2.4l2.3 0.2l2.2 0.2l2.2 -0.1l1.9 -1.3M654.8 441.3l-0.9 2.2l1.6 2l-0.7 2.1l0.7 2.1l-1.1 2.2l0.6 2M655 453.9l-2.3 2.4M642.6 464.7l-0.5 -2l-0.9 -1.8l-0.7 -1.8l-1.7 -1.5l-0.4 -2l-1 -1.7l-1.1 -1.7M642.6 464.7l1.5 -1.8l2.8 0.4l1 -2.7l2.6 0.2l1.7 -1.5M652.7 456.3l-0.5 3M645 500.2l2.3 0.3l2.2 0.1l1.9 -2.4l2.4 1.1l2.1 -0.7M645 500.2l1 1.9l-0.6 2.1l-1 2l0.1 2.1l0.4 1.9l0.3 2l0.5 2M645.7 514.2l1.3 1.7M658 500.5l-1.2 1.8l-0.4 2.2l-1.9 1.3l-1.1 1.8l-1.9 1.2l-0.5 2.2l-1.9 1.2l-0.7 2.2l-1.3 1.6M658 500.5l-2.1 -1.9M647 515.9l0.1 0.1M655.7 489.1l-0.9 2.4l1.4 2.3l0.6 2.4l-0.9 2.4M654.1 486.5l-2.6 -0.7l-2.2 1.9l-2.5 -0.1l-2.5 0.2M641 498l2.1 1l1.9 1.2M641 498l0.1 -2.3l-0.3 -2.2l-0.3 -2.2M640.5 491.3l1.7 -2l2.1 -1.5M635.3 510.3l2.3 0.3l1.9 1.1l1.7 1.8l2 1l2.5 -0.3M633.3 502.3l2.4 -0.3l1.2 -2.3l2.3 -0.5l1.8 -1.2M632 526.3l1.2 -1.8l2.3 -0.2l1.4 -1.6l2.2 -0.3l1.3 -1.7l2.1 -0.5l1.4 -1.6l1.3 -1.7l1.8 -1M664.6 503.6l-2.4 -0.5l-1.6 -2.4l-2.6 -0.2M664.6 503.6l-1 2.1l0.9 2.2l0.1 2.1l0.1 2.1M651.2 519.2l-1.9 -1.8l-2.2 -1.4M664.7 503.5l0.7 -2l0.9 -1.9l1.1 -1.8l0.2 -2.2l1.1 -1.8l1.1 -1.9M664.7 503.5l-0.1 0.1M669.8 491.9l-1.8 -1.7l-0.8 -2.4M701 476.7l-2.4 1.3l-1.5 2.3M710.7 490.7l-1.9 1.7l-2.1 1.5l-2.7 0.3M697.1 480.3l1.5 1.8l1 2l1 1.9l0.6 2.2l1.3 1.9l0 2.4l1.5 1.7M669.8 491.9l2 -1.2l2.2 0.4l2.1 0.3M668.9 478.5l2.9 -0.1l2.6 -1.3M674.4 477.1l2.5 1l1.4 2.3M676.1 491.4l1.2 -2l-0.8 -2.5l0.8 -2.1l-0.1 -2.3l1.1 -2.1M687 468l-0.1 2.3l-0.4 2.4l0.8 2.3l-0.2 2.3l0.9 2.3l-0.3 2.3M687 468l1.7 -1.5l2.2 -0.2l1.9 -0.8M696 467.3l-3.2 -1.8M697.1 480.3l-3.1 0.3l-2.3 2.1M691.7 482.7l-2.8 0.1M687.7 481.9l1.2 0.9M687.1 573.4l1.3 -1.8l0.3 -2.4l1.4 -1.9l0.2 -2.4l1.5 -1.8M702.7 573.9l-0.2 -2.4l-1.7 -1.8l-1.7 -1.7l-0.1 -2.4l-0.7 -2.2M691.8 563.1l2.1 -1.1l2.3 0.2M698.3 563.4l-2.1 -1.2M747.9 489.2l-2.1 1.3l-1.1 2.4l-1.9 1.6l-2.1 1.3M747.9 489.2l0.4 -2.2l-1.1 -2.2l1.3 -2.3l-1.2 -2.1M747.3 480.4l-2.3 0.2l-2 -1.5l-2.1 -0.4l-2.2 -0.2M738.7 478.5l0 2.2l-1.3 1.7l-1.8 1.4l0.2 2.4l-1 1.8l-1.3 1.6l-0.4 2.1M733.1 491.7l2.4 0.1l1.5 1.7l1.3 2.2l2.4 0.1M760.5 491.1l-2.3 -0.2l-1.7 2.1l-2.1 0.3l-2.2 -0.3M751.7 477.8l-2 1.6l-2.4 1M752.2 493l-1.6 -2.5l-2.7 -1.3M737.8 477.6l0.9 0.9M727.9 493.3l2.4 -1.4l2.8 -0.2M725.9 497.3l2.1 1l0.5 2.5l1.2 1.8l1.7 1.4l1.8 1.3l1.7 1.2M734.9 506.5l1 -2.2l1.9 -1.3l1.7 -1.5l1.9 -1.3M741.4 500.2l-0.7 -2.2l0 -2.2M778.3 407.3l-1 -2l0.9 -2.5l-2.1 -1.8l0.2 -2.4M778.3 407.3l-1.3 1.8l-1.5 1.8l-1.1 2l-0.2 2.5l-1.7 1.6M776.3 398.6l-2.1 0.7l-2 0.9l-2 1l-1.4 2l-2.3 0.3l-1.8 1.2l-2.1 0.7M772.5 417l-2 0.9l-2.1 -0.1l-2 -1.6l-2 0.7M764.4 416.9l0 -2.3l-1.6 -2l0.3 -2.4l-0.3 -2.3l-0.2 -2.3M762.6 405.6l0 -0.2M783.1 409.6l-2.4 -1.2l-2.4 -1.1M774.5 418.2l-2 -1.2M763.5 418l0.9 -1.1M755.2 420.1l-2.1 -1.7l-2.2 -1.4M748.1 409.5l1.9 -1.3l2.1 -0.1l2.2 -0.2l2.2 0l1.8 -1.5l2.2 -0.3l2.1 -0.5M748.1 409.5l1.2 2.4l1.1 2.5l0.5 2.6M695 276.7l-2 1.3l-1.8 1.6l-2.5 0.7l-2 1.3l-1.5 2.1M702.8 282l-1.4 1.8l-2.3 0.6l-1.9 1.2l-1.5 1.6l-1.4 1.8l-1.8 1.3l-1.7 1.3M685.2 283.7l2.2 1.4l0.7 2.5l2.1 1.4l0.6 2.6M680 281.9l2.3 1.7l2.9 0.1M690.8 291.6l0.4 3.3M691.2 294.9l1.9 1.6l1.7 1.8M701.4 313.6l-2.4 0.2l-2.2 -0.7l-2.2 -0.4l-1.7 -2.3l-2.4 0.2M690.5 310.6l-0.3 -1.7M690.2 308.9l1.9 -1.7l0.2 -2.6l1.1 -2.1l1.5 -2M576.1 358.8l-1.8 -1.1l-1.3 -1.5l-0.6 -2.2l-2.1 -0.8l-1.5 -1.4l-1.1 -1.6l-1.2 -1.7M559.2 356.9l-0.7 -2.3l0.7 -2l1.1 -2M566.5 348.5l-1.9 1.2l-2.5 -0.4l-1.8 1.3M543.5 353.5l-0.2 -2.7M543.3 350.8l2.3 0.7l1.8 -2l2.2 0l2 -0.4l2.1 -0.3l2.3 0.7l2 -0.9M558 348.6l2.3 2M543.3 350.8l-1.8 -2.8M554.6 338.4l0.3 2.2l0.2 2.2l1.3 1.8l1.8 1.7l-0.2 2.3M554.6 338.4l-1.3 -1.9l-2.2 -0.2M551.1 336.3l-2.1 1.1l-0.6 2.3l-0.9 2l-1.1 1.9l-1.4 1.7l-1.9 1.2l-1.6 1.5M529.4 356.7l1.8 -1.2l2.2 -0.5l0.9 -2.4l2.2 -0.5l1 -2.2l2.6 -0.1l1.2 -1.8M541.3 348l0.2 0M681.7 425.8l2.1 0.4l2.1 0.5l2.3 0l2.2 -0.1l1.9 1.6M681.7 425.8l-1.4 1.8l-2.1 0.7l-2 0.6M677.5 441.9l-0.1 -2.2l-1.3 -2l-0.1 -2.2l1.3 -2.3l-1.9 -2l0.8 -2.3M677.5 441.9l1.7 -1.3l2.3 0.3l2.1 -0.3l1.7 -1.4l2.1 -0.3l2 -0.6M689.4 438.3l0.1 -2.2l1.1 -1.8l0.3 -2.2l-0.1 -2.2l1.5 -1.7M714.6 454.3l-1.3 -1.1M705.5 461.1l0 -2.5l1.5 -1.9M713.3 453.2l-1.6 2l-2.6 0.3l-2.1 1.2M750.9 417l-2.2 0.1l-1.7 1.9l-2.1 0.4l-2.4 -1.2l-2.2 0l-1.9 1.4M738.8 426.1l0.4 -2.2l-1.1 -2.1l0.3 -2.1M738.4 419.6l0 0.1M745.4 407.4l2.7 2.1M745.4 407.4l-2.2 0.3l-1.4 1.7l-1.6 1.5l-2.2 0.2M738.4 419.6l0.4 -2.1l0.4 -2.2l-1.9 -2l0.7 -2.2M745.4 407.4l0.8 -2.5l1 -2.5l-0.8 -2.7M746.4 399.7l-1.5 -1.9l-2 -0.7l-2.6 0.3l-2 -0.9l-1.6 -1.5M735 396.7l-0.4 2.1l-2.1 1.4l-0.2 2.1l-1.5 1.6l0.1 2.3M738 411.1l-1.2 -2.1l-2.7 0.2l-1.6 -1.4l-1.6 -1.6M720.2 394.1l-0.6 0.7M714.4 381.6l-1.5 2.3l-2.6 0.9l-2.3 1.1M719.6 394.8l-2.3 1.3l-2.4 -0.8l-2.3 1l-2.4 -0.6M710.2 395.7l-0.4 -0.3M709.8 395.4l-1.4 -2.2l-0.3 -2.4l0.7 -2.6l-0.8 -2.3M699.5 381.1l1.5 1.5M701 382.6l2 1.8l2.5 0.8l2.5 0.7M618.6 349.2l-0.2 -0.5M625.5 336.1l-2 -0.2l-2 0l-2 0.2M618.4 348.7l-0.6 -2.2l0 -2.1l1.5 -2l-0.4 -2.1l0 -2.1l0.6 -2.1M602.8 347.5l0.7 -2.1l2.1 -0.9M618.4 348.7l-2.2 -0.4l-2 -1.2l-2.4 0l-2.1 -0.5l-2.1 -0.9l-2 -1.2M617.6 309l1.1 1.8l0.3 2.3l1.4 1.7l1.3 1.8l1.7 1.5l0.3 2.3M617.6 309l2.1 1l2.2 -0.8l2.2 1l2.2 -1l2.2 -0.3l2.1 0.7M630.6 309.6l-0.1 2.2l0.7 2.1M625.8 319.8l-2.1 0.6M625.8 319.8l1.9 -1.7l1.4 -2.1l2 -1.7M631.1 314.3l0.1 -0.4M616.4 308l1.2 1M616.4 308l-1.6 1.7l-2.5 -0.8l-2 0.4l-1.3 2.4l-2.2 -0.2M606.8 311.5l0.1 2.5M606.9 314l1.7 1.2l1.6 1.3l1.8 1l1.6 1.2l1.8 1l2.3 0.1l1.5 1.4l1.9 0.8M621.1 322l2.6 -1.6M621.1 297.5l2.2 0l2.1 -0.8l2.2 0.3M621.1 297.5l-1.4 1.8l-0.2 2.5l-1.1 2l-1 2.1l-1 2.1M631.4 299.7l0.5 2.5l-0.7 2.4l-0.3 2.5l-0.3 2.5M635.3 332.5l-1 -2.1l-1.1 -1.9l-1.9 -1.4l-0.7 -2.4l-1.7 -1.5l-1.4 -1.8l-1.7 -1.6M621.1 322l-0.4 2.3l-1.3 1.9l-2 1.6l-0.7 2.1l-0.2 2.4M616.5 332.3l1.9 1.5l1.1 2.3M636.4 332.7l1.3 -1.6l1.4 -1.7l1.6 -1.3l2 -1M642.7 327.1l-2.1 -1l-0.9 -2.1l-0.7 -2.3l-2.8 -0.4l-1.3 -1.7l-0.4 -2.5l-1.8 -1.4l-1.6 -1.4M641.4 298.1l1.4 1.6l0.8 2l0 2.2l0.3 2.2l1.6 1.5l1 1.8M631.2 313.9l2.3 0.2l2.3 0.5l2.2 -1.5l2.3 0.4l2.3 0l2.2 0.1M646.5 309.4l-1.4 1.9l-0.3 2.3M592.1 321.9l2 0.9l2.1 0.3l2.1 0.3l2.1 -0.8l2.2 0M592.1 321.9l-1.5 1.1M590.6 323l-0.4 2.4l-0.5 2.4l-0.3 2.4M589.4 330.2l1.3 2l2.5 0.6l1.9 1.2l1.3 2.1M602.6 322.6l-0.1 2.2l0.9 1.8l2.3 1.3l-0.1 2.2l0.8 1.9M596.4 336.1l2.2 -0.3l2 -1.3l2.1 -0.8l2.3 -0.1M606.4 332l-1.4 1.6M591.4 313.1l0.1 2.2l0.7 2.2l0.3 2.2l-0.4 2.2M591.4 313.1l1.5 -2l2.8 0l2 -1.2l1.5 -2.2l2.5 -0.4M606.8 311.5l-1.6 -2.2l-1.7 -2.2M606.9 314l-1 2.2l-1.6 1.9l-1.1 2.2l-0.6 2.3M603.5 307.1l-1.8 0.2M616.5 332.3l-2 0.3l-2.1 0.3l-2 0.2l-2 -1.3l-2 0.2M592.6 343.3l1.7 -1.4l-0.2 -2.4l1.6 -1.5l0.7 -1.9M605.6 344.5l-1 -2.1l1.3 -2.3l-1.1 -2.1l-0.1 -2.2l0.3 -2.2M659 356.3l-1.9 1.9l-1.5 2.2l-1.8 1.9M659 356.3l-2.4 -0.6l-1.9 -1.3l-1.7 -1.4l-1 -2.6l-2.7 -0.1l-1.3 -2.1M653.8 362.3l-2 -0.7l-1.7 -1.2l-1.3 -1.8l-1.6 -1.2l-1.7 -1.3l-1.7 -1M648 348.2l-0.2 2.3l-1.3 1.5l-1.1 1.7l-1.6 1.4M648.3 344.6l1.8 1.3l2.3 -1.2l2 0.1l2 0.5l1.8 1.4l2.1 -0.1l1.8 1.1l2.1 0l2 0.2M648.3 344.6l0 0.1M666.4 348.4l-0.2 -0.5M648.3 344.7l-0.3 3.5M665.1 354.7l-2.1 0.4l-2 0.7l-2 0.5M648.3 344.7l-1.8 -1.1l-1.9 -0.9l-1.9 -0.9l-2 -0.6l-1.8 -1M640.6 356.9l3.2 -1.8M648.3 344.6l1.1 -2l1.3 -1.9l1.6 -1.8l1.5 -1.8l0.7 -2.3M666.2 347.9l-0.9 -2.3l-0.3 -2.3l-0.6 -2.3l0.9 -2.5l-0.3 -2.3M665 336.2l-1.6 -1.3M654.5 334.8l2.3 -0.9l2.2 1.4l2.2 -0.4l2.2 0M508.5 213.8l1.2 1.2M508.5 213.8l-2.2 -0.1l-2.1 -0.6l-2.2 1.1l-2.1 -1M509.7 215l-1.4 2.1l-0.5 2.3l-0.7 2.2l-1.2 2.1l0.1 2.5M497.4 225.7l2.1 0.1l2.1 1.1l2.2 -0.6l2.2 -0.1M523.4 201.4l0.1 2.2l-1.8 1.7l-0.4 2l1 2.4l-1.4 1.8l-0.4 2l-1.4 1.9l0.5 2.2M510.2 204l-0.3 2.5l-1.2 2.3l1.3 2.8l-1.5 2.2M519.6 217.6l-1.7 -1.5l-2.3 0.7l-2.1 -0.2l-2 -0.3l-1.8 -1.3M508.2 273.9l0.9 1.3M508.2 273.9l0.6 -2.1l0 -2.3l0.2 -2.2M509 267.3l3 -1.9M512 265.4l2.3 1.5l2.5 0.4l2.7 -0.3M518.2 280l-1.7 -1.2l-1.5 -1.5l-2.4 0l-1.7 -1.2l-1.8 -0.9M518.2 280l2 -1.4l1.1 -2.3l1.2 -2.1l2.3 -1.2M524.8 273l-1.5 -2.2l-1.8 -2l-2 -1.8M512 265.4l-0.1 -2.4l2.4 -1.5l0.3 -2.3l-0.4 -2.5l1.7 -1.7l0.4 -2.3M516.3 252.7l1.6 1.4l2.4 -0.3l1.3 1.8l2.3 -0.1l1.5 1.6l1.8 0.8l1.9 0.7M519.5 267l1.9 -1l1.5 -1.6l2.1 -0.8l0.2 -3l2.6 -0.3l1.3 -1.7M508.6 230.9l-2.1 -1.9l-0.5 -2.8M508.6 230.9l-1.6 1.4l-1.4 1.5l-0.5 2.2M505.1 236l-2.8 -0.4l-2.8 0.8M536.8 165.5l2.3 -0.3l1.5 2.1l2 0.6l2.3 -0.4l1.8 1.3M536.8 165.5l-0.3 -0.6M546.7 168.8l0.3 -2.6l2.8 -1l0.7 -2.4l1.2 -2.1M536.5 164.9l1.9 -1.7l2.4 0.3l2.1 -1l2.3 0.1l2.4 0.3l1.7 -2.2l2.4 0M555.1 154.3l-0.4 2.3l-0.7 2.1M544.2 145.6l0.2 2.2l-0.5 2.1l0.7 2.1l-0.6 2.2M544 154.2l1.8 1.3l2.2 0.5l2.3 0.3l1.5 1.9l2.2 0.5M622.1 264l0.2 -2.2l-1.7 -1.7l0.3 -2.3l-1.9 -1.6l-1.2 -1.8l-0.2 -2.2l-0.2 -2.1M626.5 247.6l-2.1 1.1l-2.3 -0.4l-2.2 -0.1M617.4 250.1l2.5 -1.9M616.8 268.6l-2.2 0l-1.5 -1.9l-2.5 0.6l-1.5 -2.1l-1.8 -1.2l-2.3 0.1M616.9 271.1l-2.4 0.2l-1.1 2.6l-2.5 -0.1l-1.7 1.6l-2.2 0.4M607 275.8l-1.1 -2l-0.7 -2.3l-1.8 -1.6l-1.3 -1.9M605 264.1l-1.2 2.2l-1.7 1.7M537.9 195.5l-1.6 -1.6l-1.9 -1.2l-1.6 -1.6l-2.5 -0.5l-1.3 -1.9M537.9 195.5l1.5 1.5l0.5 2M523.4 201.4l1.8 1.1l2.2 0.1l2.1 0.5l1.2 2.4l2.3 0M522 192.2l2.2 -1.5l1.8 -1.8M526 188.9l3 -0.2M539.9 199l-1.3 2.1l-2.4 0.8l-1.1 2.3l-2.1 1.3M618 154l-1.9 1.6l-2.2 0.5l-2.7 -1.4l-1.8 2l-2.3 0.1M618 154l-1.6 -1.7l-0.4 -2.2l-0.7 -2.1M615.3 148l-1.6 -1.2l-1.9 -0.8l-2 -0.5l-1.6 -1.4l-2.2 -0.1l-1.2 -2l-1.9 -0.7M607.1 156.8l-2.1 -1.1l-1.5 -1.9M603.5 153.8l-0.8 -2l0 -2.3l-1 -2l-0.6 -2.1M601.1 145.4l0.4 -2l1 -1.8M602.5 141.6l0.4 -0.3M618.2 154.1l-0.9 2l0.1 2.1l0.2 2.2l-1.3 2l0.9 2.2l-1.2 2l0 2.1M618.2 154.1l-0.2 -0.1M603.8 166.6l1.1 2.7l2.3 1.8M603.8 166.6l1.2 -1.7l0.5 -2.1l0.8 -1.9l0.8 -1.9l0 -2.2M607.2 171.1l2.3 -0.2l2.3 -0.2l2 -1.4l2.2 -0.6M629.2 152.9l-1 0.8M619.8 135.5l-1.6 1.8l0.1 2.4l-0.8 2l-0.3 2.3l-1 2l-0.9 2M628.2 153.7l-2 0l-2 -0.2l-2 -0.5l-2 0.6l-2 0.5M606.2 132.2l-1.6 2l0.6 2.8l-0.8 2.3l-1.5 2M591.2 159.8l0.8 1.9l0.4 2.1M591.2 159.8l1.9 -1.3l2.1 -1l2.5 0l1.6 -2l1.8 -1.5l2.4 -0.2M592.4 163.8l0.3 0.3M603.8 166.6l-2 -1.3l-2.2 -0.6l-2.4 0.2l-2.3 -0.2l-2.2 -0.6M593.6 139.3l-0.1 -2.3l-1.8 -1.8l-1.1 -2.1l-0.2 -2.3l-0.4 -2.3M593.6 139.3l2.1 0.9l2.4 0l2.4 -0.2l2 1.6M591.2 159.8l-1.8 -2.4M601.1 145.4l-1.7 1.5l-2.5 0.1l-1.9 1.3l-1.8 1.3l-1.1 2.5l-1.9 1.1l-2.5 0.2M587.7 153.4l0.5 2.2l1.2 1.8M592.4 163.8l-1.9 1l-2.5 0l-1.4 2l-1.7 1.7l-2.7 -0.6l-1.7 1.6M580.5 169.5l-2.8 -1.2l-2 -2.3M589.4 157.4l-1.7 1l-1.6 1.4l-2.1 0.4l-1.2 1.9l-1.4 1.5l-2.5 -0.2l-1.1 2.1l-2.1 0.5M628.2 153.7l-0.6 2.2l0 2.2l1.8 2.1l-0.5 2.2M620.6 171.5l-2.3 -1.3l-2.3 -1.5M620.6 171.5l2.1 -1.2l2.3 -0.6l1.7 -1.8M626.7 167.9l1 -2.8l1.2 -2.7M638.3 153.6l1.5 1.7l0.5 2.1l-0.1 2.4l0.8 1.9l1.1 1.9l0.7 2l1.5 1.7M644.3 167.3l-1 2.1l-2.4 0.5M628.9 162.4l2 0.6l1.3 1.8l2.3 0.1l1.6 1.3l1.3 1.7l1.3 1.7l2.2 0.3M654.8 164.6l-2.2 1.6l-2.4 1.4M650.2 167.6l0.2 2.3l0.3 2.3l0.7 2.2l0.6 2.3l0.8 2.1M656.6 154.2l-1.4 1.9l1.1 2.3l-0.6 2.1l-0.1 2.1l-0.8 2M644.3 167.3l2.9 1l3 -0.7M727.7 336l2.4 -0.3l1.8 -1.3l1.8 -1.1l1.7 -1.4l1.8 -1.3l1.6 -1.5M727.7 336l-0.7 2.1l0 2.2l1.1 2.2l-0.6 2.1M727.5 344.6l1.1 1.4M742.5 332.2l-1.1 1.9l-1.9 1.4l-0.4 2.3l-2 1.3l-1.6 1.5l-1.6 1.5l0.5 3.1l-2.2 1.1M732.2 346.3l-3.6 -0.3M730.4 321l-0.7 2.3l-0.8 2.3l-1.5 1.9l-1.7 1.8l-1.1 2.1M724.6 331.4l1.5 2.4l1.6 2.2M719.5 329l3 0.4l2.1 2M719.5 329l-0.7 2.5l-1.3 2.2l-2 1.7M715.5 335.4l-0.2 2.2l0.2 2.1l0.9 2.1l0.1 2.2M716.5 344l2.2 0.6l2.3 -1.3l2.2 0.9l2.2 -0.8l2.1 1.2M716.5 344l-2.9 0.9M713.6 344.9l-0.2 2.3l1.1 2.2l-0.3 2.3l1 2.2l0.9 2.1l-0.3 2.4M725.7 357l1.1 -2.1l1.1 -2.1l0.4 -2.2l0.3 -2.3l0 -2.3M740 348.3l-1.9 -1l-2.3 0.9l-1.7 -1.5l-1.9 -0.4M719.5 329l-2.2 -1l-0.4 -2.6l-1.3 -1.8l-1.8 -1.3M665 336.2l2.1 -1l2.3 -0.2l2.4 -0.1l2.1 -1l2.4 -0.2M663.4 334.9l0.4 -1.9l0.9 -2l-0.9 -2.1l0.6 -1.9l0.1 -2M664.5 325l1.9 -1l2.2 -0.2l1.5 -2.1l2.6 0.8l1.8 -1.3M674.5 321.2l-0.7 2.2l1.9 1.9l0.4 2.1l-0.7 2.2l0.9 2l0 2.1M677.3 346.9l0.2 -2.4l2.1 -1.7l0.5 -2.3l-0.3 -2.6l1.4 -1.9M681.2 336l-2.4 -1.3l-2.5 -1M689.9 403.6l-1.8 -1.8l0.1 -2.5l-1.7 -1.8l-1 -2.1l0.1 -2.6M689.9 403.6l2.3 -0.4l1.5 2.5l2.3 -0.2M696 405.5l0.6 -0.1M696.6 405.4l1.3 -1.9l0.4 -2.2l0.8 -2l0.5 -2.2M698.6 395.6l1 1.5M698.6 395.6l-2.3 -0.9l-2.5 -0.3l-1.6 -2l-2.6 -0.2l-1.8 -1.8M687.8 390.4l-1.9 1.7M685.9 392.1l-0.3 0.7M682.7 407.5l2 -0.7l1.3 -1.9l2.6 0.6l1.3 -1.9M677.6 400.4l0.4 -2.4M678 398l1.3 -2.2l2.5 -0.3l2.3 -0.7l1.5 -2M681.3 413.1l2.4 1.2l2.5 0.7l2.6 0.6M688.8 415.6l1.6 -1.4l1.3 -1.7l0.8 -1.9l0.8 -2l1.5 -1.4l1.2 -1.7M709.8 395.4l-2 0.6l-2 0.5l-2 0.8l-2 0.5l-2.2 -0.7M701 382.6l-0.9 2.1l-0.6 2.1l-0.6 2.2l-0.3 2.1l-0.3 2.2l0.3 2.3M690 383l0.2 2.7l-1.9 2.1l-0.5 2.6M673.6 384.8l0.4 -2.5l0.3 -2.5l1.8 -2l1 -2.3M673.6 384.8l1.9 0.8l1 2.2l2.4 0l1.7 1.2l2.1 0.5l1.6 1.2l1.6 1.4M670.4 404.8l-2 -1.1l-1 -1.8l0.4 -2.8l-2.6 -0.7l-0.4 -2.3M668.1 412.3l-1.6 -1.7l-2.1 -0.8l-2.2 -0.7l-2.1 -1l-1.2 -2.3l-2.4 -0.3M656.5 405.5l0.4 -3l-0.3 -3M656.6 399.5l1.9 -1.2l2.2 -0.4l2 -1l2.1 -0.8M678 398l-1.1 -1.9l-1.8 -1l-2 -0.7l-1.6 -1.3l-1 -2l-2.1 -0.8M664.8 396.1l0.7 -2.2l2.4 -1.2l0.5 -2.4M673.6 384.8l-1.2 2.1l-2.1 1l-1.9 1.2M668.4 390.3l0 -1.2M659.2 379.6l1.3 -2.1l2.3 -1l1.4 -1.9l2 -1.4M659.2 379.6l-1.6 -1.7l-0.1 -2.5l-2.3 -1.3l-0.2 -2.5l-2.3 -1.3l-0.2 -2.4M652.5 367.9l0.9 -1.3M653.4 366.6l2.1 -0.3l2 0.8l2 0.6l2 -0.1l2.1 -0.1M663.6 367.5l0.9 1.9l0.5 2l1.2 1.8M675.5 373.9l-2.3 -1l-2.4 1.2l-2.3 -0.8l-2.3 -0.1M658.5 382l1.5 1.3l1.4 1.6l2.3 0.3l1.3 1.8l2.1 0.5l1.3 1.6M658.5 382l0.7 -2.4M645.7 370.1l-2.1 -1l-0.6 -2.4l-1.8 -1.3M645.7 370.1l2.2 -0.8l2.3 -0.5l2.3 -0.9M653.8 362.3l-0.9 2.1l0.5 2.2M667.2 357.7l-1.3 1.8l0.6 2.4l-0.9 1.9l-0.7 2l-1.3 1.7M711.8 648.6l-0.2 -2.1l1.1 -2.1l-0.5 -2.1l-0.8 -2.2l0.9 -2M711.8 648.6l-1.9 1.1l-2.1 0l-2 -0.1M705.8 649.6l-1.1 -1.8l-1.6 -1.3l-2 -0.9l-1.1 -1.8M712.3 638.1l-2.3 0.3l-1.6 -1.3l-1.5 -1.8l-2.5 1.2l-1.6 -1.6M702.8 634.9l-0.8 2.2l-0.1 2.4l-0.4 2.3l-1.5 2M716 636.1l-2.1 0.4l-1.6 1.6M713.2 650.3l-1.4 -1.7M697.7 658.1l1.4 -1.9l2 -1.3l1.8 -1.5l0.6 -2.7l2.3 -1.1M692.1 649.4l2.2 -1l1.3 -2.5l3 0.2l1.4 -2.3M695.4 632.6l2.4 0.7l2.3 1.5l2.6 0.1M702.7 634.9l0.1 0M557.9 428.7l2.4 1l2.4 -0.9l2.4 -0.6l2.3 0.7M557.9 428.7l1 2.2l0.2 2.4l-0.8 2.5l1.4 2.1M567.4 428.9l2.1 1l1.1 1.6l-0.2 2.8l2.1 0.9M559.7 437.9l2 2l1.8 2.1M563.5 442l2.2 -0.4l2.2 0.2l2.1 -0.9M570 440.9l0.9 -1.9l1.5 -1.6l0.1 -2.2M576.3 419l0.2 0.9M557.7 428.5l0.2 0.2M576.5 419.9l-1.1 1.9l-1.8 1.2l-1.3 1.8l-2.5 0.5l-1 2l-1.4 1.6M545.1 432.8l1.1 2l1 2l0.8 2.1l1 2.1l0.8 2.1M549.8 443.1l2.3 -0.4l1.3 -2.5l2.5 0l2.1 -0.7l1.7 -1.6M583.8 430.4l-2 0.5l-1.8 0.9l-2.2 0l-1.8 1l-1.5 1.7l-2 0.7M583.8 430.4l-1 -1.9l-0.7 -2.1l-1.3 -1.7l-1.7 -1.5l-0.8 -2l-1.8 -1.3M568.7 455l-1.7 -1.3l-1.6 -1.4l-1.9 -1l-2.2 -0.4M572.8 443.3l-2.8 -2.4M561.3 450.9l-0.4 -2.4l2 -1.9l-0.4 -2.5l1 -2.1M582.9 444.5l-1.4 2.3M584.1 430.5l-0.3 -0.1M581.9 540.8l-1.1 1.8l1 2.3l-1.4 1.8l0.1 2.1l-0.7 1.9l-1 1.8M578.8 552.5l-1.9 -1.5l-2.6 1.1l-2.1 -0.7l-2.1 -0.8l-2 -1.2M583.3 554.7l-1.7 0.2M578.8 552.5l2.8 2.4M615.1 573.1l-1.6 1.3l-1.1 1.8l-2.7 -0.1l-0.4 2.7l-2.1 0.7M621.8 583.6l-2.2 0.8l-2.1 -1.9l-2.3 1.4l-2.1 -0.3l-2.2 -0.4l-2.2 -0.1M607.2 579.5l1.5 3.6M603.5 565.8l-0.7 2.6l-0.8 2.5l-1.7 2.1M607.2 579.5l-2 -1.3l-0.8 -2.7l-2.2 -1l-1.9 -1.5M623.6 585.1l-1.1 1.9l1.3 2.3l-1.6 1.8l0 2.1M636.3 595.3l-1.5 2.1l-2 1.1l-2.5 0.3l-2 1M628.3 599.8l-2.3 -1l-0.9 -2.1l-2.1 -1.2l-0.8 -2.3M705.5 611l-1.2 0.9M705.5 611l1.7 -1.1l2 -0.7l2.4 0.6l1.5 -1.7M704.3 611.9l-0.7 2l-0.1 2.3l-1.4 1.8M713.1 608.1l-0.4 2.1l-0.8 2.1l1.1 2.2l-0.1 2.2l0.3 2.1l-1.5 2.1l0.5 2.2M702.1 618l0.7 2.4l2.9 0.7l0.9 2.3M712.2 623.1l-2.9 -0.7l-2.7 1M699.4 598.2l0.2 2.2l1.2 1.6l0.7 1.9l0.7 2l1.3 1.6l0.7 1.9l1.3 1.6M693.1 606.5l2.2 0.2l1.1 2.5l1.8 0.9l2.3 0.1l1.8 1l2 0.7M715 599l0.2 2.1l-0.8 2l0.6 2.1l-0.7 2M715 599l-2.5 0.2l-2.2 -0.8l-1.6 -2.2l-2.4 -0.3l-2.2 -0.3l-2.1 -1.1M714.3 607.2l-1.2 0.9M689.9 622.1l1.8 -1.6l2.5 0.9l2.1 -0.5l2.1 -0.7l1.5 -2.2l2.2 0M714.3 624.1l-2.1 -1M714.3 607.2l1.1 2.1l1.9 1l1.9 1l2 0.9M702.7 634.9l1.2 -1.8l-0.7 -2.3l2.4 -1.4l-0.1 -2.1l0.1 -2.1l1 -1.8M752.9 599.1l2 0.3l2.1 -1.1l2 1.1M752.9 599.1l0.4 2.4l-0.2 2.4l-0.8 2.4M759 599.4l1.3 1.8l0.2 2l0 2l0.2 2.1l0.2 2M752.3 606.3l1.5 1.5l2.2 0.5l1.5 1.7l1.9 0.8M759.4 610.8l1.5 -1.5M751 597l1.9 2.1M761.9 597.1l-2.9 2.3M748.3 607.7l1.8 -1.2l2.2 -0.2M769.1 606l-2.1 0.7l-2.4 0l-1.4 2.5l-2.3 0.1M758.7 617l-0.5 -2.2l1.4 -1.9l-0.2 -2.1M823.6 492l-1 -1M837.1 479.8l-2 -0.5l-1.7 -1.4l-2.4 0.7l-1.6 -1.8l-1.9 -0.9l-1.9 -0.7l-2.3 0.4M822.6 491l-0.4 -2.2l1.2 -2.2l-0.7 -2.2l0.2 -2.2l-0.1 -2.2l-0.2 -2.3l0.7 -2.1M728.2 584.7l-2.4 -0.9l-2.3 0.9l-2.3 1.1l-2.4 -1.1l-2.3 0.6M728.2 584.7l0.4 0.9M728.6 585.6l-0.5 2.2l-0.6 2.2l-1.6 1.9l-0.7 2.2l0 2.4M716.1 586.4l0.4 -1.1M716.1 586.4l1 2.2l-1.1 2.2l0.9 2.2l-0.1 2.2l-0.3 2.2M716.5 597.4l2.1 -0.7l2.2 0.5l2.2 -0.3l2.2 -0.4M729.2 577.7l1.3 -2l2 -0.7l2.1 -0.6l1.8 -1M729.2 577.7l-0.6 2.3l0.8 2.5l-1.2 2.2M739.3 589.4l-2.1 -0.8l-2.3 -0.2l-2.2 -0.8l-1.6 -2.1l-2.5 0.1M726.1 596.9l-0.9 -0.4M715 599l1.5 -1.6M702.4 585.4l2.2 1.2l2.3 -0.6l2.3 0.3l2.4 -0.9l2.2 1l2.3 0M761.6 390.1l-0.5 -2.4l-2.4 -1.1l-1.8 -1.6l-0.5 -2.4M761.6 390.1l-0.7 2.2l-0.4 2.4l-0.9 2.1l-1.4 1.9M750.3 397.7l2.7 -0.1l2.6 0.1l2.6 1M750.3 397.7l-0.1 -2.2l-1 -2.1l0.8 -2.3l-1.2 -2.1l0.6 -2.3l-0.3 -2.3l-0.5 -2.1M756.4 382.6l-1.9 -1.4l-2.5 0.8l-2 -1.2M748.6 382.3l1.4 -1.5M769.4 389.1l-2.6 0.5l-2.7 -0.4l-2.5 0.9M764.4 376.9l-2.2 1.1l-1.3 2.5l-2.7 0.4l-1.8 1.7M762.6 405.4l-2.1 -1.8l-0.6 -2.8l-1.7 -2.1M746.4 399.7l1.7 -1.4l2.2 -0.6M736.3 386.6l2.1 -0.7l1.8 -1.4l2.4 0.2l2.1 -0.4l1.7 -1.7l2.2 -0.3M749.2 375l1.3 2.8l-0.5 3M635 430.7l0.2 -1.8M624.1 418.7l3 -0.2l2.7 -1.2M635.2 428.9l-0.2 -2.2l-1.8 -1.6l-1.2 -1.7l0.3 -2.6l-1.8 -1.5l-0.7 -2M600 444.6l1.3 2.7l1.1 2.7M600 444.6l-1 2.1l-2.3 0.5l-2.2 0.6l-0.4 2.9l-2 0.8l-2.2 0.7l-1.7 1.3l-1.3 1.7M602.4 450l-1 1.9l-1.4 1.4l-1.9 0.9l-1.5 1.4l-1.5 1.3l-2 0.7M586.9 455.2l1.8 1.5l2.1 0.7l2.3 0.2M606 454.4l-1.8 -2.2l-1.8 -2.2M600 442.5l0 2.1M583.5 455.4l3.4 -0.2M601.7 466.4l-0.8 -2.1l-1.9 -1l-1.6 -1.3l-1 -1.9l-1.4 -1.4l-1.9 -1.1M557.7 462.1l-2.3 0.6l-1.9 1.2l-2.4 0.5l-1.8 1.5l-2 1.3l-2.2 0.6M557.7 462.1l-1.1 -2l-0.7 -2l1.2 -2.5l-1.3 -1.9M561.5 466.4l-2.3 -1.8l-1.5 -2.5M561.3 450.9l-2.2 0.3l-1.6 1.3l-1.7 1.2M549.8 443.1l-1.7 1.7l0.3 2.5l-1.4 1.9l0 2.3M591.2 367.8l0.4 2.1l1.6 1.7l0.9 1.9l-0.3 2.4l0.7 2.1l1.4 1.7M582.2 382.7l2.4 0.7l2.6 -1.1l2.4 0.2l2.3 1.2M591.9 383.7l2.4 -1.6l1.6 -2.4M603.7 368.2l-1 2.1l0.4 2.1l1.3 2.1l-1.7 2.1l0.9 2.1M595.9 379.7l2.6 0.1l2.5 -1.2l2.6 0.1M617.4 382.3l-0.5 0.5M616.9 382.8l-2.1 -0.6l-2.4 1.1l-2.2 -0.9l-2.1 -0.8M603.6 378.7l2.5 1.1l2 1.8M607.3 405.5l-1.8 -1.5l0.3 -2.3l-1.8 -1.4l0.1 -2.3M607.3 405.5l2.7 0.7l2.8 0.6M604.1 398l1 -2.1l2.9 0.6l0.8 -2.4l2.4 -0.2l0.7 -2.6l1.8 -1l2 -0.7M612.8 406.8l1.6 -1.8l1.8 -1.5l2.3 -1M618.5 402.5l-0.1 -2.2l-0.5 -2.2l-0.5 -2.2l-1.4 -1.9l0.9 -2.4l-1.2 -2M616.9 382.8l0.2 1.6M617.1 384.4l-1 2.5l-0.4 2.7M599.3 394.9l0.6 -2.3l1.2 -1.9l1.2 -2l1.5 -1.8l2.2 -1.2l0.4 -2.5l1.7 -1.6M599.3 394.9l2 2.2l2.8 0.9M615 414.6l0.2 -2.1l-1.1 -1.8l-0.8 -1.9l-0.5 -2M627.8 403.4l1.6 1.4l1.1 1.7l1 1.9M627.8 403.4l-2.2 -1.3l-2.5 1.7l-2.2 -2.2l-2.4 0.9M631.5 408.4l0.4 2.4l-0.7 2.3l-0.4 2.3M629.8 417.3l1 -1.9M617.1 384.4l0.8 2.3l2.9 0.1l1.8 1.3l0.3 2.9l2.7 0.4l1.2 1.9l1.7 1.4l1.3 1.8M629.8 396.5l0.2 2.5l-0.7 2.3l-1.5 2.1M610.5 419.7l-2 -1.5l-2.5 0l-2 -1.6l-2.9 1.1l-2 -1.6M607.3 405.5l-1.3 1.9l-1.6 1.4l-2.2 0.7M602.2 409.5l-0.9 2.3l-1.7 1.9l-0.5 2.4M595.5 423.4l0.3 -2.6l0.4 -2.5M596.2 418.3l2.9 -2.2M583.6 413.6l2.5 -0.7l2.5 -0.4M596.2 418.3l-2.5 -0.7l-1.4 -2.1l-1.6 -1.8l-2.1 -1.2M583.6 400.8l-0.5 -3.6M583.6 400.8l1.1 1.9l2 1l1.6 1.4l1.3 1.6M583.1 397.2l2.2 -0.2l1.8 -1.4l2.1 -0.7l2.1 -0.6l2.1 -0.1l2.3 0.2M589.6 406.7l2.5 -0.8l1.6 -2.1M593.7 403.8l0 -2.4l1.1 -2.2l-0.3 -2.5l1.5 -2M595.7 394.4l0.3 0.3M580.2 405.5l1.5 -2.5l1.9 -2.2M578.6 393.5l2.3 1.8l2.2 1.9M588.6 412.5l-0.2 -3l1.2 -2.8M591.9 383.7l0.4 2.3l1.9 1.7l0.7 2.2l0.7 2.1l0.1 2.4M602.2 409.5l-2.3 -0.3l-1.1 -2.1l-1.9 -0.7l-1.1 -2.1l-2.1 -0.5M599.3 394.9l-3.3 -0.2M668.8 414.2l-0.2 2.4l-1.6 1.8M681.7 425.8l0.5 -2.5l-1.3 -2.2l0.6 -2.5l-1.5 -2.1l-0.2 -2.4M676.2 428.9l-2.5 -0.3l-1.7 -1.8l-2.5 -0.1l-1.8 -1.8M667 418.4l0.7 2.1l0.4 2.2l-0.4 2.2M664.7 503.5l2.2 0.1l2.3 -0.9l2.2 0.1l2.3 0l2.2 0.7l2.3 -0.5l2.2 0.2M668.7 516.6l2.5 0.3l2.5 -0.6l2.5 -0.1l2.3 -1M680.4 503.2l-0.7 1.9l0 2.1l0.8 2.1l-2.1 1.7l-0.1 2.1l0.2 2.1M716.7 511.4l-0.4 -2.3l1.8 -1.7l0.9 -1.8l-0.9 -2.5l1.4 -1.7M716.7 511.4l-2.1 -0.4l-2.1 -0.2l-2.2 0l-2 -0.5l-2 -0.8M719.5 501.4l0 -0.3M719.5 501.1l-2.3 0.5l-2.2 0.6l-2.3 -0.6l-2.4 -0.3l-2.2 0.4l-2.2 1.2M705.9 502.9l0.9 2.2l-0.3 2.2l-0.2 2.2M719.6 500.8l-0.1 0.3M704 494.2l-2.3 2.7M705.9 502.9l-1.8 -1.7l-1.5 -1.9l-0.9 -2.4M691.7 482.7l0.2 2.2l2.4 1.1l0.6 2l1.2 1.6l0.4 2.1l1.4 1.6l-0.3 2.4l1.1 1.8M701.7 496.9l-3 0.6M705.8 576.4l2.4 0.3l2.2 -1.3l2.1 -1.2l2.5 0.4M698.3 563.4l2.2 0.6l2.1 -1.3l2.2 0.9l2.1 -0.7l2.2 -0.3l2.2 0.2M711.3 562.8l-0.3 2.2l0.6 2l0.8 1.9l1.2 1.8l0.4 2l1 1.9M731.1 561.8l-3.5 -1M729.2 577.7l-1.8 -1.5l-2.7 0.9l-1.9 -1.3l-2.2 -0.4l-1.8 -1.5M718.8 573.9l1 -2l1.7 -1.6l1 -2l1.7 -1.6l1.6 -1.6l0.4 -2.5l1.4 -1.8M716.5 585.3l-0.3 -2.1l0.1 -2.1l0.6 -2.2l-0.6 -2l-0.9 -2.1M718.8 573.9l-3.4 0.9M715 574.6l0.4 0.2M695.5 537l-1 -1.9l-1.2 -1.7l-1.4 -1.5l-1.4 -1.4l-2.2 -0.8M695.5 537l-1.8 1.6l-2.2 1.1M682.2 536.5l2 1.8l2.7 -0.3l2.4 0.5l2.2 1.2M682.2 536.5l0.8 -2.1l0.1 -2.3l0.3 -2.2M688.3 529.7l-2.4 -0.8l-2.5 1M671.3 528.2l2.4 0.3l2.4 -0.8l2.5 0.5l2.3 -1M669.6 533.5l1.8 0.9l2.3 -0.2l1.5 1.5l2.1 0.4l1.2 2.2l2.1 0.1M682.2 536.5l-1.6 1.9M683.4 529.9l-2.5 -2.7M678.5 515.2l2 1.7l2.1 1.5M680.9 527.2l0.8 -2.1l-0.6 -2.4l1.5 -2l0 -2.3M700.6 550.3l2.4 -1.8l1.8 -2.4M700.6 550.3l-1.5 1.7l0.3 2.4l-0.8 1.9l-1.7 1.7l0.4 2.4l-1.1 1.8M704.8 546.1l2 1.9l2.9 -0.6l2.2 1.2M711.3 562.8l1.1 -2l1.3 -1.8l1.3 -1.8M711.9 548.6l1.1 2l0.7 2.2l0.7 2.2l0.6 2.2M727.6 560.8l-1 -1M726.6 559.8l-2.5 0.2l-1.9 -2.3l-2.7 0.9l-2.3 -0.3l-2.2 -1.1M750.1 535l0.1 -2.3l-0.7 -2.2M763.2 532.5l-1.3 -1.9l0.5 -2.5l-1 -2l-1.7 -1.7l-0.2 -2.3l-1 -2M749.5 530.5l0.9 -2.3l1.7 -1.5l1.5 -1.8l1.3 -1.8l1.6 -1.6l2 -1.4M719.5 501.4l1.8 1.3l1.7 1.4l2.1 1.1l1.6 1.6l0.2 3l2.7 0.5l1.2 2l1.8 1.3M734.9 506.5l0.6 2.3l-1.5 2.1l0.5 2.2M732.6 513.6l1.9 -0.5M718.3 515.4l1.3 1.8l2.2 0.3l1.9 0.7M718.3 515.4l-0.8 -2l-0.8 -2M732.6 513.6l-2.5 0.8l-1.5 2.4l-2.2 1.2l-2.7 0.2M718.3 515.4l-1.2 2.2l-2.3 0.6l-2 1.1l-1.8 1.4l-1.4 1.8M709.6 522.5l0.5 2l1.6 1.8l-1 2.4l1.2 1.9M716.2 531.8l-2.3 -0.1l-2 -1.1M716.2 531.8l1 -2l2.6 0.1l0.7 -2.5l2.9 0.5l1.1 -2M723.7 518.2l0.7 2.5l-0.7 2.7l0.8 2.5M752.8 500.2l-2 0.7l-1.3 2l-2.2 0.3M752.8 500.2l2.8 0.1l1.4 2.9l2.7 0.2M747.3 503.2l0 2.1l-0.8 2.1l0.6 2.1l0.9 2.1l-0.1 2.1M747.9 513.7l2 -0.2l2.1 -0.2l1.9 1.2l2 0.6l2.1 -1l2 0.7M759.7 503.4l-0.1 2.2l1.4 1.8l0 2.1l0.7 2l0.6 2M762.3 513.5l-2.3 1.3M752.2 493l0.8 2.4l-0.5 2.4l0.3 2.4M741.4 500.2l1.9 1.2l2.3 0.3l1.7 1.5M761.1 501.4l-1.4 2M771.2 514.9l-2.1 -1.1l-2.4 0.9l-2 -1.7l-2.4 0.5M758.5 520.1l0.6 -2.7l0.9 -2.6M681.1 305.3l-0.7 -2l1.4 -2.2l-1 -2M681.1 305.3l-1.2 1.6l-0.7 2.1l-2 1l-1.5 1.4l-1 1.8M668.1 296.8l2.2 1.2l2.4 -0.8l2.4 0.2l2.1 1.7l2.4 -0.7M668.1 296.8l0.7 2.1l-0.5 2.2l-1.1 2.2l0.1 2.1l1.4 2.2l-0.4 2.2M679.6 298.4l1.2 0.7M668.3 309.8l2.2 0.9l2.3 1l1.9 1.5M691.2 294.9l-1.7 1.8l-2.7 -0.7l-2.2 0.5l-1.7 1.8l-2.1 0.8M690.2 308.9l-2.4 -0.7l-2.4 -0.6l-1.9 -1.6l-2.4 -0.7M690.5 310.6l-0.9 2.2l-1.4 2.1l-0.1 2.6l-1.4 2.1M676.7 317.3l1.9 0.9l2 0.4l2.3 -0.8l2 0.5l1.8 1.3M676.7 317.3l-1.1 -2l-0.9 -2.1M667.6 296.1l0.5 0.7M679.4 281.9l-0.1 2l0.4 2.1l-1 2.1l1 2l0.3 2.1l-1.3 2.1l0.4 2l0.5 2.1M569.2 328.5l-1.7 1.5l0 2.2l-0.5 1.9M569.2 328.5l2.1 0.4l1.8 1.5l1.8 1.3l2.5 -0.5l1.9 1.1M567 334.1l0 2.7l1.7 2l1.4 2.2l-0.2 2.7M569.9 343.7l2.4 -0.3l2.3 0.7l2.4 0.2l2.3 0.5l2.4 -0.7M582.5 343.2l-0.8 0.9M582.5 343.2l-0.1 -2.1l0.9 -2.2l-0.9 -2.1l-0.2 -2.1M582.2 334.7l-2.9 -2.4M566.5 348.5l1.2 -2.7l2.2 -2.1M554.6 338.4l2.1 -0.5l2 -0.9l2.4 0l1.7 -1.7l2.3 0l1.9 -1.2M581.7 354.7l-0.9 -2.1l1.2 -2.1l0.5 -2.2l-0.1 -2.1l-0.7 -2.1M592 343.7l-2.4 0.3l-2.3 -1.4l-2.4 1l-2.4 -0.4M589.4 330.2l-2.4 0.2l-1.5 1.6l-2 0.8l-1.3 1.9M583.4 321.2l2.5 0.4l2.4 0.7l2.3 0.7M583.4 321.2l0.2 2.6l-2.5 1.6l0.7 2.8l-0.7 2.3l-1.8 1.8M578.9 318.1l1.1 -2.1l-1.1 -2.3l0.5 -2.1M578.9 318.1l-1.6 1.8l-2.9 0.1l-0.7 3.1l-2 1.3l-2.5 0.5M569.2 324.9l0.3 -2.1l-0.8 -2l1.1 -2.1l-0.2 -2.1l-0.2 -2l-0.4 -2.1l-0.2 -2l-0.7 -2.1M579.4 311.6l-1.6 -1.8l-2.4 -0.3l-2 -0.9l-1.8 -1.5M571.6 307.1l-3.5 1.3M591.4 313.1l-1.9 -0.9l-1.9 -0.8l-1.5 -1.4l-1.3 -1.7M583.4 321.2l-2.1 -1.7l-2.4 -1.4M584.8 308.3l-1.3 2l-2.5 -0.1l-1.6 1.4M568.5 326l0.7 -1.1M568.5 326l0.7 2.5M523.4 345.4l0.3 -0.5M541.3 348l-1.9 -1.1l-1.5 -1.5l-1.7 -1.4M536.2 344l-2.1 -0.4l-2 1.7l-2.2 -1.7l-2 1.1l-2.1 1l-2.1 -0.8M518.9 331.5l0.6 2.6l2.3 1.7l1 2.4M523.7 344.9l0.6 -2.4l-0.5 -2.2l-1 -2.1M536.2 344l1.2 -1.8l0.4 -2l-1.3 -2.3l1.8 -1.8l-0.5 -2.1M522.8 338.2l2.1 -0.5l2 -0.8l1.6 -1.5l1.2 -2.1l2.7 0.6l1.5 -1.7M533.9 332.2l2.4 0l1.5 1.8M520.6 326.5l2.2 -0.7l1.8 -1.4l1.5 -1.7M520.6 326.5l-2 -0.9l-0.8 -2.1l-0.9 -2.1l-1.4 -1.5l-2.5 -0.4l-1.1 -1.9M526.1 322.7l-0.8 -2l-2.2 -1l0 -2.6l-1.2 -1.7l-1.7 -1.3l-1.7 -1.4l-1.1 -1.8l-0.7 -2.1M511.9 317.6l-1.4 -2.5M511 310.7l2.1 -1.5M513.1 309.2l3.6 -0.4M518.9 331.5l1.8 -2.2l-0.1 -2.8M533.9 332.2l0.1 -2.5l-2.3 -1.5l0.1 -2.5l-0.9 -2.1l-1.6 -1.8M529.3 321.8l-3.2 0.9M507.2 332.8l0 -2.4l1.8 -1.8l0.4 -2.3l-0.1 -2.4l1.4 -1.9l-0.3 -2.5l1.5 -1.9M614.4 469l2.2 0.4l1 2.1M627.9 456.5l-0.3 2.1l0.4 2.1l0.9 2M617.6 471.5l1.5 -1.5l1.4 -1.6l1.7 -1l2.5 -0.2l0.8 -2.3l1.6 -1.3l1.8 -0.9M607.4 484l1.8 -1l0.6 -2.5l1.6 -1.3l2.8 0.1l0.8 -2.2l1.6 -1.3M607.4 484l0.9 2.3l0.7 2.4l1.6 2M616.6 475.8l1.4 1.8l-1.1 2.4l0.5 1.9l1.1 1.8l1 1.8l-0.2 2.2l1.2 1.8M610.6 490.7l2.7 1.1M613.3 491.8l2.4 -0.8l2.3 -1l2.5 -0.5M602.9 480.1l1.6 1.2l0.7 2.2l2.2 0.5M617.6 471.5l0.2 0.4M617.8 471.9l-0.7 2l-0.5 1.9M605.7 493.4l2 -2.1l2.9 -0.6M614.1 499.8l-0.6 -2l0 -2l0.9 -2.1l-1.1 -1.9M628.9 501.2l0.2 -2.4l-0.9 -1.9l-1.6 -1.6l-1.6 -1.7l-0.8 -1.9l-0.2 -2.2M624 489.5l-3.5 0M636.4 390.7l0.3 -2.1l1.3 -1.9l0.5 -2l-0.4 -2.4l1.6 -1.8M636.4 390.7l0 0.2M636.4 390.9l2 1.2l1.3 2.2l2.2 0.9l1.9 1.3M642.9 379.3l-3.2 1.2M642.9 379.3l2.1 0.9l2.1 1l1.7 1.6l2.3 0.6l1.9 1.4M653 384.8l0.4 2.5l-1.2 2.3l-0.8 2.3l-0.1 2.5M643.8 396.5l2.6 -0.2l2.5 -0.8l2.4 -1.1M630.7 376l2.2 0.2l1.6 1.1l1.3 1.9l2.4 -0.1l1.5 1.4M620.1 381.6l1.4 1.7l2.5 -0.1l1.1 2.1l1.9 1.1l2.4 -0.2l1.7 1.3l2 0.7l1.2 2l2.1 0.5M629.8 396.5l1.7 -1.4l1.3 -1.8l1.3 -1.8l2.3 -0.6M641.4 404.8l-2.2 0.1l-1.5 2l-2.1 0.5l-2.4 -0.5l-1.7 1.5M641.4 404.8l1.5 -1.8l-0.1 -2.3l0.6 -2l0.4 -2.2M645.7 370.1l-0.7 2.3l-0.1 2.5l-1.1 2.2l-0.9 2.2M658.5 382l-1.6 1.4l-2.2 0.3l-1.7 1.1M656.6 399.5l-1.2 -2.4l-1.8 -1.6l-2.3 -1.1M688.8 415.6l1.9 1.8l0.5 2.9l2.1 1.6M696.6 405.4l1.7 1.6l2 1.3l1.5 1.8M693.3 421.9l0.9 -1.9l1.9 -1.2l0.5 -2.2l0.9 -1.9l1.4 -1.5l2.1 -1.1l0.8 -2M713.3 449.6l-1.7 -2.2l-1 -2.6M713.3 449.6l1.6 -1.3l1.7 -1.2l1.6 -1.3l2.6 0.3l0.9 -2.4l2.2 -0.3l1.3 -1.7l2.1 -0.6M710.6 444.8l1 -1.9l0.5 -1.9l-0.2 -2.1l0.9 -1.9l0.4 -2l-0.2 -2.1M713 432.9l2.1 0.8l2 -2l2.1 0.2l2.1 0.6l2.1 0.3l2.1 -0.6M727.6 440.6l-0.3 0.5M727.6 440.6l-1.1 -1.8l0.4 -2.1l-0.7 -1.9l0.1 -2.1M726.3 432.7l-0.8 -0.5M728.5 452.2l0.3 -2.3l-1.6 -2.1l0.8 -2.3l0 -2.2l-0.7 -2.2M713.3 453.2l0 -3.6M737.7 444.1l-2.2 -0.3l-1.7 -1.7l-2.3 0.2l-1.7 -1.5l-2.2 -0.2M737.4 428.6l-2 1.6l-2.4 0.3l-2.2 0.8l-2.4 0.5l-2.1 0.9M738.4 419.7l-2.1 -1l-2.3 1.3l-2 -2l-2.4 1.5l-2 -1.8l-2.3 1.4l-2.1 -1M723.2 418.1l1.3 1.8l-0.2 2.1l0.3 2l-0.8 2.3l1.5 1.8l-0.2 2.1l0.4 2M701.2 441.8l-2.5 0.4l-2.4 0.6l-2.3 0.8M701.2 441.8l2.5 0.1l1.7 1.9M705.4 443.8l-1.1 1.8l-2 1l-1.1 1.9l-0.3 2.4l-2.3 0.8l-1 1.9M694 443.6l-0.2 2.4l0.9 2.4l-1.7 2.3l0.5 2.5M693.5 453.2l2 0l2.1 0.4M707 456.7l-2.6 0l-1.9 -2.1l-2.4 -0.9l-2.5 -0.1M710.6 444.8l-2.6 -0.3l-2.6 -0.7M692.4 454.1l1.1 -0.9M692.4 454.1l-0.2 2.3l1.2 2.3l0.3 2.2l-1.2 2.4l0.3 2.2M723.4 406.1l-2.2 0.3l-2.2 -0.2l-2.1 -1l-2.2 -0.1l-2.1 -1.3l-2.3 0.4M723.4 406.1l1.5 1.8M724.9 407.9l0.1 2.3l-1.3 1.8l-0.4 2.1l-1.8 1.5M710.3 404.2l-1.2 1.8l-1 1.9l-0.9 1.9M707.2 409.8l2.3 0.3l1.8 1.3l1.8 1.3l1.7 1.4l2.4 0l2.1 0.6l1.9 1M721.5 415.6l-0.3 0.1M719.6 394.8l1.5 2l0.5 2.4l0.1 2.5l0.3 2.3l1.4 2.1M710.2 395.7l0.5 2.1l-0.1 2.1l-0.1 2.2l-0.2 2.1M730.9 406.2l-2 0.5l-1.7 1.5l-2.3 -0.3M723.2 418.1l-1.7 -2.5M701.8 410.1l3.1 0.8M704.9 410.9l2.3 -1.1M607 275.8l0.5 2.6l-1.4 2.4l0.4 2.6M598.5 282.3l-1.4 -2.3l-1.3 -2.3M598.5 282.3l2 1l2.2 0.7l2 0.9M595.8 277.7l0.1 -2.4l0.7 -2.2l1.2 -2.1M602.1 268l-2.5 1l-1.8 2M604.7 284.9l1.8 -1.5M621.1 297.5l-3 -0.3l-2.1 -2.1M604.8 297.6l-0.1 2.4l-1.1 2.3l-0.8 2.3l0.7 2.5M604.8 297.6l2.3 -2.8M616 295.1l-2.2 0l-2.3 0.4l-2.2 -1.5l-2.2 0.8M586.6 301.5l-0.7 -2.3l-2 -1.4l-1.3 -1.9M586.6 301.5l1.1 -0.1M587.7 301.4l1.4 -1.7l2.5 0.1l1.1 -2l1.7 -1.1l1.8 -1.1M582.6 295.9l-0.4 -2l1 -2l-0.2 -2M583 289.9l2.3 -0.7l2.3 -0.6l2.5 1.9l2.3 -1.2M596.2 295.6l-1.7 -1.8l-1.5 -2l-0.6 -2.5M584.8 308.3l1.5 -2l0.1 -2.4l0.2 -2.4M573.2 299.9l-1.4 2.2l1.2 2.8l-1.4 2.2M573.2 299.9l1.9 -0.8l2.1 -0.3l1.7 -1.1l2 -0.7l1.7 -1.1M601.7 307.3l-1.9 -1l-1.7 -1.5l-2.2 -0.4l-2.2 -0.3l-1.9 -1.3l-2.1 -0.6l-2 -0.8M604.8 297.6l-2.4 0.4l-1.8 -1.9l-2.3 0.1l-2.1 -0.6M598.5 282.3l-1.4 1.8l-1.4 1.9l-1.5 1.7l-1.8 1.6M604.7 284.9l1 1.9l-0.5 2.2l1 1.9l0.4 2l0.5 1.9M664.5 325l-2.3 -1.3l-0.5 -2.8l-2 -1.5M674.5 321.2l1.5 -1.7l0.7 -2.2M668.3 309.8l-2.7 1M665.6 310.8l-0.3 2.3l-1.9 1.2l-0.9 2l-0.9 1.9l-1.9 1.2M656 300.9l-0.3 2.8l0.1 2.9M665.6 310.8l-1.7 -1.4l-2.3 0l-2.3 -0.2l-1.9 -1l-1.6 -1.6M646.5 309.4l2.3 -0.8l2.7 1l2.2 -1.4M655.8 306.6l-2.1 1.6M646.9 318.5l2.3 1.2l2.4 0.1l2.5 -1.1l2.4 0.6M646.9 318.5l-0.2 2.5l-1.7 1.8l-1.8 1.7l-0.1 2.5M643.1 327l1.7 1.2l1.6 1.7l2.1 0.5l2.3 0.2l1.7 1.4M652.5 332l-0.1 -2.4l0.7 -2.1l0.5 -2.1l0.9 -2.1l0.6 -2.1l1.7 -1.7M656.5 319.3l0.3 0.2M644.8 313.6l1.6 2.3l0.5 2.6M653.7 308.2l0.7 2.2l1.3 2.1l0.1 2.3l-0.2 2.4l0.9 2.1M642.7 327.1l0.4 -0.1M654.5 334.8l-2 -2.8M659.7 319.4l-2.9 0.1M508.2 273.9l-2.2 0.8l-2.3 0.3l-1.6 2.2l-2.4 0.1l-2.1 0.9l-2 1.1M509.1 275.2l-0.2 2.2l0.6 2.4l-2.1 2.1l1.3 2.4l-0.8 2.2M507.9 286.5l-2.3 -0.3l-2.3 0.9l-2.3 -1.4l-2.4 0.9l-2.3 -0.2M519.3 283.1l-2.3 0.8l-0.8 2.5l-1.8 1.4l-1.9 1.3l-1.9 1.3M519.3 283.1l2.4 0.8l2 1.3l1.2 2.3M525.5 294.9l-2.2 -0.6l-2.3 0.1l-2.2 -0.6l-2.3 0.7l-2.3 0.6l-2.2 -0.5M525.5 294.9l-0.5 -2.4l0.5 -2.6l-0.6 -2.4M510.6 290.4l0.1 3M512 294.6l-1.3 -1.2M518.2 280l1.1 3.1M507.9 286.5l2.3 1.3l0.4 2.6M513.1 309.2l0.4 -2.1l0.3 -2.1l-0.2 -2.1l-1.8 -2l1.4 -2.2l0 -2.1l-1.2 -2M516.7 308.8l1.5 -0.7M527.2 297.3l-1.8 1.1l-1.2 1.6l-0.2 2.4l-2.3 0.8l-0.6 2.1l-0.9 1.8l-2 1M527.2 297.3l-1.7 -2.4M539.4 286.4l-1.3 -1.8l-2 -0.9l-0.7 -2.4l-2.2 -0.7M538.5 295l-1.4 1.6l-1.6 1.4l-1.6 1.4M533.2 280.6l-1.8 1.2l-1.6 1.5l-1.8 1.1l-2.1 0.9l-1 2.2M527.2 297.3l2 1.2l2.4 0.4l2.3 0.5M503.2 296.1l2.5 -0.7l2.1 -2.1l2.9 0.1M508.5 248l-2.1 1.9l-2.6 0.7l-2.7 0.1M508.5 248l0 -2.1l0.8 -2.1l-1.1 -2.1M508.2 241.7l-1.5 -1.6l-0.1 -2.4l-1.5 -1.7M509 267.3l-2.2 -1.1l-1.3 -2.4l-3 0.2l-1.6 -1.9M515.8 251.2l-1.9 -0.6l-1.8 -0.9l-1.8 -0.9l-1.8 -0.8M515.8 251.2l0.5 1.5M573.2 299.9l-2.3 -1.1l-0.7 -2.7l-2.5 -1.1l-1.3 -2.1M566.4 292.9l-1.7 1.5l-0.3 2.4l-0.6 2.2l-2.4 1.1l0 2.5l-1.7 1.6M568.1 308.4l-2.6 0.8l-2.4 -0.8l-2.4 -0.9M560.7 307.5l-1 -3.3M558.5 286.5l-0.4 2.3l-0.1 2.4l-0.6 2.2l-1.3 2.1l-0.2 2.3l-1.7 2M558.5 286.5l2.2 0.5l1.6 1.8l1.5 1.8l2.3 0.4M566.1 291l0.3 1.9M559.7 304.2l-2.2 -1l-2 -1.3l-1.3 -2.1M546.5 295.5l2 2.1l1.8 2.1M556.2 283.4l-2.5 0.7M556.2 283.4l2.3 3.1M550.3 299.7l3.9 0.1M524.2 176.8l0 2l0.7 2l-0.3 2.1l1.5 1.9l-1.2 2.2l1.1 1.9M536.3 164.4l0.1 -2.1l-0.5 -2M536.3 164.4l-2.1 1.1l-2.2 0.4l-2.2 0.4l-2.4 -0.7l-2 1.4l-2.3 0M544 154.2l-2.1 0.5l-1.6 1.3l-0.9 2.3l-2 0.6l-1.5 1.4M536.5 164.9l-0.2 -0.5M551.7 160.7l2.4 -1.7M554.1 159l-0.1 -0.3M524.2 176.8l2.2 0l1.5 -2.3l2 -0.6l2.2 0l1.8 -1.3l2.2 0.2M536.8 165.5l-0.3 2.4l-1.2 2.4l0.8 2.5M529 188.7l2.3 -0.7l1.3 -2.1l1.6 -1.7l2.6 -0.3l1.2 -2.2l1.9 -1.3M536.1 172.8l1.9 1.4l-0.6 2.6l1.4 1.6l1.1 1.7M539.9 180.4l0 -0.3M537.9 195.5l1 -1.8l0.9 -1.9l2 -1.2l-0.3 -2.6l1 -1.8l1.9 -1.2M539.9 180.4l1.3 1.8l2 0.9l1.2 1.9M546.7 168.8l2.5 1.7l1.3 2.7M539.9 180.1l2.3 -0.3l1.7 -1.2l1.6 -1.6l1.4 -1.7l1.5 -1.4l2.1 -0.7M561.6 165.9l-0.9 2.4l-2.5 1.2l-1 2.4l-1.5 1.9M561.6 165.9l-1.5 -1.4l-1.9 -1l-0.5 -2.4l-2 -0.9l-1.6 -1.2M555.7 173.8l-2.6 -0.5l-2.6 -0.1M619.9 248.2l0.4 -2.2l-0.2 -2.1l-1.4 -2.1l0.9 -2.2M629.1 235.4l-2.3 0.1l-1.5 1.6l-1.6 1.4l-2.4 -0.3l-1.7 1.4M587.5 278.1l-2 1.2l-1 2l-1.4 1.6l-0.3 2.4l-1.6 1.5M587.5 278.1l-0.7 -2l-0.9 -1.9l-1.3 -1.7l-1.4 -1.6l-1.1 -1.7M582.1 269.2l-2.1 0.7l-2.1 0.9l-1.8 1.5l-2.2 0.4M576.1 284.9l-1.6 -1.5l-0.3 -2.1l0.7 -2.4l-1.2 -1.7l-1.2 -1.7M576.1 284.9l2.7 0.7l2.4 1.2M572.5 275.5l1.4 -2.8M595.8 277.7l-2 1l-2.1 -0.2l-2.1 -0.9l-2.1 0.5M583 289.9l-1.8 -3.1M556.2 283.4l1.6 -1.8l-0.1 -2.3l0.4 -2.2M566.1 291l2.2 -0.9l2.2 -0.9l2 -1.2l1.1 -2.8l2.5 -0.3M558.1 277.1l2 -1.1l2.2 1.5l2 -0.8l1.9 -1.4l2.2 1l2 -0.6l2.1 -0.2M561.6 165.9l2.7 -1l2.9 0.4M567.2 165.3l0.9 1.8l-0.6 2.3l1.2 1.8l0.1 2.1l1.5 1.6l-0.2 2.2l1 1.8M556.4 178.3l-1 -2.1l0.3 -2.4M556.4 178.3l2.2 -0.9l2 0.5l2 1.7l2.1 0.3l2.2 -1.1l2.1 0l2.1 0.7M571.1 179.5l0 -0.6M580.5 169.5l1.3 2.3l-0.1 2.6M567.2 165.3l1.8 -1.4M569 163.9l2.2 0.7l2.2 0.9l2.3 0.5M571.1 178.9l1.7 -1.9l2.7 0.4l2.1 -0.8l2.2 -0.8l1.9 -1.4M539.9 199l2.4 -0.4l2.2 1.2l2.3 0.4M546.8 200.2l3.1 -0.7M544.4 185l2.2 1.4l2.5 0.8M549.9 199.5l-0.8 -2l0 -2.1l-0.2 -2l1.1 -2.2l-1.4 -1.9l0.5 -2.1M556.4 178.3l-0.5 2.4l0 2.4M549.1 187.2l2.4 -1.1l2.5 -1.1l1.9 -1.9M519.6 217.6l2.2 2.3M533 205.5l0.2 2l0.2 2.1l0.5 2l1.2 1.8M521.8 219.9l2.3 -0.2l1.1 -2.5l2.3 -0.1l2.1 -0.6l1.7 -1.3l1.7 -1.2l2.1 -0.6M546.8 200.2l0 2.4l-0.7 2.1l-1.8 1.7l-0.4 2.3l-0.4 2.2l-0.8 2.1l-1.6 1.8M541.1 214.8l-3.5 -0.1M535.1 213.4l2.5 1.3M581.9 144.8l-1.9 -1.3l-1.5 -1.6M581.9 144.8l1.4 2l1.3 2l0.4 2.5M585 151.3l-2 0.9l-1.4 1.9l-1.7 1.4l-2.1 0.9l-2.1 0.9l-1.2 2l-1.6 1.6l-1.9 1.3l-1.8 1.1M574.8 142.4l3.7 -0.5M574.8 142.4l-1.5 1.9l-2.2 0.9l-1.9 1.5l-1.4 1.9M567.8 148.6l-0.2 2.2l0 2.1l0.3 2.1l0.3 2.1l0.7 2l-0.3 2.2l0.6 2M581.4 131.2l-1.2 2l0.4 2.4l-2 1.8l0.2 2.3l-0.3 2.2M593.6 139.3l-1.9 1.1l-2.1 0.5l-1.5 1.9l-2.1 0.7l-2.3 0.1l-1.8 1.2M587.7 153.4l-2.7 -2.1M569 163.9l0.2 -0.6M565.8 134.2l2 0.8l0.7 2.3l1.9 0.9l1.8 1.1l1.5 1.4l1.1 1.7M567 148.5l0.8 0.1M626.7 167.9l1.9 0.7l0.7 2.4l2.4 0.2l1.9 0.8l1 2M640.9 169.9l-1.2 1.7l-1.1 1.8M634.6 174l2 -0.4l2 -0.2M652.3 181.2l-1.8 1.6l-2.3 -0.1l-2 1.1l-2.1 0.4l-2.2 0.3M638.6 173.4l1.1 2.1l0.1 2.4l0 2.4l0.7 2.2l1.4 2M641.9 184.5l-1.3 2.7M626.2 210.5l1.5 1.7l2.3 -0.1l2 0.5M626.2 210.5l1 -2.3l0.2 -2.2l0.3 -2.3l-1.5 -2.4l0.9 -2.3M627.1 199l1.8 -1.3l2.3 1l1.7 -1.7l2 -0.5l2.3 1.2l1.9 -0.9M625 211.1l1.2 -0.6M625 211.1l-0.9 2l-0.2 2.4l-1.2 1.9l-1.1 1.9l-1.3 1.9l1 2.8l-1.7 1.7M610.7 201l1.2 2.2l1.9 1.2l2.1 0.9l1.5 1.8l1.6 1.6l2.2 0.8l1.9 1.2M610.7 201l2.2 -0.9l2.4 -0.3l2 -1.5l2.6 0.4l2.2 -0.9M623.1 210.7l1.9 0.4M622.1 197.8l2.6 -0.4l2.2 1.4M626.9 198.8l0.2 0.2M701.4 313.6l-0.1 2l1.5 1.8l0.2 2l0 2.1l0 2M686.7 319.6l0.9 2.9l2.5 1.6M690.1 324.1l2.1 -0.8l2.2 0.1l2.2 0.3l2.1 0.1l2.2 -0.6l2.1 0.3M713.8 322.3l-2.2 0.5l-2.2 1l-2.2 0.7l-2.3 0.2M715.5 335.4l-2.3 -0.1l-2.2 -0.2l-2 -1l-2.3 0.2l-2.1 -0.7M704.6 333.6l-1 -2.3l1.5 -2.2l0.7 -2.1l-0.9 -2.3M704.9 324.7l-1.9 -1.2M691 547.7l-2.6 -1.7M691 547.7l0.1 2l0.2 2.1l-0.8 2l1 2l-0.7 2l-0.9 2l0.2 2M688.4 546l-2.2 1l-2.7 -0.5l-2.2 1.2l-2.1 1.2M683.8 558.2l-1.3 -1.7l-1 -1.8l-1.4 -1.6l-0.4 -2.1l-0.6 -2.1M683.8 558.2l2.6 0.4l1.9 1.5l1.8 1.7M679.1 548.9l0.1 0M700.6 550.3l-2.4 -0.7l-2.2 -1.3l-2.7 0.5l-2.3 -1.1M695.5 537l2.6 -0.9l2.5 1M700.6 537.1l1.6 0.9M702.2 538l1.4 1.8l-0.9 2.5l1.2 1.9l0.9 1.9M691.5 539.7l-1.9 1.6l0.6 3l-1.8 1.7M691.8 563.1l-1.7 -1.3M680.6 538.4l-1.1 2l1.2 2.3l-0.5 2l-0.8 2.1l-0.2 2.1M676.4 564l1.4 -2.2l2.1 -1l2.7 -0.4l1.2 -2.2M674.7 549.1l2.2 -0.5l2.2 0.3M591.3 565.3l-0.3 2.4l0.5 2.2l1.2 2M581.6 554.9l0.2 2.1l-1.5 1.7l0.3 2.2l-0.4 2l-2.3 1.4l0.4 2.2M578.3 566.5l0.9 2l0.9 2l0.9 1.9l1.5 1.6M582.5 574l2 -0.6l2 -0.5l2 -0.8l2.1 0.1l2.1 -0.3M600.3 573l-1.7 0.3M592.7 571.9l2.2 -0.6l1.7 1.9l2 0.1M608.7 583.1l-0.5 2.5l-0.9 2.4l-0.7 2.5M622.2 593.2l-2.5 0.7l-2.5 0.7l-2.3 1.4M614.9 596l-2.9 0l-2 -1.9l-2.5 -1M607.5 593.1l-0.9 -2.6M623.1 623.7l1.4 -1.6l1 -2l2.2 -0.9l0.8 -2.2l1.5 -1.5M630 615.5l-0.6 -2.6M629.4 612.9l-0.8 -1.9l-1.9 -1l-1.1 -1.8M625.6 608.2l-2.3 0.4l-2.4 -0.4l-2.3 -0.3M618.6 607.9l-2 1.9l-2.8 0.4M638.2 621l-1.9 -1.6l-2.3 -1l-1.8 -1.7l-2.2 -1.2M641.9 605.3l-2.2 0.4l-1.7 1.2l-1.4 1.7l-1.6 1.5l-2.4 0l-1.8 1.1l-1.4 1.7M628.3 599.8l0.1 2.3l-1.3 2l-1.3 1.9l-0.2 2.2M614.9 596l0 2.2l1 1.8l0.1 2.2l2.2 1.5l0.1 2.1l0.3 2.1M607.5 593.2l-1.3 1.9l-1.3 1.8l-2.8 0.3l-1.5 1.7l-1.4 1.7l-1.8 1.3l-1.3 1.9l-1.2 1.9M607.5 593.2l-0.8 2.2l0.5 2.1l0.3 2.1l-0.3 2.2l0.7 2.1l1.2 2l-0.4 2.2l0 2.1M607.5 593.1l0 0.1M809.4 502.3l0.8 -2.1l-1 -1.9l-0.2 -2l-1.7 -1.8l1.8 -2.3l-1.4 -1.8M822.6 491l-2.2 0.5l-1.9 -1.2l-2 -0.9l-2.2 0.1l-2.2 0.9l-2 -1.1M807.7 490.4l2.4 -1.1M798.3 498.7l0.4 -2.2l2.5 -0.9l-0.4 -2.7l2.6 -0.9l0.1 -2.3M807.7 490.4l-2.2 0.1l-2 -0.8M788.1 493.7l1.6 -1.5l1.8 -1.2l1.7 -1.4l2.1 -0.9l0.8 -2.4l2 -1.1M803.5 489.7l-1.4 -2l-1.7 -1.6l-2.3 -0.9M796.5 480.9l0.2 0.1M798.1 485.2l0.1 -2.3l-1.5 -1.9M644.8 416.8l0.4 2l1.5 1.7l-0.2 2.1M644.8 416.8l1.2 -2.2l1.1 -2.2l1.3 -2.1M651.6 409.9l-3.2 0.4M651.6 409.9l1.3 2.1l1.2 2.1l0.1 2.8l1.9 1.7M656.1 418.6l-1.2 2.5l-1.3 2.3l-2.4 1.5M646.5 422.6l1.9 2l2.8 0.3M635.2 428.9l1.6 -1.6l1.8 -1.2l2 -0.9l1.7 -1.2l2 -1l2.2 -0.4M630.8 415.4l2 0.8l1.9 0.6l2 0.3l2.2 -1.1l1.9 1.1l2.1 -1.1l1.9 0.8M641.4 404.8l1.6 1.6l1.9 1.1l2.3 0.7l1.2 2.1M656.5 405.5l-1.9 1.2l-1.5 1.6l-1.5 1.6M667 418.4l-2.2 -0.8l-2.2 1.8l-2.2 -1.6l-2.1 0.3l-2.2 0.5M637.9 434.4l2 -0.4l2.2 0.6l2.1 0.3l1.9 -1.5l2.1 0.6l2.1 -0.4l2.1 0.1l2 -0.8M654.4 432.9l-1.6 -1.7l-0.1 -2.3l-0.1 -2.2l-1.4 -1.8M669.6 461.5l-0.3 -3M669.6 461.5l2.5 0.9l1.9 1.5l0.8 3.1l2.6 0.6M669.3 458.5l2.2 -0.7l1.7 -1.2l0.6 -2.7l2.8 0.2l0.9 -2.4l1.9 -1M680.4 466.6l-3 1M680.4 466.6l-0.3 -2.4l2.1 -1.8l-0.6 -2.4l0.4 -2.2l0.6 -2.1l0.4 -2.2M683 453.5l-1.6 -1.7l-2 -1.1M662 467.9l1.9 -0.8l1.8 -1l0.6 -2.4l1.6 -1.1l1.7 -1.1M655 453.9l2.4 1.2l2.4 -0.9l2.5 -0.4l2.4 0.5M652.2 459.3l1.1 1.9M664.7 454.3l1.3 1.7l1.4 1.5l1.9 1M674.4 477.1l-0.3 -2.7l1.3 -2.2l0.6 -2.4l1.4 -2.2M687 468l-2.1 -0.9l-2.5 0.6l-2 -1.1M678.3 480.4l2.2 1.3l2.7 -1.5l2.3 0.8l2.2 0.9M692.4 454.1l-2.4 0.5l-2.3 -0.8l-2.4 0.9l-2.3 -1.2M677.5 441.9l-0.1 0.1M689.4 438.3l1.7 1.5l0.9 2.4l2 1.4M677.4 442l0.7 2.1l-0.8 2.5l0.8 2.1l1.3 2M665 428.2l-1.8 1.6l-2.6 -0.1l-1.5 1.8l-2.3 0.5l-1.9 1.4M665 428.2l0.1 2.3l2.1 1.4l0.5 2.2l0.8 2l0.6 2l0.1 2.4l1.6 1.6M668.2 443.2l2.6 -1.1M668.2 443.2l-2.3 0.4l-1.7 -2.2l-2.4 0.7l-1.8 -1.5l-2.4 0.4l-1.9 -1.2M655.7 439.8l-0.2 -2.2l-0.5 -2.1l-0.1 -2.1M667.7 424.9l-1.7 1.4l-1 1.9M654.4 432.9l0.5 0.5M677.4 442l-2.2 -1l-2.2 0l-2.2 1.1M664.7 454.3l-0.1 -2.5l1 -2.2l1.7 -1.8l0.4 -2.3l0.5 -2.3M654.8 441.3l0.9 -1.5M681.9 502.2l2.3 0.2l2.2 1.2l2.2 0.7l2.5 -0.6M681.9 502.2l-1.1 -2.5l0.5 -2.7l-1 -2.4M680.3 494.6l1 -2.4l2.8 -0.4l1.5 -2l1.6 -1.7M687.2 488.1l0.7 1.9l0.3 2.1l1.8 1.3l0.3 2.1l1.8 1.4l1.6 1.3l0 2.3M693.7 500.5l-1.6 1.3l-1 1.9M676.1 491.4l2.7 0.8l1.5 2.4M680.4 503.2l1.5 -1M688.9 482.8l-1.5 2.5l-0.2 2.8M698.7 497.5l-2.8 0.9l-2.2 2.1M701.7 513.4l-1.8 -1.5l-2.2 -1l-2.2 -1l-0.9 -2.8l-2.5 -0.5M701.7 513.4l0.3 2.1l-0.2 2l0 2M701.8 519.5l-1.9 1.2l-1.5 1.7M692.1 506.6l-1.5 1.8l0.5 2.7l-0.9 2.1l-0.7 2.2l-1.8 1.7M687.7 517.1l1.7 1.3l1.1 2l1.5 1.4l2.2 0.6M698.4 522.4l-2.1 0.1l-2.1 -0.1M706.3 509.5l-1.9 2.5l-2.7 1.4M691.1 503.7l1 2.9M709.6 522.5l-1.6 -1.6l-2.4 0.3l-1.9 -0.6l-1.9 -1.1M700.6 537.1l0.3 -2.2l0.2 -2.2l-0.8 -2l-1 -2l0.2 -2.2l-0.4 -2.1l-0.7 -2M711.9 530.6l-1.8 1l-1.9 0.9l-1.4 1.5l-1.4 1.5l-1.6 1.3l-1.6 1.2M682.6 518.4l2.5 -1l2.6 -0.3M688.3 529.7l1.6 -1.8l2.2 -1.3l1.2 -2l0.9 -2.2M719.1 538.5l-1.7 1.3l-1.1 1.8l-0.6 2l-2.2 1l0.2 2.6l-1.6 1.3M719.1 538.5l2.3 -0.3l2.1 0.3l2.1 0.4l1.8 2.2l2.3 -0.4M712.1 548.5l2.1 -0.3l2.1 -0.8l2.2 0.4l2.2 0l2.2 0.6l2.2 0.5l2.1 -1.2M727.2 547.7l2.2 -3.2M729.7 540.7l-0.3 3.8M716.2 531.8l1.9 1.8l-0.9 3.1l1.9 1.8M711.9 548.6l0.2 -0.1M732.2 537.8l-2.5 2.9M732.2 537.8l0.3 -2.3l-2.5 -1.3l0.8 -2.4l-1 -1.9M729.8 529.9l-2 -1l-1.4 -1.9l-1.9 -1.1M726.6 559.8l-0.2 -2.1l-0.2 -2l0.7 -2l-0.4 -2l0.3 -2l0.4 -2M739 552.3l-1 -2.1l-1.5 -1.4l-2 -0.9l-2.5 -0.1l-1.6 -1.4l-1 -1.9M732.2 537.8l2.1 -0.8l2.2 0.2l2.2 0.6M740.9 538.2l-2.2 -0.4M745.2 515.3l0.4 2.5l0.3 2.5l-0.5 2.5l0.2 2.5M745.2 515.3l-2 -0.4l-2.2 0.3l-1.9 -0.9l-2 -0.8l-2.1 -0.1M735 513.4l0.2 2.4l1.2 2.2l-1.2 2.4l1.3 2.3l-0.6 2.4M745.6 525.3l-2.1 1.2l-2.2 -0.1l-2.3 -0.4M739 526l-3.1 -0.9M749.5 530.5l-1.1 -1.9l-0.9 -2.1l-1.9 -1.2M747.9 513.7l-2.7 1.6M734.5 513.1l0.5 0.3M729.8 529.9l2.3 -1.3l1.2 -2.7l2.6 -0.8M738.7 537.8l-0.4 -2.4l0.8 -2.3l0.8 -2.3l-1.9 -2.4l1 -2.4M551.1 336.3l-1.5 -3.2M537.8 334l2.4 -0.2l1.2 -2.4l2.2 -0.3l2 -0.9M545.6 330.2l1.8 1.8l2.2 1.1M568.5 326l-2.7 -0.1l-1.6 -2.4l-2.6 -0.2M549.6 333.1l2 -1l1.2 -2.1l1.6 -1.5l2 -1l1.6 -1.6l2.1 -0.9l1.5 -1.7M557.3 312l2.3 -1.8l1.1 -2.7M557.3 312l0.3 2.1l0.2 2.1l1.8 1.7l-0.3 2.3M561.6 323.3l-2.3 -3.1M633.9 468.2l-0.9 2.1l-1 2.1l-3.1 0.4l0 2.9l-2 1.2M633.9 468.2l2.9 0.9l3 0.4M639.8 469.5l1.6 2.1l0.9 2.6M626.9 476.9l1.4 1.7l-1 2.5l1.3 1.8l0.6 2M642.3 474.2l-0.6 1.3M641.7 475.5l-1.1 2l-1.6 1.3l-2.5 0.2l-1.2 1.8l-2.2 0.7l-0.5 2.7l-2.1 0.7M630.5 484.9l-1.3 0M617.8 471.9l1.6 1.5l2.2 0.2l1.5 1.5l2.3 0.2l1.5 1.6M628.9 462.7l2.3 1.3l0.8 2.6l1.9 1.6M642.6 464.7l-0.7 2.8l-2.1 2M650.5 475.4l-2 -0.6l-2.2 0.7l-2 -0.9l-2 -0.4M624 489.5l2.4 -0.7l0.4 -3.1l2.4 -0.8M644.3 487.8l0.5 -2.3l-1.4 -1.8l-0.3 -2.1l-0.8 -1.9l0.5 -2.3l-1.1 -1.9M640.5 491.3l-2.1 -1l-2 -1.4l-2.2 -0.9l-1.6 -1.9l-2.1 -1.2M693.4 427.4l1.7 2.1l2.8 -0.1l1.6 2.3l2.6 0.3M693.4 427.4l0.4 -1.3M693.8 426.1l1.6 -1.2l2.2 -0.1l1.8 -0.8l2 -0.4l1.3 -2l2 -0.5l1.8 -0.8M702.1 432l2.2 -1.1l2.3 -0.2l2.3 1.2l2.2 -0.8M711.1 431.1l0.4 -2.5l-1.6 -2.4l0.7 -2.6M710.6 423.6l-2.4 -1.1l-1.7 -2.2M692.3 428.2l1.1 -0.8M701.2 441.8l-0.6 -2.5l0.7 -2.4l0.5 -2.5l0.3 -2.4M693.3 421.9l-0.7 2.2l1.2 2M704.9 410.9l1.1 2.2l-0.1 2.5l0.2 2.4l0.4 2.3M713 432.9l-1.9 -1.8M721.2 415.7l-1.7 1.4l-1.5 1.7l-2.4 0.3l-1.7 1.5l-1.4 1.8l-1.9 1.2M616.9 287.7l-0.5 -2.5l-0.9 -2.3l-1 -2.3M616.9 287.7l2.1 -0.5l1.9 -0.9l1.6 -1.3l1.4 -1.9l2.3 -0.1l1.8 -1M614.5 280.6l2.5 -1.2l1.1 -2.7M628 282l-1.9 -1.3l-1.6 -1.7l-2.3 -0.5l-2 -0.9l-2.1 -0.9M606.5 283.4l2.2 -0.2l1.6 -1.8l2 -0.6l2.2 -0.2M616 295.1l-0.3 -2.6l-0.1 -2.5l1.3 -2.3M616.9 271.1l0.6 2.8l0.6 2.8M619.6 239.6l-0.6 -1.1M619.6 225.7l-1.2 0.5M618.4 226.2l-1 2.1l1 2l1 2l-1.5 2.1l0.3 2.1l0.8 2M617.4 250.1l-2.6 0l-2.6 0.9l-2.5 -1.2M605 264.1l-0.2 -0.9M604.8 263.2l1.1 -1.8l0.8 -1.8l0.7 -2l1 -1.8l0.2 -2.1l1.3 -1.7l-0.2 -2.2M604.8 263.2l-1.5 -1.7l-1.8 -1.4l-2.9 0.6l-1.9 -1.1l-1.4 -1.9M609.7 249.8l-0.4 -0.4M609.3 249.4l-2.1 0.2l-1.6 1.8l-2.3 -0.7l-2 0.6l-2 0.5l-2.2 -0.3l-1.8 1.4M595.3 257.7l0.8 -2.4l-0.8 -2.4M597.8 271l-2 -0.6l-2 -0.8l-0.7 -2.5l-2.1 -0.6l-1.3 -1.7l-2.7 0.4l-1.1 -2M595.3 257.7l-1.9 1l-1.8 1.2l-1.7 1.5l-2 1l-2 0.8M582.1 269.2l1.1 -2l1.3 -1.8l0.5 -2.2M573.9 272.7l-0.3 -2.2l-1.9 -1.3l-1.5 -1.5l-0.9 -1.9l-0.6 -2.1M568.7 263.7l0.8 -1.9l-0.6 -2.3l1.6 -1.7M570.5 257.8l2.2 0.2l2.1 0.7l2.1 0.7l1.9 1.3l2.4 -0.5l2.1 0.4M583.3 260.6l1.7 2.6M585 263.2l0.9 0M570.5 257.8l-0.1 -2.4l-2.4 -1.4l-0.1 -2.5l-1.3 -1.9M583.3 260.6l-0.3 -2.2l0.6 -2.1l0 -2.2l0.6 -2.2M584.2 251.9l-2.3 0.1l-2.1 -0.2l-2.1 -1.3l-2.1 -0.7l-2.1 -0.3l-2.2 -0.6l-2.4 1.5l-2 -1.1M566.9 249.3l-0.3 0.3M533.2 280.6l-0.3 -2.3l0.3 -2.2l0 -2.2M547.1 283.1l-1.9 -1.3l-0.7 -1.9l-0.7 -2l-1.6 -1.4l0.4 -2.6l-1.5 -1.5M541.1 272.4l-2.1 -0.7l-1.9 0.9l-1.8 1.5l-2.1 -0.2M524.8 273l2.5 0.9l2.6 0.3l2.6 -1M533.2 273.9l-0.7 -0.7M529.1 258.6l2.4 0M532.5 273.2l-0.2 -2.1l-0.2 -2.1l0.9 -2.1l-1.9 -2l1.3 -2.1l0.3 -2.2l-1.2 -2M541.1 214.8l0.4 0.2M549.9 199.5l1.9 0.8l1.9 0.7l1.7 1.1M541.5 215l1.9 -1.3l2 -0.3l2.2 0.2l2.2 0.2l1.9 -0.9l2.1 -0.4l1.9 -1.2l2.2 0.5M557.9 211.8l-1.6 -2.4l0.4 -2.8l-0.4 -2.6M556.3 204l-0.9 -1.9M555.9 183.1l1.1 2l2.2 0.3l1.3 1.6l1.7 1.2l1.4 1.4l1.9 0.8M555.4 202.1l1.1 -2l2.3 -0.9l0.9 -2.1l1.9 -1.3l0.8 -2.3l1.6 -1.5l1.5 -1.6M571.1 179.5l0.6 1.9l-1.2 2.2l1.4 1.9l0.4 2l-0.1 2M565.5 190.4l2.2 -1l2.2 -0.5l2.3 0.6M555.8 236.4l2.5 -0.9M555.8 236.4l-2.1 -0.9l-2.3 1.5l-2.1 -1.6l-2.2 0.5M558.3 235.5l1.1 -1.8l0.7 -2l0.2 -2.2l1.3 -1.7M547.1 235.9l0.8 -2.3l-1 -2.2l-0.6 -2.2M561.6 227.8l-2 -1.5l-0.8 -2.3l-1.2 -2.1M557.6 221.9l-1.7 1.5l-2.5 0l-1.8 1.3l-1.9 1.2l-2 0.9M546.3 229.2l1.4 -2.4M569 243.8l-2.2 -0.9l-2 -1l-1.8 -1.5l-0.7 -2.7l-2.4 -0.6l-1.6 -1.6M569 243.8l-0.4 3l-1.7 2.5M558.6 251.2l2 -0.6l2 -0.6l2.1 0.5l1.9 -0.9M558.6 251.2l-1.4 -1.9l0.4 -2.3l-0.7 -2.1l0.5 -2.2l0.2 -2.2l-0.6 -2.1l-1.2 -2M567.6 229.6l0.9 2.4l1.7 1.8l2.4 1.4l0.5 2.6M567.6 229.6l-1.7 -1.4l-2.6 1.2l-1.7 -1.6M572.8 239.5l0.3 -1.7M572.8 239.5l-1.5 2.5l-2.3 1.8M541.5 215l0.4 2.3l1.8 1.5l0.9 2.1l0.6 2.1l0.7 2.2l1.8 1.6M559.6 214.2l-1.7 -2.4M559.6 214.2l-0.2 2.7l-0.1 2.8l-1.7 2.2M537.6 214.7l0.5 2.2l-1.1 2l-0.5 2.1l0.8 2.3l-0.6 2.1l-1.1 2M535.6 227.4l2.2 0.2l2 1.3l2.4 -1.3l2 1.4l2.1 0.2M619.4 187.9l-0.4 -2.1l0.6 -2.1l-0.4 -2.1l0.9 -2.1M619.4 187.9l2.5 0l2.6 -0.2l2.2 1.5M626.7 189.2l1.4 -1.8l1.2 -2.1M629.3 185.3l-1.8 -2.3l-0.2 -2.9M627.3 180.1l-2.1 -2.1l-3 -0.4M622.2 177.6l-2.1 1.9M616.2 189.8l3.2 -1.9M616.2 189.8l-2.4 1l-2.2 -0.5l-2.3 -0.7M609.3 189.6l-0.1 -2.4l-0.9 -2.2l-0.4 -2.3M607.9 182.7l2.3 0.4l1.9 -0.8l2.1 -0.3l2 -0.9l1.7 -1.5l2.2 -0.1M622.1 197.8l-1.3 -2.2l-1.4 -2l-2.6 -1.2l-0.6 -2.6M626.9 198.8l1 -2.4l-1.9 -2.4l0 -2.4l0.7 -2.4M640.6 187.2l-2.1 -1.3l-2.4 0.1l-2.2 -0.5l-2.3 0l-2.3 -0.2M634.6 174l-1.6 1.8l-1.4 2l-2.9 0.3l-1.4 2M620.6 171.5l0.4 2.1l0.2 2.1l1 1.9M605.1 179.1l-0.3 -2.3l0.4 -2l0.7 -1.9l1.3 -1.8M605.1 179.1l1.7 1.6l1.1 2M682.3 335.8l2 -1.4l1.2 -2.1l1 -2.2l1.8 -1.5M682.3 335.8l1 1.9l1.8 1.1l1.6 1.3l2.2 0.7l0.9 2.1l1 1.9l1.9 1l1.9 1M688.3 328.6l1 2.1l1.7 1.5l1.3 1.8l2.6 0.5l1 2.2l0.9 2.1l1.7 1.5l1.4 1.7l2.2 1M694.6 346.8l2.5 0.4l2 -1.8l2.3 -0.3M701.4 345.1l0.6 -0.7M702 344.4l0.1 -1.4M681.2 336l1.1 -0.2M690.1 324.1l-1.1 2.1l-0.7 2.4M690.3 351.3l1.3 -1.6l1.8 -1.2l1.2 -1.7M704.6 333.6l-1.5 2.1l0.1 2.5l-1.2 2.2l0.1 2.6M705.4 357.9l-0.8 -2.1l-0.6 -2.1l-0.7 -2.1l-0.6 -2.2l-0.5 -2.2l-0.8 -2.1M713.6 344.9l-2.3 -0.2l-2.3 -0.9l-2.4 1.8l-2.3 -1l-2.3 -0.2M582.3 574.4l0.2 -0.4M582.3 574.4l0.8 2.2l1.4 2l0.3 2.3l0.3 2.4l1.3 2M598.6 573.3l-0.1 2.2l-0.8 2l-2.5 1.2l-0.4 2.2l0.3 2.5l-2.2 1.3l-0.3 2.2M592.6 586.9l-2.2 -0.2l-2.1 -0.2l-1.9 -1.2M606.6 590.5l-2.4 0l-2.3 0.1l-2.4 0.5l-2.4 -1.3l-2.3 0.8M592.6 586.9l0.5 2.3l1.7 1.4M582.3 574.4l-1.2 2.1l-2.8 0.1l-1.6 1.6l-2.2 0.9l-1.3 2M594.8 590.6l-1.4 1.9l-0.7 2.3l-0.7 2.2l-0.9 2.2l-1.9 1.6M812.3 476.9l-2.4 -1.4l-2.5 -1.3M812.3 476.9l2.4 0.3l1.8 -1l1.7 -1.5l1.8 -1.1l2.1 -0.2M806 466.9l-0.2 2.5l2.1 2.2l-0.5 2.6M806 466.9l2.2 -1.3l2.5 0.3l2 -1.9l2.5 0.2M815.2 464.2l2.5 0.7M817.7 464.9l0.2 2.5l2.3 1.1l0.4 2.3l1.7 1.6M822.3 472.4l-0.2 1M810.1 489.3l-0.2 -2.2l0.4 -2l1.9 -1.8l-0.8 -2.3l-0.3 -2.2l1.2 -1.9M796.7 481l2.2 -0.5l1.6 -1.4l2 -0.8l1.3 -2l2.1 -0.5l1.5 -1.6M823.3 475.6l-1.2 -2.2M800 462.6l2.2 1.1l1.7 1.9l2.1 1.3M811.1 455.4l0 2.7l2.8 1.3l0.8 2.3l0.5 2.5M822.8 456l-1.3 1.6l0.1 2.4l-2.2 1.1l-0.7 2l-1 1.8M831.4 465.8l-1.7 1.5l-1.6 1.6l-2.1 0.9l-2 1.1l-1.7 1.5M548.1 322.5l-0.4 2.3l-2.1 1.5l-0.3 2.3M548.1 322.5l-1.1 -2l1 -2.3l-1.3 -1.9l0.1 -2.2l-0.3 -2.1M545.3 328.6l-1.4 -1.4l-2.1 -0.7l-0.4 -2.5l-2 -0.8l-1.3 -1.6l-2.1 -0.6l-0.8 -2.2l-1.7 -1M537.8 310.1l-1 2.9l-2.5 1.7M537.8 310.1l2.1 -0.3l2 1.4l2.1 -0.6M533.5 317.8l0.8 -3.1M544 310.6l2.5 1.4M545.6 330.2l-0.3 -1.6M559.3 320.2l-2.1 1l-2.3 0.5l-2.1 0.7l-2.3 0.2l-2.4 -0.1M557.3 312l-2.2 0.6l-2.1 0l-2.2 0l-2.1 -0.5l-2.2 -0.1M529.3 321.8l1.7 -2.4l2.5 -1.6M518.2 308.1l2.5 -0.2l1.3 2.6l2.6 -0.6l1.9 1l1.8 1.3l2 0.9l2.2 0.4l1.8 1.2M533.9 299.4l0.1 2.4l1.9 1.7l0.9 2.1l0.9 2.1l0.1 2.4M550.3 299.7l-1.7 1.4l0 2.4l-1.9 1.4l0 2.3l-1.9 1.4l-0.8 2M572.2 223.1l2.3 -0.4l1.9 1.1l1.6 1.9l2.2 0.1l2.1 0.3M572.2 223.1l0.2 -2.6l-1.5 -1.9l-1.2 -2.1l-0.4 -2.4M582.3 226.1l0.8 -2.3l-1.1 -2.1l-1.3 -2.1l1.2 -2.4l-1.2 -2.1l0.2 -2.2M580.9 212.9l-2.1 0.4l-2.1 -1.1l-2.1 0.2l-2.1 1.5l-2.1 -0.5M569.3 214.1l1.1 -0.7M567.6 229.6l1.5 -2.2l1 -2.5l2.1 -1.8M583.6 227.9l-1.9 1.1l-1.5 1.3l-1 2l-2.3 0.6l-1.4 1.5l-0.3 2.6l-2.1 0.8M583.6 227.9l-1.3 -1.8M559.6 214.2l2.4 -1l2.5 0.1l2.4 0.4l2.4 0.4M556.3 204l2.3 0.8l2.2 -0.9l2.2 0.2l2.1 -1.1l2.1 -0.9l2.4 1l2.1 -1.1M571.7 202l-1.2 2.2l0.5 2.4l-0.7 2.2l-0.4 2.2l0.5 2.4M592.7 164.1l0.1 2.3l-0.3 2.2l-0.1 2.2l0.3 2.3l-1.9 2l0.4 2.3M581.7 174.4l1.2 1.1M582.9 175.5l2.1 0.5l2 0.8l2.2 -0.2l2 0.8M605.1 179.1l-2.2 1.1l-2.2 0.7l-2.7 -1.5l-2.3 0.5l-2.2 1.2M593.5 181.1l-1.8 -1.4l-0.5 -2.3M593.6 194.4l0.2 2.6l-0.6 2.5l-1.2 2.3M593.6 194.4l2.2 0.9l2.3 0.2l2.2 0.1l2.3 -1.3l2.2 1.1l2.2 -0.6M592 201.8l1.3 2l2.8 -0.4l1.6 1.4l1.6 1.5l2 0.9l1.8 1.2l1.7 1.3M604.8 209.7l0.8 -2.4l2.1 -1.7l0.2 -2.7l1.3 -2.2M607 194.8l0.4 2.1l0.5 2l1.3 1.8M609.3 189.6l-0.9 2.7l-1.4 2.5M590.1 189.1l1.3 -1.8l1.1 -1.9l0.6 -2.1l0.4 -2.2M590.1 189.1l0.8 2l2.3 1.1l0.4 2.2M610.7 201l-1.5 -0.3M619 238.5l-2.3 -0.8l-2.4 1.2l-2.2 -1.8l-2.4 0.5l-2.3 -0.2M609.3 249.4l-2 -1.3l0.7 -2.9l-1.8 -1.5M606.2 243.7l0.4 -2.1l0 -2.2l0.8 -2M558.6 251.2l-0.3 0.1M545.5 239.1l0.3 3.7M545.5 239.1l1.6 -3.2M558.3 251.3l-2.2 -0.6l-1.8 -1.1l-1.6 -1.6l-1.5 -1.5l-1.6 -1.6l-2.3 -0.4l-1.5 -1.7M594.4 251.6l-2.4 0.5l-2.1 -1.5l-2.1 -1.2l-2.5 0.4M594.4 251.6l0.6 -2.1l0.6 -2.2l-0.6 -2.5l1.6 -1.9M596.6 242.9l-1.2 -2.1l-2.5 -0.5l-1.4 -1.7M591.5 238.6l-1.3 1.9l-2.7 0.4l-0.9 2.4l-1.8 1.3M584.8 244.6l0.7 2.6l-0.2 2.6M595.3 252.9l-0.9 -1.3M584.2 251.9l1.1 -2.1M606.2 243.7l-2.5 0.6l-2.2 -1.8l-2.6 1.7l-2.3 -1.3M583.6 227.9l2.1 -0.4l2 0.3l1.6 2.4l2.1 -0.6M572.8 239.5l2.2 0.6l1.5 1.9l2.8 -0.9l1.3 2.3l2.3 0.2l1.9 1M591.4 229.6l-0.6 2.2l0.1 2.3l0.6 2.2l0 2.3M573.5 190.3l0.3 2.2l-1.2 2.2l-0.1 2.2l1 2.2M573.5 190.3l2 -0.7l2.2 0.2M577.7 189.8l0.5 0.1M578.2 189.9l0.4 2.2l1.2 1.8l1.9 1.4l-0.2 2.5l1 1.8l1.5 1.6M573.5 199.1l1.9 1l0.5 2.4l1.7 1.2l2 0.6M579.6 204.3l1.7 -2.3l2.7 -0.8M572.2 189.5l1.3 0.8M571.7 202l1.8 -2.9M582.9 175.5l-1.3 1.9l-0.4 2.1l-0.5 2.2l-0.1 2.2l-2 1.6l0.2 2.4l-1.1 1.9M590.1 189.1l-2.3 1l-2.4 -0.8l-2.4 0.1l-2.4 -0.3l-2.4 0.8M591.4 202.4l0.6 -0.6M591.4 202.4l-2.5 0l-2.4 -1.2l-2.5 0M581.2 212.6l-0.3 0.3M581.2 212.6l0.3 -2.2l-0.4 -2.1l-0.3 -2l-1.2 -2M581.2 212.6l2.4 0.6l1.9 -1.9l2.2 0M587.7 211.3l0.3 -2.5l1.5 -2l0.5 -2.4l1.4 -2M534.6 237.9l-2.3 1.7l-2.2 1.9M534.6 237.9l-1.1 -2.2l1.1 -2.6l0 -2.4l-1.3 -2.3M520.7 235.4l1.9 1.5l-0.3 2.6l1.3 1.9M520.7 235.4l0.2 -2.3l-0.9 -2.1M530.1 241.5l-3.6 0.7M533.3 228.4l-1.9 -1.2l-2.4 0.6l-1.8 -1.7l-2.5 1l-2 -1.2M523.6 241.4l2.9 0.8M520 231l2.1 -2.1l0.6 -3M545.5 239.1l-2.3 0.8l-2.2 -0.3l-2.2 -0.1l-1.9 -2.3l-2.3 0.7M545.8 242.8l-1.6 1.7l-1.1 2.3l-1.2 2.2l-1.8 1.7M540.1 250.7l-1.9 -1.3l-1.2 -2.1l-2.6 -0.4l-1.5 -1.7l-1.6 -1.6l-1.2 -2.1M535.6 227.4l-2.3 1M515.8 251.2l0.9 -1.9l1.7 -1.4l1.9 -1.1l1.4 -1.6l-0.1 -2.7l2 -1.1M508.2 241.7l1.7 -1.1l1.9 -0.7l2 -0.4l1.5 -1.6l1.5 -1.5l2 -0.4l1.9 -0.6M508.6 230.9l2.3 -0.9l2.3 -0.1l2.2 0.5l2.3 1.4l2.3 -0.8M535.3 257l-3.2 1.1M535.3 257l2.3 -1.1l1.2 -2l1.1 -2.1M532.1 258.1l-0.5 -2.1l-1.6 -1.6l-0.1 -2.2l0.1 -2.3l-0.6 -2l-2 -1.6l0.8 -2.5l-1.7 -1.6M539.9 251.8l0.2 -1.1M521.8 219.9l1.2 1.9l-1 2.2l0.7 1.9M532.1 258.1l-0.6 0.5M571.1 566.4l0.2 2.4l-2.2 1.7l-0.4 2.3l-1.1 2.1l0 2.4M571.1 566.4l-2.4 -1.2l-2.4 -1.1M566.3 564.1l-2.2 0.5l-1.8 1.2M562.4 576.4l2.5 1.1l2.7 -0.2M578.3 566.5l-2.4 0.7l-2.4 -1.1l-2.4 0.3M573.2 581.1l-2.3 -0.7l-1.9 -1.2l-1.4 -1.9M567.9 549.5l-0.1 2.1l-0.4 2.1l-0.7 2l1.2 2.3l-2.2 1.8l0.9 2.3l-0.3 2M592.8 215.6l1.7 -1.7l2.3 -0.3l2.1 -0.7l2.1 -0.7l2.2 -0.6l1.6 -1.7M592.8 215.6l-0.5 2.1l0 2l0.6 2l0.2 2.1l0.9 2l-0.1 2.1M593.9 227.9l2 -1l2.1 0.2l2.1 1l2.1 -1.5l2 0.1l2.2 0.7M607.3 213.8l-0.8 -2.2l-1.7 -1.7M607.3 213.8l0.4 2.4l0.1 2.3l-0.5 2.5l1.8 2.2l-0.7 2.4M608.4 225.6l-2 1.8M587.7 211.3l1.7 1.4l1.3 2l2.1 0.9M604.8 209.7l0 0.2M591.4 229.6l2.5 -1.7M607.4 237.4l0.8 -2.1l-1.5 -1.9l0.8 -2.1l-1.7 -1.8l0.6 -2.1M623.1 210.7l-1.8 1l-2.3 -0.9l-1.6 2.1l-2 0.2l-2.3 -1l-1.8 1.4l-2 0.4l-2 -0.1M618.4 226.2l-2.6 0.7l-2.5 -0.2l-2.4 -0.3l-2.5 -0.8M551.6 257.7l2.2 -1.4l2.2 -1.3M551.6 257.7l-0.7 1.9l-0.6 2l-0.5 2l-1 1.9l-1.5 1.5M556 255l0.1 2.2l2.3 1.3l-0.3 2.4l2.2 1.4l0.3 2.1l0.5 2.1M547.4 267.2l-0.1 -0.2M547.4 267.2l2.4 0.6l1.5 1.9l1.5 1.9l2.2 0.9l2 1.2M557 273.7l1.8 -1.3l1 -1.9l0.9 -1.9l0.4 -2.1M558.3 251.3l-0.2 2.4l-2.1 1.3M539.9 251.8l1.5 1.9l1.9 1l2.8 -0.7l1.3 2.4l1.8 1.2l2.4 0.1M535.3 257l1.8 1.3l2.1 1.1l0.8 2.5l1.7 1.4l2 1.1l2 1.1l1.6 1.5M568.7 263.7l-1.9 0.7l-2.1 0.2l-1.6 1.3l-2 0.6M541.1 272.4l1.3 -1.7l1.2 -1.7l2.7 0.2l1.1 -2M558.1 277.1l-1.1 -3.4" fill="none" stroke="#9A948C" stroke-opacity="0.42" stroke-width="0.65"/>
<path d="M582.9 496.8 L587.6 496.8 L590.66 496.06 L593.4 494.5 L597.03 494.39 L600.5 493.3 L603.09 494.58 L606.09 494.38 L608.7 495.6 L611.67 495.85 L614.5 496.8 L617.21 494.65 L620.4 493.3 L622.3 490.56 L625 488.6 L627.69 486.55 L629.8 483.9 L633.3 483.3 L634.59 480.76 L635.33 478.03 L636.49 475.45 L637.21 472.71 L638 470 L638.54 467.36 L639.11 464.73 L639.89 462.16 L641.43 459.82 L641.58 457.06 L642.7 454.6 L646.2 455.2 L647.3 458.1 L646.35 461.13 L645 464 L646.2 466.3 L649.08 465.66 L652 465.2 L654.96 466.31 L657.48 468.15 L660 470 L661.72 472.16 L662.78 474.74 L664.63 476.81 L666 479.2 L667.87 477.46 L670.34 476.5 L672 474.5 L673 471.67 L674.4 468.97 L675 466 L677.74 464.62 L680.06 462.51 L683 461.5 L686.49 461.15 L690 461 L692.94 460.67 L695.9 460.5 L698.9 459.86 L701.7 458.6 L704.22 457.14 L707.01 456.22 L709.5 454.7 L707.6 450.8 L710.5 447.9 L713.44 448.39 L716.4 448.8 L717.55 445.75 L719.3 443 L723.2 442 L725.86 444.31 L729 445.9 L730.45 448.16 L731 450.8 L733.51 451.81 L736.29 451.68 L738.8 452.7 L742.17 451.66 L745.7 451.8 L746.31 448.74 L747.6 445.9 L748.57 443.04 L749.49 440.16 L749.6 437.1 L750.5 434.2 L753.26 432.64 L756.4 432.2 L758.4 429.3 L760.33 427.33 L762.26 425.36 L764.2 423.4 L766.2 425.4 L768.42 427.15 L771 428.3 L774.5 428.43 L777.9 429.3 L779.85 427.35 L781.8 425.4 L782.57 421.95 L783.7 418.6" fill="none" stroke="#6E6E6E" stroke-width="1.7" stroke-linejoin="round"/>
</g>
<use href="#mo" fill="none" stroke="#5E5E5E" stroke-width="2.3" stroke-linejoin="round"/>
<text x="127.6" y="145.7" font-size="12" font-weight="bold" text-anchor="start" fill="#000" textLength="242.5" lengthAdjust="spacingAndGlyphs">Obce s velkým finančním objemem dotací</text>
<path d="M142.3 189.2 A57 28.7 0 0 1 28.3 189.2 L28.3 198.6 A57 28.7 0 0 0 142.3 198.6 Z" fill="#6A6492"/><path d="M28.3 189.2 L28.3 198.6 A57 28.7 0 0 0 142.3 198.6 L142.3 189.2" fill="none" stroke="#6a6a6a" stroke-width="0.6"/><path d="M85.3 189.2 L85.3 160.5 A57 28.7 0 0 1 141.88 185.7 Z" fill="#D2FFC0" stroke="#6a6a6a" stroke-width="0.6" stroke-linejoin="round"/><path d="M85.3 189.2 L141.88 185.7 A57 28.7 0 1 1 28.61 186.2 Z" fill="#C8C0FF" stroke="#6a6a6a" stroke-width="0.6" stroke-linejoin="round"/><path d="M85.3 189.2 L28.61 186.2 A57 28.7 0 0 1 58.54 163.86 Z" fill="#B088D0" stroke="#6a6a6a" stroke-width="0.6" stroke-linejoin="round"/><path d="M85.3 189.2 L58.54 163.86 A57 28.7 0 0 1 85.3 160.5 Z" fill="#FFCC80" stroke="#6a6a6a" stroke-width="0.6" stroke-linejoin="round"/>
<path d="M294.8 188.7 A46.5 22.8 0 0 1 201.8 188.7 L201.8 198.7 A46.5 22.8 0 0 0 294.8 198.7 Z" fill="#8A8470"/><path d="M201.8 188.7 L201.8 198.7 A46.5 22.8 0 0 0 294.8 198.7 L294.8 188.7" fill="none" stroke="#6a6a6a" stroke-width="0.6"/><path d="M248.3 188.7 L248.3 165.9 A46.5 22.8 0 0 1 250.73 165.93 Z" fill="#D2FFC0" stroke="#6a6a6a" stroke-width="0.6" stroke-linejoin="round"/><path d="M248.3 188.7 L250.73 165.93 A46.5 22.8 0 0 1 259.55 166.58 Z" fill="#B088D0" stroke="#6a6a6a" stroke-width="0.6" stroke-linejoin="round"/><path d="M248.3 188.7 L259.55 166.58 A46.5 22.8 0 1 1 203.6 182.42 Z" fill="#FFF4D0" stroke="#6a6a6a" stroke-width="0.6" stroke-linejoin="round"/><path d="M248.3 188.7 L203.6 182.42 A46.5 22.8 0 0 1 248.3 165.9 Z" fill="#FFCC80" stroke="#6a6a6a" stroke-width="0.6" stroke-linejoin="round"/>
<path d="M445.2 187.5 A46.2 23.2 0 0 1 396.58 210.67 L396.58 219.67 A46.2 23.2 0 0 0 445.2 196.5 Z" fill="#718D67"/><path d="M396.58 210.67 A46.2 23.2 0 0 1 352.8 187.5 L352.8 196.5 A46.2 23.2 0 0 0 396.58 219.67 Z" fill="#6A6492"/><path d="M352.8 187.5 L352.8 196.5 A46.2 23.2 0 0 0 445.2 196.5 L445.2 187.5" fill="none" stroke="#6a6a6a" stroke-width="0.6"/><path d="M399 187.5 L399 164.3 A46.2 23.2 0 1 1 396.58 210.67 Z" fill="#D2FFC0" stroke="#6a6a6a" stroke-width="0.6" stroke-linejoin="round"/><path d="M399 187.5 L396.58 210.67 A46.2 23.2 0 0 1 362.59 173.22 Z" fill="#C8C0FF" stroke="#6a6a6a" stroke-width="0.6" stroke-linejoin="round"/><path d="M399 187.5 L362.59 173.22 A46.2 23.2 0 0 1 394.97 164.39 Z" fill="#B088D0" stroke="#6a6a6a" stroke-width="0.6" stroke-linejoin="round"/><path d="M399 187.5 L394.97 164.39 A46.2 23.2 0 0 1 399 164.3 Z" fill="#70A8F0" stroke="#6a6a6a" stroke-width="0.6" stroke-linejoin="round"/>
<text x="85.6" y="244.8" font-size="12" font-weight="normal" text-anchor="middle" fill="#111" >Olomouc 704 mil. Kč</text>
<text x="248.4" y="244.9" font-size="12" font-weight="normal" text-anchor="middle" fill="#111" >Kroměříž 460 mil. Kč</text>
<text x="400" y="244.9" font-size="12" font-weight="normal" text-anchor="middle" fill="#111" >Zlín 456 mil. Kč</text>
<path d="M125.9 302.1 A40.3 19.9 0 0 1 45.3 302.1 L45.3 311.5 A40.3 19.9 0 0 0 125.9 311.5 Z" fill="#8A8470"/><path d="M45.3 302.1 L45.3 311.5 A40.3 19.9 0 0 0 125.9 311.5 L125.9 302.1" fill="none" stroke="#6a6a6a" stroke-width="0.6"/><ellipse cx="85.6" cy="302.1" rx="40.3" ry="19.9" fill="#FFF4D0" stroke="#6a6a6a" stroke-width="0.6"/>
<path d="M230.9 302 A25.2 12.5 0 0 1 180.81 303.96 L180.81 311.46 A25.2 12.5 0 0 0 230.9 309.5 Z" fill="#718D67"/><path d="M180.81 303.96 A25.2 12.5 0 0 1 180.5 302 L180.5 309.5 A25.2 12.5 0 0 0 180.81 311.46 Z" fill="#8C7048"/><path d="M180.5 302 L180.5 309.5 A25.2 12.5 0 0 0 230.9 309.5 L230.9 302" fill="none" stroke="#6a6a6a" stroke-width="0.6"/><path d="M205.7 302 L205.7 289.5 A25.2 12.5 0 1 1 180.81 303.96 Z" fill="#D2FFC0" stroke="#6a6a6a" stroke-width="0.6" stroke-linejoin="round"/><path d="M205.7 302 L180.81 303.96 A25.2 12.5 0 0 1 205.7 289.5 Z" fill="#FFCC80" stroke="#6a6a6a" stroke-width="0.6" stroke-linejoin="round"/>
<path d="M329.7 301.9 A22.5 11.1 0 0 1 284.7 301.9 L284.7 309.4 A22.5 11.1 0 0 0 329.7 309.4 Z" fill="#8C7048"/><path d="M284.7 301.9 L284.7 309.4 A22.5 11.1 0 0 0 329.7 309.4 L329.7 301.9" fill="none" stroke="#6a6a6a" stroke-width="0.6"/><path d="M307.2 301.9 L307.2 290.8 A22.5 11.1 0 0 1 311.88 291.04 Z" fill="#D2FFC0" stroke="#6a6a6a" stroke-width="0.6" stroke-linejoin="round"/><path d="M307.2 301.9 L311.88 291.04 A22.5 11.1 0 1 1 307.2 290.8 Z" fill="#FFCC80" stroke="#6a6a6a" stroke-width="0.6" stroke-linejoin="round"/>
<path d="M420.7 302.5 A18.6 9.5 0 0 1 383.5 302.5 L383.5 308.9 A18.6 9.5 0 0 0 420.7 308.9 Z" fill="#8C7048"/><path d="M383.5 302.5 L383.5 308.9 A18.6 9.5 0 0 0 420.7 308.9 L420.7 302.5" fill="none" stroke="#6a6a6a" stroke-width="0.6"/><path d="M402.1 302.5 L402.1 293 A18.6 9.5 0 0 1 408.46 293.57 Z" fill="#D2FFC0" stroke="#6a6a6a" stroke-width="0.6" stroke-linejoin="round"/><path d="M402.1 302.5 L408.46 293.57 A18.6 9.5 0 1 1 400.48 293.04 Z" fill="#FFCC80" stroke="#6a6a6a" stroke-width="0.6" stroke-linejoin="round"/><path d="M402.1 302.5 L400.48 293.04 A18.6 9.5 0 0 1 402.1 293 Z" fill="#FFA800" stroke="#6a6a6a" stroke-width="0.6" stroke-linejoin="round"/>
<text x="88" y="348.5" font-size="12" font-weight="normal" text-anchor="middle" fill="#111" >Velehrad</text>
<text x="88" y="362" font-size="12" font-weight="normal" text-anchor="middle" fill="#111" >343 mil. Kč</text>
<text x="206.3" y="348.5" font-size="12" font-weight="normal" text-anchor="middle" fill="#111" >Přerov</text>
<text x="206.3" y="362" font-size="12" font-weight="normal" text-anchor="middle" fill="#111" >139 mil. Kč</text>
<text x="306.7" y="348.5" font-size="12" font-weight="normal" text-anchor="middle" fill="#111" >Vsetín</text>
<text x="306.7" y="362" font-size="12" font-weight="normal" text-anchor="middle" fill="#111" >107 mil. Kč</text>
<text x="401.2" y="348.5" font-size="12" font-weight="normal" text-anchor="middle" fill="#111" >Uherské Hradiště</text>
<text x="401.2" y="362" font-size="12" font-weight="normal" text-anchor="middle" fill="#111" >72 mil. Kč</text>
<clipPath id="e75"><ellipse cx="46" cy="405.5" rx="15.5" ry="7.8"/></clipPath>
<path d="M61.5 405.5 A15.5 7.8 0 0 1 30.5 405.5 L30.5 410.5 A15.5 7.8 0 0 0 61.5 410.5 Z" fill="#666666"/><path d="M30.5 405.5 L30.5 410.5 A15.5 7.8 0 0 0 61.5 410.5 L61.5 405.5" fill="none" stroke="#555" stroke-width="0.6"/><ellipse cx="46" cy="405.5" rx="15.5" ry="7.8" fill="#E2E2E2" stroke="#555" stroke-width="0.6"/><g clip-path="url(#e75)"><line x1="28.12" y1="414.86" x2="46.84" y2="396.14" stroke="#555" stroke-width="0.8"/><line x1="36.64" y1="414.86" x2="55.36" y2="396.14" stroke="#555" stroke-width="0.8"/><line x1="45.16" y1="414.86" x2="63.88" y2="396.14" stroke="#555" stroke-width="0.8"/></g>
<text x="70" y="413.6" font-size="12" font-weight="normal" text-anchor="start" fill="#111" >Obce s velkým finančním objemem dotací</text>
<rect x="29.8" y="423" width="31.8" height="13.8" fill="#9EC8FA" stroke="#c8c8c8" stroke-width="0.6"/>
<text x="70" y="434.7" font-size="12" font-weight="normal" text-anchor="start" fill="#111" >Obce, ve kterých byl financován CzechPOINT</text>
<text x="28.2" y="457.9" font-size="12" font-weight="bold" text-anchor="start" fill="#000" >Oblast intervence</text>
<rect x="29.6" y="467.6" width="32" height="13.7" fill="#D2FFC0" stroke="#999" stroke-width="0.6"/>
<text x="70.1" y="478.7" font-size="12" font-weight="normal" text-anchor="start" fill="#111" >2.1 - Zavádění ICT v územní veřejné správě</text>
<rect x="29.6" y="486.71" width="32" height="13.7" fill="#F0DCFF" stroke="#999" stroke-width="0.6"/>
<text x="70.1" y="497.81" font-size="12" font-weight="normal" text-anchor="start" fill="#111" >3.1 - Služby v oblasti sociální integrace</text>
<rect x="29.6" y="505.82" width="32" height="13.7" fill="#C8C0FF" stroke="#999" stroke-width="0.6"/>
<text x="70.1" y="516.92" font-size="12" font-weight="normal" text-anchor="start" fill="#111" >3.2 - Služby v oblasti veřejného zdraví</text>
<rect x="29.6" y="524.93" width="32" height="13.7" fill="#B088D0" stroke="#999" stroke-width="0.6"/>
<text x="70.1" y="536.03" font-size="12" font-weight="normal" text-anchor="start" fill="#111" >3.4 - Služby v oblasti bezpečnosti, prevence a řešení rizik</text>
<rect x="29.6" y="544.04" width="32" height="13.7" fill="#70A8F0" stroke="#999" stroke-width="0.6"/>
<text x="70.1" y="555.14" font-size="12" font-weight="normal" text-anchor="start" fill="#111" >4.1 - Národní podpora cestovního ruchu</text>
<rect x="29.6" y="563.15" width="32" height="13.7" fill="#FFF4D0" stroke="#999" stroke-width="0.6"/>
<text x="70.1" y="574.25" font-size="12" font-weight="normal" text-anchor="start" fill="#111" >5.1 - Národní podpora využití potenciálu kulturního dědictví</text>
<rect x="29.6" y="582.26" width="32" height="13.7" fill="#FFCC80" stroke="#999" stroke-width="0.6"/>
<text x="70.1" y="593.36" font-size="12" font-weight="normal" text-anchor="start" fill="#111" >5.2 - Zlepšení prostředí v problémových sídlištích</text>
<rect x="29.6" y="601.37" width="32" height="13.7" fill="#FFA800" stroke="#999" stroke-width="0.6"/>
<text x="70.1" y="612.47" font-size="12" font-weight="normal" text-anchor="start" fill="#111" >5.3 - Modernizace a rozvoj systémů tvorby územních politik</text>
<rect x="28.9" y="658.7" width="9.1" height="20.3" fill="#DCDCDC"/>
<rect x="41.6" y="647.4" width="9.4" height="31.6" fill="#C0302A"/>
<rect x="54" y="635.2" width="9.4" height="43.8" fill="#1E50A8"/>
<text x="68" y="654.7" font-size="9.9" font-weight="bold" text-anchor="start" fill="#1a1a1a" letter-spacing="1.1" textLength="77.3" lengthAdjust="spacingAndGlyphs">INTEGROVANÝ</text>
<text x="68" y="666.9" font-size="9.9" font-weight="bold" text-anchor="start" fill="#1a1a1a" letter-spacing="1.1" textLength="55.5" lengthAdjust="spacingAndGlyphs">OPERAČNÍ</text>
<text x="68" y="679" font-size="9.9" font-weight="bold" text-anchor="start" fill="#1a1a1a" letter-spacing="1.1" textLength="53.4" lengthAdjust="spacingAndGlyphs">PROGRAM</text>
<rect x="162.5" y="634.5" width="67.3" height="44.1" fill="#2150A0"/>
<polygon points="196.2,640 196.79,641.59 198.48,641.66 197.15,642.71 197.61,644.34 196.2,643.4 194.79,644.34 195.25,642.71 193.92,641.66 195.61,641.59" fill="#FFE600"/><polygon points="203.4,641.93 203.99,643.52 205.68,643.59 204.35,644.64 204.81,646.27 203.4,645.33 201.99,646.27 202.45,644.64 201.12,643.59 202.81,643.52" fill="#FFE600"/><polygon points="208.67,647.2 209.26,648.79 210.95,648.86 209.62,649.91 210.08,651.54 208.67,650.6 207.26,651.54 207.72,649.91 206.39,648.86 208.08,648.79" fill="#FFE600"/><polygon points="210.6,654.4 211.19,655.99 212.88,656.06 211.55,657.11 212.01,658.74 210.6,657.8 209.19,658.74 209.65,657.11 208.32,656.06 210.01,655.99" fill="#FFE600"/><polygon points="208.67,661.6 209.26,663.19 210.95,663.26 209.62,664.31 210.08,665.94 208.67,665 207.26,665.94 207.72,664.31 206.39,663.26 208.08,663.19" fill="#FFE600"/><polygon points="203.4,666.87 203.99,668.46 205.68,668.53 204.35,669.58 204.81,671.21 203.4,670.27 201.99,671.21 202.45,669.58 201.12,668.53 202.81,668.46" fill="#FFE600"/><polygon points="196.2,668.8 196.79,670.39 198.48,670.46 197.15,671.51 197.61,673.14 196.2,672.2 194.79,673.14 195.25,671.51 193.92,670.46 195.61,670.39" fill="#FFE600"/><polygon points="189,666.87 189.59,668.46 191.28,668.53 189.95,669.58 190.41,671.21 189,670.27 187.59,671.21 188.05,669.58 186.72,668.53 188.41,668.46" fill="#FFE600"/><polygon points="183.73,661.6 184.32,663.19 186.01,663.26 184.68,664.31 185.14,665.94 183.73,665 182.32,665.94 182.78,664.31 181.45,663.26 183.14,663.19" fill="#FFE600"/><polygon points="181.8,654.4 182.39,655.99 184.08,656.06 182.75,657.11 183.21,658.74 181.8,657.8 180.39,658.74 180.85,657.11 179.52,656.06 181.21,655.99" fill="#FFE600"/><polygon points="183.73,647.2 184.32,648.79 186.01,648.86 184.68,649.91 185.14,651.54 183.73,650.6 182.32,651.54 182.78,649.91 181.45,648.86 183.14,648.79" fill="#FFE600"/><polygon points="189,641.93 189.59,643.52 191.28,643.59 189.95,644.64 190.41,646.27 189,645.33 187.59,646.27 188.05,644.64 186.72,643.59 188.41,643.52" fill="#FFE600"/>
<text x="236.9" y="654.7" font-size="8.4" font-weight="normal" text-anchor="start" fill="#3a3a3a" textLength="72.1" lengthAdjust="spacingAndGlyphs">EVROPSKÁ UNIE</text>
<text x="236.9" y="666.9" font-size="8.4" font-weight="normal" text-anchor="start" fill="#3a3a3a" textLength="191.2" lengthAdjust="spacingAndGlyphs">EVROPSKÝ FOND PRO REGIONÁLNÍ ROZVOJ</text>
<text x="236.9" y="679" font-size="8.4" font-weight="normal" text-anchor="start" fill="#3a3a3a" textLength="107.8" lengthAdjust="spacingAndGlyphs">ŠANCE PRO VÁŠ ROZVOJ</text>
<path d="M446.7 660.2 C452 656 462 650 471.3 646.9 C478 645 490 643.8 497.3 645.5 C501 646.5 503 649 502.8 652.4 C501 655 498 657 496 657.8 C494 658.6 492.5 658.8 491.8 658.5 C490.8 657 490 655.6 489.1 655.1 C486 653.8 478 653.6 471.3 654.4 C463 655.3 453 657.6 446.7 660.2 Z" fill="#1E9444"/>
<path d="M463.8 651.8 L472.7 650.5 L472.4 651.6 L464.5 652.9 Z M477.5 649.3 L487.7 649.2 L487.5 650.6 L477.5 650.6 Z M491.8 651.3 L498 652.6 L497.2 653.8 L491.5 652.6 Z" fill="#fff" opacity="0.9"/>
<path d="M501.4 643.1 C505 645 508 649 508.9 655.1 C509 659 507 662 505.5 663.5 C502 666 496 668 488.4 668.8 C480 669.3 474 668.5 470 667.4 C474 666.3 478 666 481.6 665.3 C486 664.5 490 663.5 491.8 662.6 C495 661 497 660 498.7 658.5 C501 656 503 654.5 503.5 653 C504 650.5 504 649 503.5 648.3 C503 646 502 644.5 501.4 643.1 Z" fill="#F2E43A"/>
<g fill="#2A9A44"><ellipse cx="502.8" cy="658" rx="2.6" ry="1.4"/><ellipse cx="497.5" cy="662.6" rx="2.8" ry="1.5"/><ellipse cx="488" cy="666.2" rx="3" ry="1.6"/></g>
<path d="M473.4 655.4 C469 655.5 464 655.9 461.1 656.5 C456 657.8 452 659.5 450.8 661.2 C448.5 663.5 448 665.5 448.8 667.4 C450 670.5 451.5 672 452.9 673.5 C456 675.8 460 676.7 464.5 677 C470 677.5 474 677.5 478.2 677 C484 676.4 488 675 491.8 673.5 C496 671.8 500 669.8 504.8 667.4 C500 669 496 670 491.8 670.8 C487 671.6 483 671.9 478.2 671.5 C475 671.2 472 670.2 470 668.8 C468 667.5 467.3 666 467.2 664 C467.2 662 467.6 660.5 468.6 659.2 C470 657.5 471.5 656.3 473.4 655.4 Z" fill="#21489A"/>
<polygon points="460.7,658.4 461.32,660.05 463.08,660.13 461.7,661.22 462.17,662.92 460.7,661.95 459.23,662.92 459.7,661.22 458.32,660.13 460.08,660.05" fill="#FFE600"/>
<polygon points="458,666.6 458.62,668.25 460.38,668.33 459,669.42 459.47,671.12 458,670.15 456.53,671.12 457,669.42 455.62,668.33 457.38,668.25" fill="#FFE600"/>
<polygon points="466.9,670.4 467.52,672.05 469.28,672.13 467.9,673.22 468.37,674.92 466.9,673.95 465.43,674.92 465.9,673.22 464.52,672.13 466.28,672.05" fill="#FFE600"/>
<rect x="519.2" y="641.5" width="1.2" height="37" fill="#555"/>
<text x="530.2" y="649.3" font-size="11.6" font-weight="normal" text-anchor="start" fill="#1a1a1a" textLength="95.3" lengthAdjust="spacing" stroke="#1a1a1a" stroke-width="0.45">MINISTERSTVO</text>
<text x="530.2" y="664.5" font-size="11.6" font-weight="normal" text-anchor="start" fill="#1a1a1a" textLength="75.4" lengthAdjust="spacing" stroke="#1a1a1a" stroke-width="0.45">PRO MÍSTNÍ</text>
<text x="530.2" y="678.6" font-size="11.6" font-weight="normal" text-anchor="start" fill="#1a1a1a" textLength="71.5" lengthAdjust="spacing" stroke="#1a1a1a" stroke-width="0.45">ROZVOJ ČR</text>
<path d="M815.7 238.6 A29.2 14.6 0 0 1 807.15 248.92 L807.15 260.32 A29.2 14.6 0 0 0 815.7 250 Z" fill="#8F5D00"/><path d="M807.15 248.92 A29.2 14.6 0 0 1 786.5 253.2 L786.5 264.6 A29.2 14.6 0 0 0 807.15 260.32 Z" fill="#8C7048"/><path d="M786.5 253.2 A29.2 14.6 0 0 1 765.85 248.92 L765.85 260.32 A29.2 14.6 0 0 0 786.5 264.6 Z" fill="#8A8470"/><path d="M765.85 248.92 A29.2 14.6 0 0 1 757.3 238.6 L757.3 250 A29.2 14.6 0 0 0 765.85 260.32 Z" fill="#3C5C8C"/><path d="M757.3 238.6 L757.3 250 A29.2 14.6 0 0 0 815.7 250 L815.7 238.6" fill="none" stroke="#6a6a6a" stroke-width="0.5"/><path d="M786.5 238.6 L786.5 224 A29.2 14.6 0 0 1 807.15 228.28 Z" fill="#F0DCFF" stroke="#6a6a6a" stroke-width="0.5" stroke-linejoin="round"/><path d="M786.5 238.6 L807.15 228.28 A29.2 14.6 0 0 1 815.7 238.6 Z" fill="#D2FFC0" stroke="#6a6a6a" stroke-width="0.5" stroke-linejoin="round"/><path d="M786.5 238.6 L815.7 238.6 A29.2 14.6 0 0 1 807.15 248.92 Z" fill="#FFA800" stroke="#6a6a6a" stroke-width="0.5" stroke-linejoin="round"/><path d="M786.5 238.6 L807.15 248.92 A29.2 14.6 0 0 1 786.5 253.2 Z" fill="#FFCC80" stroke="#6a6a6a" stroke-width="0.5" stroke-linejoin="round"/><path d="M786.5 238.6 L786.5 253.2 A29.2 14.6 0 0 1 765.85 248.92 Z" fill="#FFF4D0" stroke="#6a6a6a" stroke-width="0.5" stroke-linejoin="round"/><path d="M786.5 238.6 L765.85 248.92 A29.2 14.6 0 0 1 757.3 238.6 Z" fill="#70A8F0" stroke="#6a6a6a" stroke-width="0.5" stroke-linejoin="round"/><path d="M786.5 238.6 L757.3 238.6 A29.2 14.6 0 0 1 765.85 228.28 Z" fill="#B088D0" stroke="#6a6a6a" stroke-width="0.5" stroke-linejoin="round"/><path d="M786.5 238.6 L765.85 228.28 A29.2 14.6 0 0 1 786.5 224 Z" fill="#C8C0FF" stroke="#6a6a6a" stroke-width="0.5" stroke-linejoin="round"/>
<path d="M876 244.3 A21 10.9 0 0 1 869.85 252.01 L869.85 259.31 A21 10.9 0 0 0 876 251.6 Z" fill="#8F5D00"/><path d="M869.85 252.01 A21 10.9 0 0 1 855 255.2 L855 262.5 A21 10.9 0 0 0 869.85 259.31 Z" fill="#8C7048"/><path d="M855 255.2 A21 10.9 0 0 1 840.15 252.01 L840.15 259.31 A21 10.9 0 0 0 855 262.5 Z" fill="#8A8470"/><path d="M840.15 252.01 A21 10.9 0 0 1 834 244.3 L834 251.6 A21 10.9 0 0 0 840.15 259.31 Z" fill="#3C5C8C"/><path d="M834 244.3 L834 251.6 A21 10.9 0 0 0 876 251.6 L876 244.3" fill="none" stroke="#6a6a6a" stroke-width="0.5"/><path d="M855 244.3 L855 233.4 A21 10.9 0 0 1 869.85 236.59 Z" fill="#F0DCFF" stroke="#6a6a6a" stroke-width="0.5" stroke-linejoin="round"/><path d="M855 244.3 L869.85 236.59 A21 10.9 0 0 1 876 244.3 Z" fill="#D2FFC0" stroke="#6a6a6a" stroke-width="0.5" stroke-linejoin="round"/><path d="M855 244.3 L876 244.3 A21 10.9 0 0 1 869.85 252.01 Z" fill="#FFA800" stroke="#6a6a6a" stroke-width="0.5" stroke-linejoin="round"/><path d="M855 244.3 L869.85 252.01 A21 10.9 0 0 1 855 255.2 Z" fill="#FFCC80" stroke="#6a6a6a" stroke-width="0.5" stroke-linejoin="round"/><path d="M855 244.3 L855 255.2 A21 10.9 0 0 1 840.15 252.01 Z" fill="#FFF4D0" stroke="#6a6a6a" stroke-width="0.5" stroke-linejoin="round"/><path d="M855 244.3 L840.15 252.01 A21 10.9 0 0 1 834 244.3 Z" fill="#70A8F0" stroke="#6a6a6a" stroke-width="0.5" stroke-linejoin="round"/><path d="M855 244.3 L834 244.3 A21 10.9 0 0 1 840.15 236.59 Z" fill="#B088D0" stroke="#6a6a6a" stroke-width="0.5" stroke-linejoin="round"/><path d="M855 244.3 L840.15 236.59 A21 10.9 0 0 1 855 233.4 Z" fill="#C8C0FF" stroke="#6a6a6a" stroke-width="0.5" stroke-linejoin="round"/>
<path d="M914 252.5 A9.3 4.5 0 0 1 911.28 255.68 L911.28 259.48 A9.3 4.5 0 0 0 914 256.3 Z" fill="#8F5D00"/><path d="M911.28 255.68 A9.3 4.5 0 0 1 904.7 257 L904.7 260.8 A9.3 4.5 0 0 0 911.28 259.48 Z" fill="#8C7048"/><path d="M904.7 257 A9.3 4.5 0 0 1 898.12 255.68 L898.12 259.48 A9.3 4.5 0 0 0 904.7 260.8 Z" fill="#8A8470"/><path d="M898.12 255.68 A9.3 4.5 0 0 1 895.4 252.5 L895.4 256.3 A9.3 4.5 0 0 0 898.12 259.48 Z" fill="#3C5C8C"/><path d="M895.4 252.5 L895.4 256.3 A9.3 4.5 0 0 0 914 256.3 L914 252.5" fill="none" stroke="#6a6a6a" stroke-width="0.5"/><path d="M904.7 252.5 L904.7 248 A9.3 4.5 0 0 1 911.28 249.32 Z" fill="#F0DCFF" stroke="#6a6a6a" stroke-width="0.5" stroke-linejoin="round"/><path d="M904.7 252.5 L911.28 249.32 A9.3 4.5 0 0 1 914 252.5 Z" fill="#D2FFC0" stroke="#6a6a6a" stroke-width="0.5" stroke-linejoin="round"/><path d="M904.7 252.5 L914 252.5 A9.3 4.5 0 0 1 911.28 255.68 Z" fill="#FFA800" stroke="#6a6a6a" stroke-width="0.5" stroke-linejoin="round"/><path d="M904.7 252.5 L911.28 255.68 A9.3 4.5 0 0 1 904.7 257 Z" fill="#FFCC80" stroke="#6a6a6a" stroke-width="0.5" stroke-linejoin="round"/><path d="M904.7 252.5 L904.7 257 A9.3 4.5 0 0 1 898.12 255.68 Z" fill="#FFF4D0" stroke="#6a6a6a" stroke-width="0.5" stroke-linejoin="round"/><path d="M904.7 252.5 L898.12 255.68 A9.3 4.5 0 0 1 895.4 252.5 Z" fill="#70A8F0" stroke="#6a6a6a" stroke-width="0.5" stroke-linejoin="round"/><path d="M904.7 252.5 L895.4 252.5 A9.3 4.5 0 0 1 898.12 249.32 Z" fill="#B088D0" stroke="#6a6a6a" stroke-width="0.5" stroke-linejoin="round"/><path d="M904.7 252.5 L898.12 249.32 A9.3 4.5 0 0 1 904.7 248 Z" fill="#C8C0FF" stroke="#6a6a6a" stroke-width="0.5" stroke-linejoin="round"/>
<path d="M946.2 253.8 A6.3 3.2 0 0 1 944.35 256.06 L944.35 259.06 A6.3 3.2 0 0 0 946.2 256.8 Z" fill="#8F5D00"/><path d="M944.35 256.06 A6.3 3.2 0 0 1 939.9 257 L939.9 260 A6.3 3.2 0 0 0 944.35 259.06 Z" fill="#8C7048"/><path d="M939.9 257 A6.3 3.2 0 0 1 935.45 256.06 L935.45 259.06 A6.3 3.2 0 0 0 939.9 260 Z" fill="#8A8470"/><path d="M935.45 256.06 A6.3 3.2 0 0 1 933.6 253.8 L933.6 256.8 A6.3 3.2 0 0 0 935.45 259.06 Z" fill="#3C5C8C"/><path d="M933.6 253.8 L933.6 256.8 A6.3 3.2 0 0 0 946.2 256.8 L946.2 253.8" fill="none" stroke="#6a6a6a" stroke-width="0.5"/><path d="M939.9 253.8 L939.9 250.6 A6.3 3.2 0 0 1 944.35 251.54 Z" fill="#F0DCFF" stroke="#6a6a6a" stroke-width="0.5" stroke-linejoin="round"/><path d="M939.9 253.8 L944.35 251.54 A6.3 3.2 0 0 1 946.2 253.8 Z" fill="#D2FFC0" stroke="#6a6a6a" stroke-width="0.5" stroke-linejoin="round"/><path d="M939.9 253.8 L946.2 253.8 A6.3 3.2 0 0 1 944.35 256.06 Z" fill="#FFA800" stroke="#6a6a6a" stroke-width="0.5" stroke-linejoin="round"/><path d="M939.9 253.8 L944.35 256.06 A6.3 3.2 0 0 1 939.9 257 Z" fill="#FFCC80" stroke="#6a6a6a" stroke-width="0.5" stroke-linejoin="round"/><path d="M939.9 253.8 L939.9 257 A6.3 3.2 0 0 1 935.45 256.06 Z" fill="#FFF4D0" stroke="#6a6a6a" stroke-width="0.5" stroke-linejoin="round"/><path d="M939.9 253.8 L935.45 256.06 A6.3 3.2 0 0 1 933.6 253.8 Z" fill="#70A8F0" stroke="#6a6a6a" stroke-width="0.5" stroke-linejoin="round"/><path d="M939.9 253.8 L933.6 253.8 A6.3 3.2 0 0 1 935.45 251.54 Z" fill="#B088D0" stroke="#6a6a6a" stroke-width="0.5" stroke-linejoin="round"/><path d="M939.9 253.8 L935.45 251.54 A6.3 3.2 0 0 1 939.9 250.6 Z" fill="#C8C0FF" stroke="#6a6a6a" stroke-width="0.5" stroke-linejoin="round"/>
<text x="787" y="278.6" font-size="12" font-weight="normal" text-anchor="middle" fill="#111" >10</text>
<text x="854.8" y="278.6" font-size="12" font-weight="normal" text-anchor="middle" fill="#111" >5</text>
<text x="905" y="278.6" font-size="12" font-weight="normal" text-anchor="middle" fill="#111" >1</text>
<text x="933" y="278.6" font-size="12" font-weight="normal" text-anchor="start" fill="#111" >0,5 mil. Kč</text>
<text x="792" y="311.2" font-size="8.8" font-weight="normal" text-anchor="middle" fill="#111" >0</text>
<text x="861.4" y="311.2" font-size="8.8" font-weight="normal" text-anchor="middle" fill="#111" >20</text>
<text x="930" y="311.2" font-size="8.8" font-weight="normal" text-anchor="middle" fill="#111" >40</text>
<text x="940.8" y="311.2" font-size="8.8" font-weight="normal" text-anchor="start" fill="#111" >km</text>
<rect x="792" y="318.3" width="69.4" height="3.2" fill="#000"/>
<rect x="861.4" y="318.5" width="69" height="2.8" fill="#fff" stroke="#000" stroke-width="0.7"/>
<polygon points="880.6,572.6 888.8,581.7 888.8,591 903.8,591 912.5,599.7 903.8,607.4 865.1,607.4 857.4,599.7 866.2,591 872.9,591 872.9,581.7" fill="#1E50A0"/>
<polygon points="880.6,584.2 896,599.7 888.3,607.4 872.9,607.4 865.2,599.7" fill="#fff"/>
<polygon points="880.6,591.9 888.3,599.7 880.6,607.4 872.9,599.7" fill="#E02020"/>
<text x="864.2" y="615.1" font-size="7.6" font-weight="normal" text-anchor="start" fill="#333" textLength="125.8" lengthAdjust="spacingAndGlyphs">CENTRUM PRO REGIONÁLNÍ ROZVOJ</text>
<text x="864.2" y="623.8" font-size="7.6" font-weight="normal" text-anchor="start" fill="#333" textLength="59.5" lengthAdjust="spacingAndGlyphs">ČESKÉ REPUBLIKY</text>
<text x="864.2" y="638.9" font-size="8.7" font-weight="normal" text-anchor="start" fill="#222" textLength="103.5" lengthAdjust="spacingAndGlyphs">Pro MMR vyrobilo CRR ČR</text>
<text x="864.2" y="648.6" font-size="8.7" font-weight="normal" text-anchor="start" fill="#222" textLength="87.6" lengthAdjust="spacingAndGlyphs">Zdroj dat: IS MONIT 7+</text>
<text x="864.2" y="658.3" font-size="8.7" font-weight="normal" text-anchor="start" fill="#222" textLength="125.8" lengthAdjust="spacingAndGlyphs">Zdroj geografických dat: © ČÚZK</text>
<text x="864.2" y="668" font-size="8.7" font-weight="normal" text-anchor="start" fill="#222" textLength="96.1" lengthAdjust="spacingAndGlyphs">© CRR ČR, listopad 2011</text>
<text x="864.2" y="677.7" font-size="8.7" font-weight="normal" text-anchor="start" fill="#222" textLength="40.6" lengthAdjust="spacingAndGlyphs">www.crr.cz</text>
<path d="M738 571 A4 2 0 0 1 730 571 L730 573.6 A4 2 0 0 0 738 573.6 Z" fill="#8F5D00"/><path d="M730 571 L730 573.6 A4 2 0 0 0 738 573.6 L738 571" fill="none" stroke="#6a6a6a" stroke-width="0.6"/><ellipse cx="734" cy="571" rx="4" ry="2" fill="#FFA800" stroke="#6a6a6a" stroke-width="0.6"/>
<path d="M660.9 138.3 A27.2 13.5 0 0 1 609.05 144.01 L609.05 150.21 A27.2 13.5 0 0 0 660.9 144.5 Z" fill="#718D67"/><path d="M609.05 144.01 A27.2 13.5 0 0 1 606.5 138.3 L606.5 144.5 A27.2 13.5 0 0 0 609.05 150.21 Z" fill="#8F5D00"/><path d="M606.5 138.3 L606.5 144.5 A27.2 13.5 0 0 0 660.9 144.5 L660.9 138.3" fill="none" stroke="#6a6a6a" stroke-width="0.6"/><path d="M633.7 138.3 L633.7 124.8 A27.2 13.5 0 1 1 609.05 144.01 Z" fill="#D2FFC0" stroke="#6a6a6a" stroke-width="0.6" stroke-linejoin="round"/><path d="M633.7 138.3 L609.05 144.01 A27.2 13.5 0 0 1 633.7 124.8 Z" fill="#FFA800" stroke="#6a6a6a" stroke-width="0.6" stroke-linejoin="round"/>
<path d="M595.3 233.5 A29.3 14.65 0 0 1 545.28 243.86 L545.28 250.26 A29.3 14.65 0 0 0 595.3 239.9 Z" fill="#718D67"/><path d="M545.28 243.86 A29.3 14.65 0 0 1 536.7 233.5 L536.7 239.9 A29.3 14.65 0 0 0 545.28 250.26 Z" fill="#8F5D00"/><path d="M536.7 233.5 L536.7 239.9 A29.3 14.65 0 0 0 595.3 239.9 L595.3 233.5" fill="none" stroke="#6a6a6a" stroke-width="0.6"/><path d="M566 233.5 L566 218.85 A29.3 14.65 0 1 1 545.28 243.86 Z" fill="#D2FFC0" stroke="#6a6a6a" stroke-width="0.6" stroke-linejoin="round"/><path d="M566 233.5 L545.28 243.86 A29.3 14.65 0 0 1 566 218.85 Z" fill="#FFA800" stroke="#6a6a6a" stroke-width="0.6" stroke-linejoin="round"/>
<path d="M560.2 262.5 A21.6 10.85 0 0 1 517 262.5 L517 268.3 A21.6 10.85 0 0 0 560.2 268.3 Z" fill="#718D67"/><path d="M517 262.5 L517 268.3 A21.6 10.85 0 0 0 560.2 268.3 L560.2 262.5" fill="none" stroke="#6a6a6a" stroke-width="0.6"/><path d="M538.6 262.5 L538.6 251.65 A21.6 10.85 0 1 1 523.33 254.83 Z" fill="#D2FFC0" stroke="#6a6a6a" stroke-width="0.6" stroke-linejoin="round"/><path d="M538.6 262.5 L523.33 254.83 A21.6 10.85 0 0 1 538.6 251.65 Z" fill="#FFA800" stroke="#6a6a6a" stroke-width="0.6" stroke-linejoin="round"/>
<path d="M620.25 311.2 A24.55 12.1 0 0 1 571.15 311.2 L571.15 317.3 A24.55 12.1 0 0 0 620.25 317.3 Z" fill="#718D67"/><path d="M571.15 311.2 L571.15 317.3 A24.55 12.1 0 0 0 620.25 317.3 L620.25 311.2" fill="none" stroke="#6a6a6a" stroke-width="0.6"/><path d="M595.7 311.2 L595.7 299.1 A24.55 12.1 0 1 1 584.55 300.42 Z" fill="#D2FFC0" stroke="#6a6a6a" stroke-width="0.6" stroke-linejoin="round"/><path d="M595.7 311.2 L584.55 300.42 A24.55 12.1 0 0 1 595.7 299.1 Z" fill="#FFA800" stroke="#6a6a6a" stroke-width="0.6" stroke-linejoin="round"/>
<path d="M665.15 331.2 A27.15 13.45 0 0 1 611.55 334.23 L611.55 340.53 A27.15 13.45 0 0 0 665.15 337.5 Z" fill="#718D67"/><path d="M611.55 334.23 A27.15 13.45 0 0 1 610.85 331.2 L610.85 337.5 A27.15 13.45 0 0 0 611.55 340.53 Z" fill="#8F5D00"/><path d="M610.85 331.2 L610.85 337.5 A27.15 13.45 0 0 0 665.15 337.5 L665.15 331.2" fill="none" stroke="#6a6a6a" stroke-width="0.6"/><path d="M638 331.2 L638 317.75 A27.15 13.45 0 1 1 611.55 334.23 Z" fill="#D2FFC0" stroke="#6a6a6a" stroke-width="0.6" stroke-linejoin="round"/><path d="M638 331.2 L611.55 334.23 A27.15 13.45 0 0 1 638 317.75 Z" fill="#FFA800" stroke="#6a6a6a" stroke-width="0.6" stroke-linejoin="round"/>
<path d="M554 374.2 A22.8 11.25 0 0 1 509.08 376.92 L509.08 383.02 A22.8 11.25 0 0 0 554 380.3 Z" fill="#718D67"/><path d="M509.08 376.92 A22.8 11.25 0 0 1 508.4 374.2 L508.4 380.3 A22.8 11.25 0 0 0 509.08 383.02 Z" fill="#8F5D00"/><path d="M508.4 374.2 L508.4 380.3 A22.8 11.25 0 0 0 554 380.3 L554 374.2" fill="none" stroke="#6a6a6a" stroke-width="0.6"/><path d="M531.2 374.2 L531.2 362.95 A22.8 11.25 0 1 1 509.08 376.92 Z" fill="#D2FFC0" stroke="#6a6a6a" stroke-width="0.6" stroke-linejoin="round"/><path d="M531.2 374.2 L509.08 376.92 A22.8 11.25 0 0 1 531.2 362.95 Z" fill="#FFA800" stroke="#6a6a6a" stroke-width="0.6" stroke-linejoin="round"/>
<path d="M765.6 410.8 A26.4 13.2 0 0 1 712.8 410.8 L712.8 416.9 A26.4 13.2 0 0 0 765.6 416.9 Z" fill="#718D67"/><path d="M712.8 410.8 L712.8 416.9 A26.4 13.2 0 0 0 765.6 416.9 L765.6 410.8" fill="none" stroke="#6a6a6a" stroke-width="0.6"/><path d="M739.2 410.8 L739.2 397.6 A26.4 13.2 0 1 1 712.8 410.8 Z" fill="#D2FFC0" stroke="#6a6a6a" stroke-width="0.6" stroke-linejoin="round"/><path d="M739.2 410.8 L712.8 410.8 A26.4 13.2 0 0 1 739.2 397.6 Z" fill="#FFA800" stroke="#6a6a6a" stroke-width="0.6" stroke-linejoin="round"/>
<path d="M601.1 425.4 A19.4 10.1 0 0 1 595.66 432.42 L595.66 437.82 A19.4 10.1 0 0 0 601.1 430.8 Z" fill="#718D67"/><path d="M595.66 432.42 A19.4 10.1 0 0 1 562.3 425.4 L562.3 430.8 A19.4 10.1 0 0 0 595.66 437.82 Z" fill="#8F5D00"/><path d="M562.3 425.4 L562.3 430.8 A19.4 10.1 0 0 0 601.1 430.8 L601.1 425.4" fill="none" stroke="#6a6a6a" stroke-width="0.6"/><path d="M581.7 425.4 L581.7 415.3 A19.4 10.1 0 0 1 595.66 432.42 Z" fill="#D2FFC0" stroke="#6a6a6a" stroke-width="0.6" stroke-linejoin="round"/><path d="M581.7 425.4 L595.66 432.42 A19.4 10.1 0 1 1 581.7 415.3 Z" fill="#FFA800" stroke="#6a6a6a" stroke-width="0.6" stroke-linejoin="round"/>
<path d="M826.1 445.5 A30.4 14.8 0 0 1 785.3 459.41 L785.3 466.31 A30.4 14.8 0 0 0 826.1 452.4 Z" fill="#718D67"/><path d="M785.3 459.41 A30.4 14.8 0 0 1 772.07 454.81 L772.07 461.71 A30.4 14.8 0 0 0 785.3 466.31 Z" fill="#8C7F98"/><path d="M772.07 454.81 A30.4 14.8 0 0 1 765.3 445.5 L765.3 452.4 A30.4 14.8 0 0 0 772.07 461.71 Z" fill="#8F5D00"/><path d="M765.3 445.5 L765.3 452.4 A30.4 14.8 0 0 0 826.1 452.4 L826.1 445.5" fill="none" stroke="#6a6a6a" stroke-width="0.6"/><path d="M795.7 445.5 L795.7 430.7 A30.4 14.8 0 1 1 785.3 459.41 Z" fill="#D2FFC0" stroke="#6a6a6a" stroke-width="0.6" stroke-linejoin="round"/><path d="M795.7 445.5 L785.3 459.41 A30.4 14.8 0 0 1 772.07 454.81 Z" fill="#F0DCFF" stroke="#6a6a6a" stroke-width="0.6" stroke-linejoin="round"/><path d="M795.7 445.5 L772.07 454.81 A30.4 14.8 0 0 1 795.7 430.7 Z" fill="#FFA800" stroke="#6a6a6a" stroke-width="0.6" stroke-linejoin="round"/>
<path d="M742.85 466.3 A23.85 11.65 0 0 1 695.15 466.3 L695.15 472.5 A23.85 11.65 0 0 0 742.85 472.5 Z" fill="#718D67"/><path d="M695.15 466.3 L695.15 472.5 A23.85 11.65 0 0 0 742.85 472.5 L742.85 466.3" fill="none" stroke="#6a6a6a" stroke-width="0.6"/><path d="M719 466.3 L719 454.65 A23.85 11.65 0 1 1 716.92 454.69 Z" fill="#D2FFC0" stroke="#6a6a6a" stroke-width="0.6" stroke-linejoin="round"/><path d="M719 466.3 L716.92 454.69 A23.85 11.65 0 0 1 719 454.65 Z" fill="#FFA800" stroke="#6a6a6a" stroke-width="0.6" stroke-linejoin="round"/>
<path d="M718.3 489.5 A25.7 12.65 0 0 1 675.07 498.75 L675.07 504.95 A25.7 12.65 0 0 0 718.3 495.7 Z" fill="#718D67"/><path d="M675.07 498.75 A25.7 12.65 0 0 1 666.9 489.5 L666.9 495.7 A25.7 12.65 0 0 0 675.07 504.95 Z" fill="#8F5D00"/><path d="M666.9 489.5 L666.9 495.7 A25.7 12.65 0 0 0 718.3 495.7 L718.3 489.5" fill="none" stroke="#6a6a6a" stroke-width="0.6"/><path d="M692.6 489.5 L692.6 476.85 A25.7 12.65 0 1 1 675.07 498.75 Z" fill="#D2FFC0" stroke="#6a6a6a" stroke-width="0.6" stroke-linejoin="round"/><path d="M692.6 489.5 L675.07 498.75 A25.7 12.65 0 0 1 692.6 476.85 Z" fill="#FFA800" stroke="#6a6a6a" stroke-width="0.6" stroke-linejoin="round"/>
<path d="M702.75 535 A24.15 11.25 0 0 1 654.45 535 L654.45 540.9 A24.15 11.25 0 0 0 702.75 540.9 Z" fill="#718D67"/><path d="M654.45 535 L654.45 540.9 A24.15 11.25 0 0 0 702.75 540.9 L702.75 535" fill="none" stroke="#6a6a6a" stroke-width="0.6"/><path d="M678.6 535 L678.6 523.75 A24.15 11.25 0 1 1 669.95 524.5 Z" fill="#D2FFC0" stroke="#6a6a6a" stroke-width="0.6" stroke-linejoin="round"/><path d="M678.6 535 L669.95 524.5 A24.15 11.25 0 0 1 678.6 523.75 Z" fill="#FFA800" stroke="#6a6a6a" stroke-width="0.6" stroke-linejoin="round"/>
<path d="M781.55 537.8 A23.15 12.25 0 0 1 735.25 537.8 L735.25 543.4 A23.15 12.25 0 0 0 781.55 543.4 Z" fill="#718D67"/><path d="M735.25 537.8 L735.25 543.4 A23.15 12.25 0 0 0 781.55 543.4 L781.55 537.8" fill="none" stroke="#6a6a6a" stroke-width="0.6"/><path d="M758.4 537.8 L758.4 525.55 A23.15 12.25 0 1 1 751.63 526.09 Z" fill="#D2FFC0" stroke="#6a6a6a" stroke-width="0.6" stroke-linejoin="round"/><path d="M758.4 537.8 L751.63 526.09 A23.15 12.25 0 0 1 758.4 525.55 Z" fill="#FFA800" stroke="#6a6a6a" stroke-width="0.6" stroke-linejoin="round"/>
<path d="M752.8 582.5 A23.8 11.8 0 0 1 705.2 582.5 L705.2 588.6 A23.8 11.8 0 0 0 752.8 588.6 Z" fill="#718D67"/><path d="M705.2 582.5 L705.2 588.6 A23.8 11.8 0 0 0 752.8 588.6 L752.8 582.5" fill="none" stroke="#6a6a6a" stroke-width="0.6"/><path d="M729 582.5 L729 570.7 A23.8 11.8 0 1 1 722.84 571.1 Z" fill="#D2FFC0" stroke="#6a6a6a" stroke-width="0.6" stroke-linejoin="round"/><path d="M729 582.5 L722.84 571.1 A23.8 11.8 0 0 1 729 570.7 Z" fill="#FFA800" stroke="#6a6a6a" stroke-width="0.6" stroke-linejoin="round"/>
<path d="M724.35 608.7 A25.55 12.6 0 0 1 673.25 608.7 L673.25 613.7 A25.55 12.6 0 0 0 724.35 613.7 Z" fill="#718D67"/><path d="M673.25 608.7 L673.25 613.7 A25.55 12.6 0 0 0 724.35 613.7 L724.35 608.7" fill="none" stroke="#6a6a6a" stroke-width="0.6"/><path d="M698.8 608.7 L698.8 596.1 A25.55 12.6 0 1 1 689.23 597.02 Z" fill="#D2FFC0" stroke="#6a6a6a" stroke-width="0.6" stroke-linejoin="round"/><path d="M698.8 608.7 L689.23 597.02 A25.55 12.6 0 0 1 698.8 596.1 Z" fill="#FFA800" stroke="#6a6a6a" stroke-width="0.6" stroke-linejoin="round"/>
<path d="M858.65 454.4 A21.05 10.05 0 0 1 816.55 454.4 L816.55 460.6 A21.05 10.05 0 0 0 858.65 460.6 Z" fill="#718D67"/><path d="M816.55 454.4 L816.55 460.6 A21.05 10.05 0 0 0 858.65 460.6 L858.65 454.4" fill="none" stroke="#6a6a6a" stroke-width="0.6"/><path d="M837.6 454.4 L837.6 444.35 A21.05 10.05 0 1 1 820.57 448.49 Z" fill="#D2FFC0" stroke="#6a6a6a" stroke-width="0.6" stroke-linejoin="round"/><path d="M837.6 454.4 L820.57 448.49 A21.05 10.05 0 0 1 837.6 444.35 Z" fill="#FFA800" stroke="#6a6a6a" stroke-width="0.6" stroke-linejoin="round"/>
<clipPath id="e161"><ellipse cx="620.7" cy="381.3" rx="12.45" ry="5.85"/></clipPath>
<path d="M633.15 381.3 A12.45 5.85 0 0 1 608.25 381.3 L608.25 386.7 A12.45 5.85 0 0 0 633.15 386.7 Z" fill="#666666"/><path d="M608.25 381.3 L608.25 386.7 A12.45 5.85 0 0 0 633.15 386.7 L633.15 381.3" fill="none" stroke="#555" stroke-width="0.6"/><ellipse cx="620.7" cy="381.3" rx="12.45" ry="5.85" fill="#E2E2E2" stroke="#555" stroke-width="0.6"/><g clip-path="url(#e161)"><line x1="606.83" y1="388.32" x2="620.87" y2="374.28" stroke="#555" stroke-width="0.8"/><line x1="613.68" y1="388.32" x2="627.72" y2="374.28" stroke="#555" stroke-width="0.8"/><line x1="620.53" y1="388.32" x2="634.57" y2="374.28" stroke="#555" stroke-width="0.8"/></g>
<clipPath id="e163"><ellipse cx="665.4" cy="439.3" rx="12.3" ry="5.7"/></clipPath>
<path d="M677.7 439.3 A12.3 5.7 0 0 1 653.1 439.3 L653.1 443.7 A12.3 5.7 0 0 0 677.7 443.7 Z" fill="#666666"/><path d="M653.1 439.3 L653.1 443.7 A12.3 5.7 0 0 0 677.7 443.7 L677.7 439.3" fill="none" stroke="#555" stroke-width="0.6"/><ellipse cx="665.4" cy="439.3" rx="12.3" ry="5.7" fill="#E2E2E2" stroke="#555" stroke-width="0.6"/><g clip-path="url(#e163)"><line x1="651.79" y1="446.14" x2="665.48" y2="432.46" stroke="#555" stroke-width="0.8"/><line x1="658.56" y1="446.14" x2="672.24" y2="432.46" stroke="#555" stroke-width="0.8"/><line x1="665.32" y1="446.14" x2="679" y2="432.46" stroke="#555" stroke-width="0.8"/></g>
<clipPath id="e165"><ellipse cx="797" cy="497.4" rx="12" ry="6.2"/></clipPath>
<path d="M809 497.4 A12 6.2 0 0 1 785 497.4 L785 501.2 A12 6.2 0 0 0 809 501.2 Z" fill="#666666"/><path d="M785 497.4 L785 501.2 A12 6.2 0 0 0 809 501.2 L809 497.4" fill="none" stroke="#555" stroke-width="0.6"/><ellipse cx="797" cy="497.4" rx="12" ry="6.2" fill="#E2E2E2" stroke="#555" stroke-width="0.6"/><g clip-path="url(#e165)"><line x1="782.96" y1="504.84" x2="797.84" y2="489.96" stroke="#555" stroke-width="0.8"/><line x1="789.56" y1="504.84" x2="804.44" y2="489.96" stroke="#555" stroke-width="0.8"/><line x1="796.16" y1="504.84" x2="811.04" y2="489.96" stroke="#555" stroke-width="0.8"/></g>
<clipPath id="e167"><ellipse cx="645.2" cy="498.3" rx="12.1" ry="5.9"/></clipPath>
<path d="M657.3 498.3 A12.1 5.9 0 0 1 633.1 498.3 L633.1 502.7 A12.1 5.9 0 0 0 657.3 502.7 Z" fill="#666666"/><path d="M633.1 498.3 L633.1 502.7 A12.1 5.9 0 0 0 657.3 502.7 L657.3 498.3" fill="none" stroke="#555" stroke-width="0.6"/><ellipse cx="645.2" cy="498.3" rx="12.1" ry="5.9" fill="#E2E2E2" stroke="#555" stroke-width="0.6"/><g clip-path="url(#e167)"><line x1="631.47" y1="505.38" x2="645.63" y2="491.22" stroke="#555" stroke-width="0.8"/><line x1="638.12" y1="505.38" x2="652.28" y2="491.22" stroke="#555" stroke-width="0.8"/><line x1="644.77" y1="505.38" x2="658.94" y2="491.22" stroke="#555" stroke-width="0.8"/></g>
<clipPath id="e169"><ellipse cx="711.5" cy="532" rx="11.4" ry="6"/></clipPath>
<path d="M722.9 532 A11.4 6 0 0 1 700.1 532 L700.1 536.1 A11.4 6 0 0 0 722.9 536.1 Z" fill="#666666"/><path d="M700.1 532 L700.1 536.1 A11.4 6 0 0 0 722.9 536.1 L722.9 532" fill="none" stroke="#555" stroke-width="0.6"/><ellipse cx="711.5" cy="532" rx="11.4" ry="6" fill="#E2E2E2" stroke="#555" stroke-width="0.6"/><g clip-path="url(#e169)"><line x1="698.03" y1="539.2" x2="712.43" y2="524.8" stroke="#555" stroke-width="0.8"/><line x1="704.3" y1="539.2" x2="718.7" y2="524.8" stroke="#555" stroke-width="0.8"/><line x1="710.57" y1="539.2" x2="724.97" y2="524.8" stroke="#555" stroke-width="0.8"/></g>
<clipPath id="e171"><ellipse cx="638.5" cy="571.8" rx="12.45" ry="6.05"/></clipPath>
<path d="M650.95 571.8 A12.45 6.05 0 0 1 626.05 571.8 L626.05 576.3 A12.45 6.05 0 0 0 650.95 576.3 Z" fill="#666666"/><path d="M626.05 571.8 L626.05 576.3 A12.45 6.05 0 0 0 650.95 576.3 L650.95 571.8" fill="none" stroke="#555" stroke-width="0.6"/><ellipse cx="638.5" cy="571.8" rx="12.45" ry="6.05" fill="#E2E2E2" stroke="#555" stroke-width="0.6"/><g clip-path="url(#e171)"><line x1="624.39" y1="579.06" x2="638.91" y2="564.54" stroke="#555" stroke-width="0.8"/><line x1="631.24" y1="579.06" x2="645.76" y2="564.54" stroke="#555" stroke-width="0.8"/><line x1="638.09" y1="579.06" x2="652.61" y2="564.54" stroke="#555" stroke-width="0.8"/></g>
<clipPath id="e173"><ellipse cx="653.5" cy="586.9" rx="12.45" ry="6.2"/></clipPath>
<path d="M665.95 586.9 A12.45 6.2 0 0 1 641.05 586.9 L641.05 591.1 A12.45 6.2 0 0 0 665.95 591.1 Z" fill="#666666"/><path d="M641.05 586.9 L641.05 591.1 A12.45 6.2 0 0 0 665.95 591.1 L665.95 586.9" fill="none" stroke="#555" stroke-width="0.6"/><ellipse cx="653.5" cy="586.9" rx="12.45" ry="6.2" fill="#E2E2E2" stroke="#555" stroke-width="0.6"/><g clip-path="url(#e173)"><line x1="639.21" y1="594.34" x2="654.09" y2="579.46" stroke="#555" stroke-width="0.8"/><line x1="646.06" y1="594.34" x2="660.94" y2="579.46" stroke="#555" stroke-width="0.8"/><line x1="652.91" y1="594.34" x2="667.79" y2="579.46" stroke="#555" stroke-width="0.8"/></g>
<path d="M598.2 71.8 A7.7 3.9 0 0 1 582.8 71.8 L582.8 76 A7.7 3.9 0 0 0 598.2 76 Z" fill="#8F5D00"/><path d="M582.8 71.8 L582.8 76 A7.7 3.9 0 0 0 598.2 76 L598.2 71.8" fill="none" stroke="#6a6a6a" stroke-width="0.6"/><ellipse cx="590.5" cy="71.8" rx="7.7" ry="3.9" fill="#FFA800" stroke="#6a6a6a" stroke-width="0.6"/>
<path d="M637.5 85.9 A13 6.4 0 0 1 611.5 85.9 L611.5 91.3 A13 6.4 0 0 0 637.5 91.3 Z" fill="#8C7F98"/><path d="M611.5 85.9 L611.5 91.3 A13 6.4 0 0 0 637.5 91.3 L637.5 85.9" fill="none" stroke="#6a6a6a" stroke-width="0.6"/><ellipse cx="624.5" cy="85.9" rx="13" ry="6.4" fill="#F0DCFF" stroke="#6a6a6a" stroke-width="0.6"/>
<path d="M623.9 105 A13 6.4 0 0 1 597.9 105 L597.9 109.9 A13 6.4 0 0 0 623.9 109.9 Z" fill="#8C7F98"/><path d="M597.9 105 L597.9 109.9 A13 6.4 0 0 0 623.9 109.9 L623.9 105" fill="none" stroke="#6a6a6a" stroke-width="0.6"/><ellipse cx="610.9" cy="105" rx="13" ry="6.4" fill="#F0DCFF" stroke="#6a6a6a" stroke-width="0.6"/>
<path d="M672.7 114.6 A7.9 4.1 0 0 1 656.9 114.6 L656.9 118.8 A7.9 4.1 0 0 0 672.7 118.8 Z" fill="#8F5D00"/><path d="M656.9 114.6 L656.9 118.8 A7.9 4.1 0 0 0 672.7 118.8 L672.7 114.6" fill="none" stroke="#6a6a6a" stroke-width="0.6"/><ellipse cx="664.8" cy="114.6" rx="7.9" ry="4.1" fill="#FFA800" stroke="#6a6a6a" stroke-width="0.6"/>
<path d="M577 158 A9.1 4.8 0 0 1 558.8 158 L558.8 162.5 A9.1 4.8 0 0 0 577 162.5 Z" fill="#8F5D00"/><path d="M558.8 158 L558.8 162.5 A9.1 4.8 0 0 0 577 162.5 L577 158" fill="none" stroke="#6a6a6a" stroke-width="0.6"/><ellipse cx="567.9" cy="158" rx="9.1" ry="4.8" fill="#FFA800" stroke="#6a6a6a" stroke-width="0.6"/>
<path d="M613.75 263.9 A10.85 5.3 0 0 1 592.05 263.9 L592.05 269.2 A10.85 5.3 0 0 0 613.75 269.2 Z" fill="#8F5D00"/><path d="M592.05 263.9 L592.05 269.2 A10.85 5.3 0 0 0 613.75 269.2 L613.75 263.9" fill="none" stroke="#6a6a6a" stroke-width="0.6"/><ellipse cx="602.9" cy="263.9" rx="10.85" ry="5.3" fill="#FFA800" stroke="#6a6a6a" stroke-width="0.6"/>
<path d="M685.75 310.2 A9.85 4.65 0 0 1 666.05 310.2 L666.05 315.2 A9.85 4.65 0 0 0 685.75 315.2 Z" fill="#8F5D00"/><path d="M666.05 310.2 L666.05 315.2 A9.85 4.65 0 0 0 685.75 315.2 L685.75 310.2" fill="none" stroke="#6a6a6a" stroke-width="0.6"/><ellipse cx="675.9" cy="310.2" rx="9.85" ry="4.65" fill="#FFA800" stroke="#6a6a6a" stroke-width="0.6"/>
<path d="M592 330.3 A7.6 3.9 0 0 1 576.8 330.3 L576.8 333.7 A7.6 3.9 0 0 0 592 333.7 Z" fill="#8F5D00"/><path d="M576.8 330.3 L576.8 333.7 A7.6 3.9 0 0 0 592 333.7 L592 330.3" fill="none" stroke="#6a6a6a" stroke-width="0.6"/><ellipse cx="584.4" cy="330.3" rx="7.6" ry="3.9" fill="#FFA800" stroke="#6a6a6a" stroke-width="0.6"/>
<path d="M590.5 337.5 A8.6 4.8 0 0 1 573.3 337.5 L573.3 340.9 A8.6 4.8 0 0 0 590.5 340.9 Z" fill="#8F5D00"/><path d="M573.3 337.5 L573.3 340.9 A8.6 4.8 0 0 0 590.5 340.9 L590.5 337.5" fill="none" stroke="#6a6a6a" stroke-width="0.6"/><ellipse cx="581.9" cy="337.5" rx="8.6" ry="4.8" fill="#FFA800" stroke="#6a6a6a" stroke-width="0.6"/>
<path d="M649.25 362.3 A8.65 4.3 0 0 1 631.95 362.3 L631.95 366.5 A8.65 4.3 0 0 0 649.25 366.5 Z" fill="#8F5D00"/><path d="M631.95 362.3 L631.95 366.5 A8.65 4.3 0 0 0 649.25 366.5 L649.25 362.3" fill="none" stroke="#6a6a6a" stroke-width="0.6"/><ellipse cx="640.6" cy="362.3" rx="8.65" ry="4.3" fill="#FFA800" stroke="#6a6a6a" stroke-width="0.6"/>
<path d="M748.5 388.3 A5.7 3.2 0 0 1 737.1 388.3 L737.1 391.7 A5.7 3.2 0 0 0 748.5 391.7 Z" fill="#8F5D00"/><path d="M737.1 388.3 L737.1 391.7 A5.7 3.2 0 0 0 748.5 391.7 L748.5 388.3" fill="none" stroke="#6a6a6a" stroke-width="0.6"/><ellipse cx="742.8" cy="388.3" rx="5.7" ry="3.2" fill="#FFA800" stroke="#6a6a6a" stroke-width="0.6"/>
<path d="M712.5 415.3 A11 5.1 0 0 1 690.5 415.3 L690.5 420.6 A11 5.1 0 0 0 712.5 420.6 Z" fill="#8F5D00"/><path d="M690.5 415.3 L690.5 420.6 A11 5.1 0 0 0 712.5 420.6 L712.5 415.3" fill="none" stroke="#6a6a6a" stroke-width="0.6"/><ellipse cx="701.5" cy="415.3" rx="11" ry="5.1" fill="#FFA800" stroke="#6a6a6a" stroke-width="0.6"/>
<path d="M692.75 420.8 A5.95 3.5 0 0 1 680.85 420.8 L680.85 424.2 A5.95 3.5 0 0 0 692.75 424.2 Z" fill="#8F5D00"/><path d="M680.85 420.8 L680.85 424.2 A5.95 3.5 0 0 0 692.75 424.2 L692.75 420.8" fill="none" stroke="#6a6a6a" stroke-width="0.6"/><ellipse cx="686.8" cy="420.8" rx="5.95" ry="3.5" fill="#FFA800" stroke="#6a6a6a" stroke-width="0.6"/>
<path d="M765.3 439.2 A8.4 4.3 0 0 1 748.5 439.2 L748.5 443 A8.4 4.3 0 0 0 765.3 443 Z" fill="#8F5D00"/><path d="M748.5 439.2 L748.5 443 A8.4 4.3 0 0 0 765.3 443 L765.3 439.2" fill="none" stroke="#6a6a6a" stroke-width="0.6"/><ellipse cx="756.9" cy="439.2" rx="8.4" ry="4.3" fill="#FFA800" stroke="#6a6a6a" stroke-width="0.6"/>
<path d="M632 445 A8.1 3.8 0 0 1 615.8 445 L615.8 448.4 A8.1 3.8 0 0 0 632 448.4 Z" fill="#8F5D00"/><path d="M615.8 445 L615.8 448.4 A8.1 3.8 0 0 0 632 448.4 L632 445" fill="none" stroke="#6a6a6a" stroke-width="0.6"/><ellipse cx="623.9" cy="445" rx="8.1" ry="3.8" fill="#FFA800" stroke="#6a6a6a" stroke-width="0.6"/>
<path d="M758.5 452.9 A3.9 2.5 0 0 1 750.7 452.9 L750.7 455.5 A3.9 2.5 0 0 0 758.5 455.5 Z" fill="#8F5D00"/><path d="M750.7 452.9 L750.7 455.5 A3.9 2.5 0 0 0 758.5 455.5 L758.5 452.9" fill="none" stroke="#6a6a6a" stroke-width="0.6"/><ellipse cx="754.6" cy="452.9" rx="3.9" ry="2.5" fill="#FFA800" stroke="#6a6a6a" stroke-width="0.6"/>
<path d="M682.7 455.6 A6 3.2 0 0 1 670.7 455.6 L670.7 459 A6 3.2 0 0 0 682.7 459 Z" fill="#8F5D00"/><path d="M670.7 455.6 L670.7 459 A6 3.2 0 0 0 682.7 459 L682.7 455.6" fill="none" stroke="#6a6a6a" stroke-width="0.6"/><ellipse cx="676.7" cy="455.6" rx="6" ry="3.2" fill="#FFA800" stroke="#6a6a6a" stroke-width="0.6"/>
<path d="M573.7 456.3 A5.1 2.8 0 0 1 563.5 456.3 L563.5 459.7 A5.1 2.8 0 0 0 573.7 459.7 Z" fill="#8F5D00"/><path d="M563.5 456.3 L563.5 459.7 A5.1 2.8 0 0 0 573.7 459.7 L573.7 456.3" fill="none" stroke="#6a6a6a" stroke-width="0.6"/><ellipse cx="568.6" cy="456.3" rx="5.1" ry="2.8" fill="#FFA800" stroke="#6a6a6a" stroke-width="0.6"/>
<path d="M871.05 466.2 A6.55 4.1 0 0 1 857.95 466.2 L857.95 469.6 A6.55 4.1 0 0 0 871.05 469.6 Z" fill="#8F5D00"/><path d="M857.95 466.2 L857.95 469.6 A6.55 4.1 0 0 0 871.05 469.6 L871.05 466.2" fill="none" stroke="#6a6a6a" stroke-width="0.6"/><ellipse cx="864.5" cy="466.2" rx="6.55" ry="4.1" fill="#FFA800" stroke="#6a6a6a" stroke-width="0.6"/>
<path d="M800.45 467.5 A6.15 3.5 0 0 1 788.15 467.5 L788.15 470.9 A6.15 3.5 0 0 0 800.45 470.9 Z" fill="#8F5D00"/><path d="M788.15 467.5 L788.15 470.9 A6.15 3.5 0 0 0 800.45 470.9 L800.45 467.5" fill="none" stroke="#6a6a6a" stroke-width="0.6"/><ellipse cx="794.3" cy="467.5" rx="6.15" ry="3.5" fill="#FFA800" stroke="#6a6a6a" stroke-width="0.6"/>
<path d="M804.5 476.3 A5.6 3.3 0 0 1 793.3 476.3 L793.3 479.7 A5.6 3.3 0 0 0 804.5 479.7 Z" fill="#8F5D00"/><path d="M793.3 476.3 L793.3 479.7 A5.6 3.3 0 0 0 804.5 479.7 L804.5 476.3" fill="none" stroke="#6a6a6a" stroke-width="0.6"/><ellipse cx="798.9" cy="476.3" rx="5.6" ry="3.3" fill="#FFA800" stroke="#6a6a6a" stroke-width="0.6"/>
<path d="M793.1 479.2 A5.9 3.3 0 0 1 781.3 479.2 L781.3 482.6 A5.9 3.3 0 0 0 793.1 482.6 Z" fill="#8F5D00"/><path d="M781.3 479.2 L781.3 482.6 A5.9 3.3 0 0 0 793.1 482.6 L793.1 479.2" fill="none" stroke="#6a6a6a" stroke-width="0.6"/><ellipse cx="787.2" cy="479.2" rx="5.9" ry="3.3" fill="#FFA800" stroke="#6a6a6a" stroke-width="0.6"/>
<path d="M773.1 488.6 A7 4.1 0 0 1 759.1 488.6 L759.1 492 A7 4.1 0 0 0 773.1 492 Z" fill="#8F5D00"/><path d="M759.1 488.6 L759.1 492 A7 4.1 0 0 0 773.1 492 L773.1 488.6" fill="none" stroke="#6a6a6a" stroke-width="0.6"/><ellipse cx="766.1" cy="488.6" rx="7" ry="4.1" fill="#FFA800" stroke="#6a6a6a" stroke-width="0.6"/>
<path d="M867.2 497.5 A8.7 4.5 0 0 1 849.8 497.5 L849.8 501 A8.7 4.5 0 0 0 867.2 501 Z" fill="#8F5D00"/><path d="M849.8 497.5 L849.8 501 A8.7 4.5 0 0 0 867.2 501 L867.2 497.5" fill="none" stroke="#6a6a6a" stroke-width="0.6"/><ellipse cx="858.5" cy="497.5" rx="8.7" ry="4.5" fill="#FFA800" stroke="#6a6a6a" stroke-width="0.6"/>
<path d="M855.6 502.5 A8.3 4.5 0 0 1 839 502.5 L839 506 A8.3 4.5 0 0 0 855.6 506 Z" fill="#8F5D00"/><path d="M839 502.5 L839 506 A8.3 4.5 0 0 0 855.6 506 L855.6 502.5" fill="none" stroke="#6a6a6a" stroke-width="0.6"/><ellipse cx="847.3" cy="502.5" rx="8.3" ry="4.5" fill="#FFA800" stroke="#6a6a6a" stroke-width="0.6"/>
<path d="M844.9 508.6 A10.3 4.8 0 0 1 824.3 508.6 L824.3 513 A10.3 4.8 0 0 0 844.9 513 Z" fill="#8F5D00"/><path d="M824.3 508.6 L824.3 513 A10.3 4.8 0 0 0 844.9 513 L844.9 508.6" fill="none" stroke="#6a6a6a" stroke-width="0.6"/><ellipse cx="834.6" cy="508.6" rx="10.3" ry="4.8" fill="#FFA800" stroke="#6a6a6a" stroke-width="0.6"/>
<path d="M828.2 513.5 A6.2 4.5 0 0 1 815.8 513.5 L815.8 517 A6.2 4.5 0 0 0 828.2 517 Z" fill="#8F5D00"/><path d="M815.8 513.5 L815.8 517 A6.2 4.5 0 0 0 828.2 517 L828.2 513.5" fill="none" stroke="#6a6a6a" stroke-width="0.6"/><ellipse cx="822" cy="513.5" rx="6.2" ry="4.5" fill="#FFA800" stroke="#6a6a6a" stroke-width="0.6"/>
<path d="M782.9 514.5 A5.9 3.4 0 0 1 771.1 514.5 L771.1 517.9 A5.9 3.4 0 0 0 782.9 517.9 Z" fill="#8F5D00"/><path d="M771.1 514.5 L771.1 517.9 A5.9 3.4 0 0 0 782.9 517.9 L782.9 514.5" fill="none" stroke="#6a6a6a" stroke-width="0.6"/><ellipse cx="777" cy="514.5" rx="5.9" ry="3.4" fill="#FFA800" stroke="#6a6a6a" stroke-width="0.6"/>
<path d="M676.6 518.4 A7.6 4.3 0 0 1 661.4 518.4 L661.4 521.8 A7.6 4.3 0 0 0 676.6 521.8 Z" fill="#8F5D00"/><path d="M661.4 518.4 L661.4 521.8 A7.6 4.3 0 0 0 676.6 521.8 L676.6 518.4" fill="none" stroke="#6a6a6a" stroke-width="0.6"/><ellipse cx="669" cy="518.4" rx="7.6" ry="4.3" fill="#FFA800" stroke="#6a6a6a" stroke-width="0.6"/>
<path d="M801.8 518.7 A6 3.4 0 0 1 789.8 518.7 L789.8 522.1 A6 3.4 0 0 0 801.8 522.1 Z" fill="#8F5D00"/><path d="M789.8 518.7 L789.8 522.1 A6 3.4 0 0 0 801.8 522.1 L801.8 518.7" fill="none" stroke="#6a6a6a" stroke-width="0.6"/><ellipse cx="795.8" cy="518.7" rx="6" ry="3.4" fill="#FFA800" stroke="#6a6a6a" stroke-width="0.6"/>
<path d="M691.55 519.3 A4.55 3 0 0 1 682.45 519.3 L682.45 521.9 A4.55 3 0 0 0 691.55 521.9 Z" fill="#8F5D00"/><path d="M682.45 519.3 L682.45 521.9 A4.55 3 0 0 0 691.55 521.9 L691.55 519.3" fill="none" stroke="#6a6a6a" stroke-width="0.6"/><ellipse cx="687" cy="519.3" rx="4.55" ry="3" fill="#FFA800" stroke="#6a6a6a" stroke-width="0.6"/>
<path d="M748.1 522.6 A4.8 3 0 0 1 738.5 522.6 L738.5 525.2 A4.8 3 0 0 0 748.1 525.2 Z" fill="#8F5D00"/><path d="M738.5 522.6 L738.5 525.2 A4.8 3 0 0 0 748.1 525.2 L748.1 522.6" fill="none" stroke="#6a6a6a" stroke-width="0.6"/><ellipse cx="743.3" cy="522.6" rx="4.8" ry="3" fill="#FFA800" stroke="#6a6a6a" stroke-width="0.6"/>
<path d="M820.7 528.6 A6.3 3.2 0 0 1 808.1 528.6 L808.1 532 A6.3 3.2 0 0 0 820.7 532 Z" fill="#8F5D00"/><path d="M808.1 528.6 L808.1 532 A6.3 3.2 0 0 0 820.7 532 L820.7 528.6" fill="none" stroke="#6a6a6a" stroke-width="0.6"/><ellipse cx="814.4" cy="528.6" rx="6.3" ry="3.2" fill="#FFA800" stroke="#6a6a6a" stroke-width="0.6"/>
<path d="M820.8 529 A6.2 3.4 0 0 1 808.4 529 L808.4 532.4 A6.2 3.4 0 0 0 820.8 532.4 Z" fill="#8F5D00"/><path d="M808.4 529 L808.4 532.4 A6.2 3.4 0 0 0 820.8 532.4 L820.8 529" fill="none" stroke="#6a6a6a" stroke-width="0.6"/><ellipse cx="814.6" cy="529" rx="6.2" ry="3.4" fill="#FFA800" stroke="#6a6a6a" stroke-width="0.6"/>
<path d="M806.3 535.8 A6.7 3.8 0 0 1 792.9 535.8 L792.9 539.2 A6.7 3.8 0 0 0 806.3 539.2 Z" fill="#8F5D00"/><path d="M792.9 535.8 L792.9 539.2 A6.7 3.8 0 0 0 806.3 539.2 L806.3 535.8" fill="none" stroke="#6a6a6a" stroke-width="0.6"/><ellipse cx="799.6" cy="535.8" rx="6.7" ry="3.8" fill="#FFA800" stroke="#6a6a6a" stroke-width="0.6"/>
<path d="M812.3 553.4 A7.4 3.4 0 0 1 797.5 553.4 L797.5 556.8 A7.4 3.4 0 0 0 812.3 556.8 Z" fill="#8F5D00"/><path d="M797.5 553.4 L797.5 556.8 A7.4 3.4 0 0 0 812.3 556.8 L812.3 553.4" fill="none" stroke="#6a6a6a" stroke-width="0.6"/><ellipse cx="804.9" cy="553.4" rx="7.4" ry="3.4" fill="#FFA800" stroke="#6a6a6a" stroke-width="0.6"/>
<path d="M802.2 559 A6 3.5 0 0 1 790.2 559 L790.2 562.4 A6 3.5 0 0 0 802.2 562.4 Z" fill="#8F5D00"/><path d="M790.2 559 L790.2 562.4 A6 3.5 0 0 0 802.2 562.4 L802.2 559" fill="none" stroke="#6a6a6a" stroke-width="0.6"/><ellipse cx="796.2" cy="559" rx="6" ry="3.5" fill="#FFA800" stroke="#6a6a6a" stroke-width="0.6"/>
<path d="M767.7 559.3 A6.2 3.6 0 0 1 755.3 559.3 L755.3 562.7 A6.2 3.6 0 0 0 767.7 562.7 Z" fill="#8F5D00"/><path d="M755.3 559.3 L755.3 562.7 A6.2 3.6 0 0 0 767.7 562.7 L767.7 559.3" fill="none" stroke="#6a6a6a" stroke-width="0.6"/><ellipse cx="761.5" cy="559.3" rx="6.2" ry="3.6" fill="#FFA800" stroke="#6a6a6a" stroke-width="0.6"/>
<path d="M592.45 565.9 A11.65 5.6 0 0 1 569.15 565.9 L569.15 570.6 A11.65 5.6 0 0 0 592.45 570.6 Z" fill="#8F5D00"/><path d="M569.15 565.9 L569.15 570.6 A11.65 5.6 0 0 0 592.45 570.6 L592.45 565.9" fill="none" stroke="#6a6a6a" stroke-width="0.6"/><ellipse cx="580.8" cy="565.9" rx="11.65" ry="5.6" fill="#FFA800" stroke="#6a6a6a" stroke-width="0.6"/>
<path d="M642.95 617.2 A10.35 5 0 0 1 622.25 617.2 L622.25 622.2 A10.35 5 0 0 0 642.95 622.2 Z" fill="#8F5D00"/><path d="M622.25 617.2 L622.25 622.2 A10.35 5 0 0 0 642.95 622.2 L642.95 617.2" fill="none" stroke="#6a6a6a" stroke-width="0.6"/><ellipse cx="632.6" cy="617.2" rx="10.35" ry="5" fill="#FFA800" stroke="#6a6a6a" stroke-width="0.6"/>
<path d="M676.2 620.1 A9.1 4.6 0 0 1 658 620.1 L658 624.2 A9.1 4.6 0 0 0 676.2 624.2 Z" fill="#8F5D00"/><path d="M658 620.1 L658 624.2 A9.1 4.6 0 0 0 676.2 624.2 L676.2 620.1" fill="none" stroke="#6a6a6a" stroke-width="0.6"/><ellipse cx="667.1" cy="620.1" rx="9.1" ry="4.6" fill="#FFA800" stroke="#6a6a6a" stroke-width="0.6"/>
<path d="M820 512.6 A8 4.5 0 0 1 804 512.6 L804 516 A8 4.5 0 0 0 820 516 Z" fill="#8F5D00"/><path d="M804 512.6 L804 516 A8 4.5 0 0 0 820 516 L820 512.6" fill="none" stroke="#6a6a6a" stroke-width="0.6"/><ellipse cx="812" cy="512.6" rx="8" ry="4.5" fill="#FFA800" stroke="#6a6a6a" stroke-width="0.6"/>
<path d="M829.8 552.5 A8.5 4.2 0 0 1 812.8 552.5 L812.8 556.3 A8.5 4.2 0 0 0 829.8 556.3 Z" fill="#8F5D00"/><path d="M812.8 552.5 L812.8 556.3 A8.5 4.2 0 0 0 829.8 556.3 L829.8 552.5" fill="none" stroke="#6a6a6a" stroke-width="0.6"/><ellipse cx="821.3" cy="552.5" rx="8.5" ry="4.2" fill="#FFA800" stroke="#6a6a6a" stroke-width="0.6"/>
<path d="M812.3 558.4 A4.9 2.8 0 0 1 802.5 558.4 L802.5 561 A4.9 2.8 0 0 0 812.3 561 Z" fill="#8F5D00"/><path d="M802.5 558.4 L802.5 561 A4.9 2.8 0 0 0 812.3 561 L812.3 558.4" fill="none" stroke="#6a6a6a" stroke-width="0.6"/><ellipse cx="807.4" cy="558.4" rx="4.9" ry="2.8" fill="#FFA800" stroke="#6a6a6a" stroke-width="0.6"/>
<path d="M823.3 561.7 A6.4 3.6 0 0 1 810.5 561.7 L810.5 565.1 A6.4 3.6 0 0 0 823.3 565.1 Z" fill="#8F5D00"/><path d="M810.5 561.7 L810.5 565.1 A6.4 3.6 0 0 0 823.3 565.1 L823.3 561.7" fill="none" stroke="#6a6a6a" stroke-width="0.6"/><ellipse cx="816.9" cy="561.7" rx="6.4" ry="3.6" fill="#FFA800" stroke="#6a6a6a" stroke-width="0.6"/>
<path d="M818.35 572.9 A25.35 12.45 0 0 1 767.65 572.9 L767.65 579.1 A25.35 12.45 0 0 0 818.35 579.1 Z" fill="#718D67"/><path d="M767.65 572.9 L767.65 579.1 A25.35 12.45 0 0 0 818.35 579.1 L818.35 572.9" fill="none" stroke="#6a6a6a" stroke-width="0.6"/><path d="M793 572.9 L793 560.45 A25.35 12.45 0 1 1 777.74 562.96 Z" fill="#D2FFC0" stroke="#6a6a6a" stroke-width="0.6" stroke-linejoin="round"/><path d="M793 572.9 L777.74 562.96 A25.35 12.45 0 0 1 793 560.45 Z" fill="#FFA800" stroke="#6a6a6a" stroke-width="0.6" stroke-linejoin="round"/>
<path d="M643.1 459.2 A19.6 10.1 0 0 1 603.9 459.2 L603.9 463.9 A19.6 10.1 0 0 0 643.1 463.9 Z" fill="#8C7F98"/><path d="M603.9 459.2 L603.9 463.9 A19.6 10.1 0 0 0 643.1 463.9 L643.1 459.2" fill="none" stroke="#6a6a6a" stroke-width="0.6"/><ellipse cx="623.5" cy="459.2" rx="19.6" ry="10.1" fill="#F0DCFF" stroke="#6a6a6a" stroke-width="0.6"/>
<path d="M649.05 475.5 A8.65 4.5 0 0 1 631.75 475.5 L631.75 479.2 A8.65 4.5 0 0 0 649.05 479.2 Z" fill="#8F5D00"/><path d="M631.75 475.5 L631.75 479.2 A8.65 4.5 0 0 0 649.05 479.2 L649.05 475.5" fill="none" stroke="#6a6a6a" stroke-width="0.6"/><ellipse cx="640.4" cy="475.5" rx="8.65" ry="4.5" fill="#FFA800" stroke="#6a6a6a" stroke-width="0.6"/>
<path d="M559.8 242.4 A5 3 0 0 1 549.8 242.4 L549.8 245 A5 3 0 0 0 559.8 245 Z" fill="#8F5D00"/><path d="M549.8 242.4 L549.8 245 A5 3 0 0 0 559.8 245 L559.8 242.4" fill="none" stroke="#6a6a6a" stroke-width="0.6"/><ellipse cx="554.8" cy="242.4" rx="5" ry="3" fill="#FFA800" stroke="#6a6a6a" stroke-width="0.6"/>
<path d="M623.5 335.2 A4.6 2.7 0 0 1 614.3 335.2 L614.3 337.8 A4.6 2.7 0 0 0 623.5 337.8 Z" fill="#8F5D00"/><path d="M614.3 335.2 L614.3 337.8 A4.6 2.7 0 0 0 623.5 337.8 L623.5 335.2" fill="none" stroke="#6a6a6a" stroke-width="0.6"/><ellipse cx="618.9" cy="335.2" rx="4.6" ry="2.7" fill="#FFA800" stroke="#6a6a6a" stroke-width="0.6"/>
<path d="M635.05 348.2 A5.05 3.2 0 0 1 624.95 348.2 L624.95 351.6 A5.05 3.2 0 0 0 635.05 351.6 Z" fill="#8F5D00"/><path d="M624.95 348.2 L624.95 351.6 A5.05 3.2 0 0 0 635.05 351.6 L635.05 348.2" fill="none" stroke="#6a6a6a" stroke-width="0.6"/><ellipse cx="630" cy="348.2" rx="5.05" ry="3.2" fill="#FFA800" stroke="#6a6a6a" stroke-width="0.6"/>
<path d="M751.45 423.6 A5.45 3 0 0 1 740.55 423.6 L740.55 427 A5.45 3 0 0 0 751.45 427 Z" fill="#8F5D00"/><path d="M740.55 423.6 L740.55 427 A5.45 3 0 0 0 751.45 427 L751.45 423.6" fill="none" stroke="#6a6a6a" stroke-width="0.6"/><ellipse cx="746" cy="423.6" rx="5.45" ry="3" fill="#FFA800" stroke="#6a6a6a" stroke-width="0.6"/>
<path d="M782.6 448.5 A7.1 4 0 0 1 768.4 448.5 L768.4 451.9 A7.1 4 0 0 0 782.6 451.9 Z" fill="#8F5D00"/><path d="M768.4 448.5 L768.4 451.9 A7.1 4 0 0 0 782.6 451.9 L782.6 448.5" fill="none" stroke="#6a6a6a" stroke-width="0.6"/><ellipse cx="775.5" cy="448.5" rx="7.1" ry="4" fill="#FFA800" stroke="#6a6a6a" stroke-width="0.6"/>
<path d="M798.1 456.6 A4.8 3 0 0 1 788.5 456.6 L788.5 459.2 A4.8 3 0 0 0 798.1 459.2 Z" fill="#8F5D00"/><path d="M788.5 456.6 L788.5 459.2 A4.8 3 0 0 0 798.1 459.2 L798.1 456.6" fill="none" stroke="#6a6a6a" stroke-width="0.6"/><ellipse cx="793.3" cy="456.6" rx="4.8" ry="3" fill="#FFA800" stroke="#6a6a6a" stroke-width="0.6"/>
<path d="M638 496.5 A5.2 3.4 0 0 1 627.6 496.5 L627.6 499.9 A5.2 3.4 0 0 0 638 499.9 Z" fill="#8F5D00"/><path d="M627.6 496.5 L627.6 499.9 A5.2 3.4 0 0 0 638 499.9 L638 496.5" fill="none" stroke="#6a6a6a" stroke-width="0.6"/><ellipse cx="632.8" cy="496.5" rx="5.2" ry="3.4" fill="#FFA800" stroke="#6a6a6a" stroke-width="0.6"/>
<path d="M737.15 537.8 A6.45 3.6 0 0 1 724.25 537.8 L724.25 541.2 A6.45 3.6 0 0 0 737.15 541.2 Z" fill="#8F5D00"/><path d="M724.25 537.8 L724.25 541.2 A6.45 3.6 0 0 0 737.15 541.2 L737.15 537.8" fill="none" stroke="#6a6a6a" stroke-width="0.6"/><ellipse cx="730.7" cy="537.8" rx="6.45" ry="3.6" fill="#FFA800" stroke="#6a6a6a" stroke-width="0.6"/>
<path d="M679.95 548.5 A9.75 4.6 0 0 1 660.45 548.5 L660.45 553 A9.75 4.6 0 0 0 679.95 553 Z" fill="#8F5D00"/><path d="M660.45 548.5 L660.45 553 A9.75 4.6 0 0 0 679.95 553 L679.95 548.5" fill="none" stroke="#6a6a6a" stroke-width="0.6"/><ellipse cx="670.2" cy="548.5" rx="9.75" ry="4.6" fill="#FFA800" stroke="#6a6a6a" stroke-width="0.6"/>
<path d="M659.65 572.5 A3.75 2.4 0 0 1 652.15 572.5 L652.15 575.1 A3.75 2.4 0 0 0 659.65 575.1 Z" fill="#8F5D00"/><path d="M652.15 572.5 L652.15 575.1 A3.75 2.4 0 0 0 659.65 575.1 L659.65 572.5" fill="none" stroke="#6a6a6a" stroke-width="0.6"/><ellipse cx="655.9" cy="572.5" rx="3.75" ry="2.4" fill="#FFA800" stroke="#6a6a6a" stroke-width="0.6"/>
<path d="M804.35 592.2 A8.85 4.1 0 0 1 786.65 592.2 L786.65 597 A8.85 4.1 0 0 0 804.35 597 Z" fill="#8F5D00"/><path d="M786.65 592.2 L786.65 597 A8.85 4.1 0 0 0 804.35 597 L804.35 592.2" fill="none" stroke="#6a6a6a" stroke-width="0.6"/><ellipse cx="795.5" cy="592.2" rx="8.85" ry="4.1" fill="#FFA800" stroke="#6a6a6a" stroke-width="0.6"/>
<path d="M770.4 599.7 A3.8 2.4 0 0 1 762.8 599.7 L762.8 602.3 A3.8 2.4 0 0 0 770.4 602.3 Z" fill="#8F5D00"/><path d="M762.8 599.7 L762.8 602.3 A3.8 2.4 0 0 0 770.4 602.3 L770.4 599.7" fill="none" stroke="#6a6a6a" stroke-width="0.6"/><ellipse cx="766.6" cy="599.7" rx="3.8" ry="2.4" fill="#FFA800" stroke="#6a6a6a" stroke-width="0.6"/>
<path d="M788.8 600.1 A6.1 3.4 0 0 1 776.6 600.1 L776.6 603.5 A6.1 3.4 0 0 0 788.8 603.5 Z" fill="#8F5D00"/><path d="M776.6 600.1 L776.6 603.5 A6.1 3.4 0 0 0 788.8 603.5 L788.8 600.1" fill="none" stroke="#6a6a6a" stroke-width="0.6"/><ellipse cx="782.7" cy="600.1" rx="6.1" ry="3.4" fill="#FFA800" stroke="#6a6a6a" stroke-width="0.6"/>
<path d="M702.85 628.1 A5.85 3.1 0 0 1 691.15 628.1 L691.15 631.5 A5.85 3.1 0 0 0 702.85 631.5 Z" fill="#8F5D00"/><path d="M691.15 628.1 L691.15 631.5 A5.85 3.1 0 0 0 702.85 631.5 L702.85 628.1" fill="none" stroke="#6a6a6a" stroke-width="0.6"/><ellipse cx="697" cy="628.1" rx="5.85" ry="3.1" fill="#FFA800" stroke="#6a6a6a" stroke-width="0.6"/>
<text x="571.6" y="405.6" font-size="12.4" font-weight="bold" text-anchor="start" fill="#000" textLength="98.5" lengthAdjust="spacingAndGlyphs" stroke="#fff" stroke-width="3" stroke-linejoin="round" paint-order="stroke">Olomoucký kraj</text>
<text x="677.9" y="566.5" font-size="12.4" font-weight="bold" text-anchor="start" fill="#000" textLength="73" lengthAdjust="spacingAndGlyphs" stroke="#fff" stroke-width="3" stroke-linejoin="round" paint-order="stroke">Zlínský kraj</text>
<text x="583.6" y="170.3" font-size="12.6" font-weight="bold" text-anchor="start" fill="#000" textLength="43.2" lengthAdjust="spacingAndGlyphs">Jeseník</text>
<text x="541.4" y="215" font-size="12.6" font-weight="bold" text-anchor="start" fill="#000" textLength="49.7" lengthAdjust="spacingAndGlyphs">Šumperk</text>
<text x="519.8" y="291" font-size="12.6" font-weight="bold" text-anchor="start" fill="#000" textLength="39.5" lengthAdjust="spacingAndGlyphs">Zábřeh</text>
<text x="575.9" y="296.8" font-size="12.6" font-weight="bold" text-anchor="start" fill="#000" textLength="38.1" lengthAdjust="spacingAndGlyphs">Uničov</text>
<text x="548.8" y="362.9" font-size="12.6" font-weight="bold" text-anchor="start" fill="#000" textLength="38.7" lengthAdjust="spacingAndGlyphs">Konice</text>
<text x="664.8" y="354.5" font-size="12.6" font-weight="bold" text-anchor="start" fill="#000" textLength="55.5" lengthAdjust="spacingAndGlyphs">Šternberk</text>
<text x="636.9" y="387.1" font-size="12.6" font-weight="bold" text-anchor="start" fill="#000" textLength="50.5" lengthAdjust="spacingAndGlyphs">Olomouc</text>
<text x="677.2" y="399.7" font-size="12.6" font-weight="bold" text-anchor="start" fill="#000" textLength="42.3" lengthAdjust="spacingAndGlyphs">Hranice</text>
<text x="602.4" y="422.5" font-size="12.6" font-weight="bold" text-anchor="start" fill="#000" textLength="53.4" lengthAdjust="spacingAndGlyphs">Prostějov</text>
<text x="681.7" y="446.4" font-size="12.6" font-weight="bold" text-anchor="start" fill="#000" textLength="37.5" lengthAdjust="spacingAndGlyphs">Přerov</text>
<text x="802.9" y="428.5" font-size="12.6" font-weight="bold" text-anchor="start" fill="#000" textLength="97" lengthAdjust="spacingAndGlyphs">Valašské Meziříčí</text>
<text x="652.7" y="472.8" font-size="12.6" font-weight="bold" text-anchor="start" fill="#000" textLength="133.5" lengthAdjust="spacingAndGlyphs">Bystřice pod Hostýnem</text>
<text x="572.8" y="484.5" font-size="12.6" font-weight="bold" text-anchor="start" fill="#000" textLength="52.6" lengthAdjust="spacingAndGlyphs">Lobodice</text>
<text x="669.7" y="494.3" font-size="12.6" font-weight="bold" text-anchor="start" fill="#000" textLength="45.6" lengthAdjust="spacingAndGlyphs">Holešov</text>
<text x="808.4" y="495" font-size="12.6" font-weight="bold" text-anchor="start" fill="#000" textLength="34.8" lengthAdjust="spacingAndGlyphs">Vsetín</text>
<text x="591.7" y="518.8" font-size="12.6" font-weight="bold" text-anchor="start" fill="#000" textLength="51.5" lengthAdjust="spacingAndGlyphs">Kroměříž</text>
<text x="711.1" y="524" font-size="12.6" font-weight="bold" text-anchor="start" fill="#000" textLength="20.5" lengthAdjust="spacingAndGlyphs">Zlín</text>
<text x="589.4" y="542.5" font-size="12.6" font-weight="bold" text-anchor="start" fill="#000" textLength="61.4" lengthAdjust="spacingAndGlyphs">Otrokovice</text>
<text x="706.3" y="551.9" font-size="12.6" font-weight="bold" text-anchor="start" fill="#000" textLength="107" lengthAdjust="spacingAndGlyphs">Valašské Klobouky</text>
<text x="603.5" y="563.7" font-size="12.6" font-weight="bold" text-anchor="start" fill="#000" textLength="49.1" lengthAdjust="spacingAndGlyphs">Velehrad</text>
<text x="770" y="581.7" font-size="12.6" font-weight="bold" text-anchor="start" fill="#000" textLength="46.7" lengthAdjust="spacingAndGlyphs">Vizovice</text>
<text x="693.8" y="589.8" font-size="12.6" font-weight="bold" text-anchor="start" fill="#000" textLength="65.5" lengthAdjust="spacingAndGlyphs">Luhačovice</text>
<text x="567.5" y="608.5" font-size="12.6" font-weight="bold" text-anchor="start" fill="#000" textLength="97.9" lengthAdjust="spacingAndGlyphs">Uherské Hradiště</text>
<text x="714.6" y="637.5" font-size="12.6" font-weight="bold" text-anchor="start" fill="#000" textLength="77.4" lengthAdjust="spacingAndGlyphs">Uherský Brod</text>
</svg></body></html>
